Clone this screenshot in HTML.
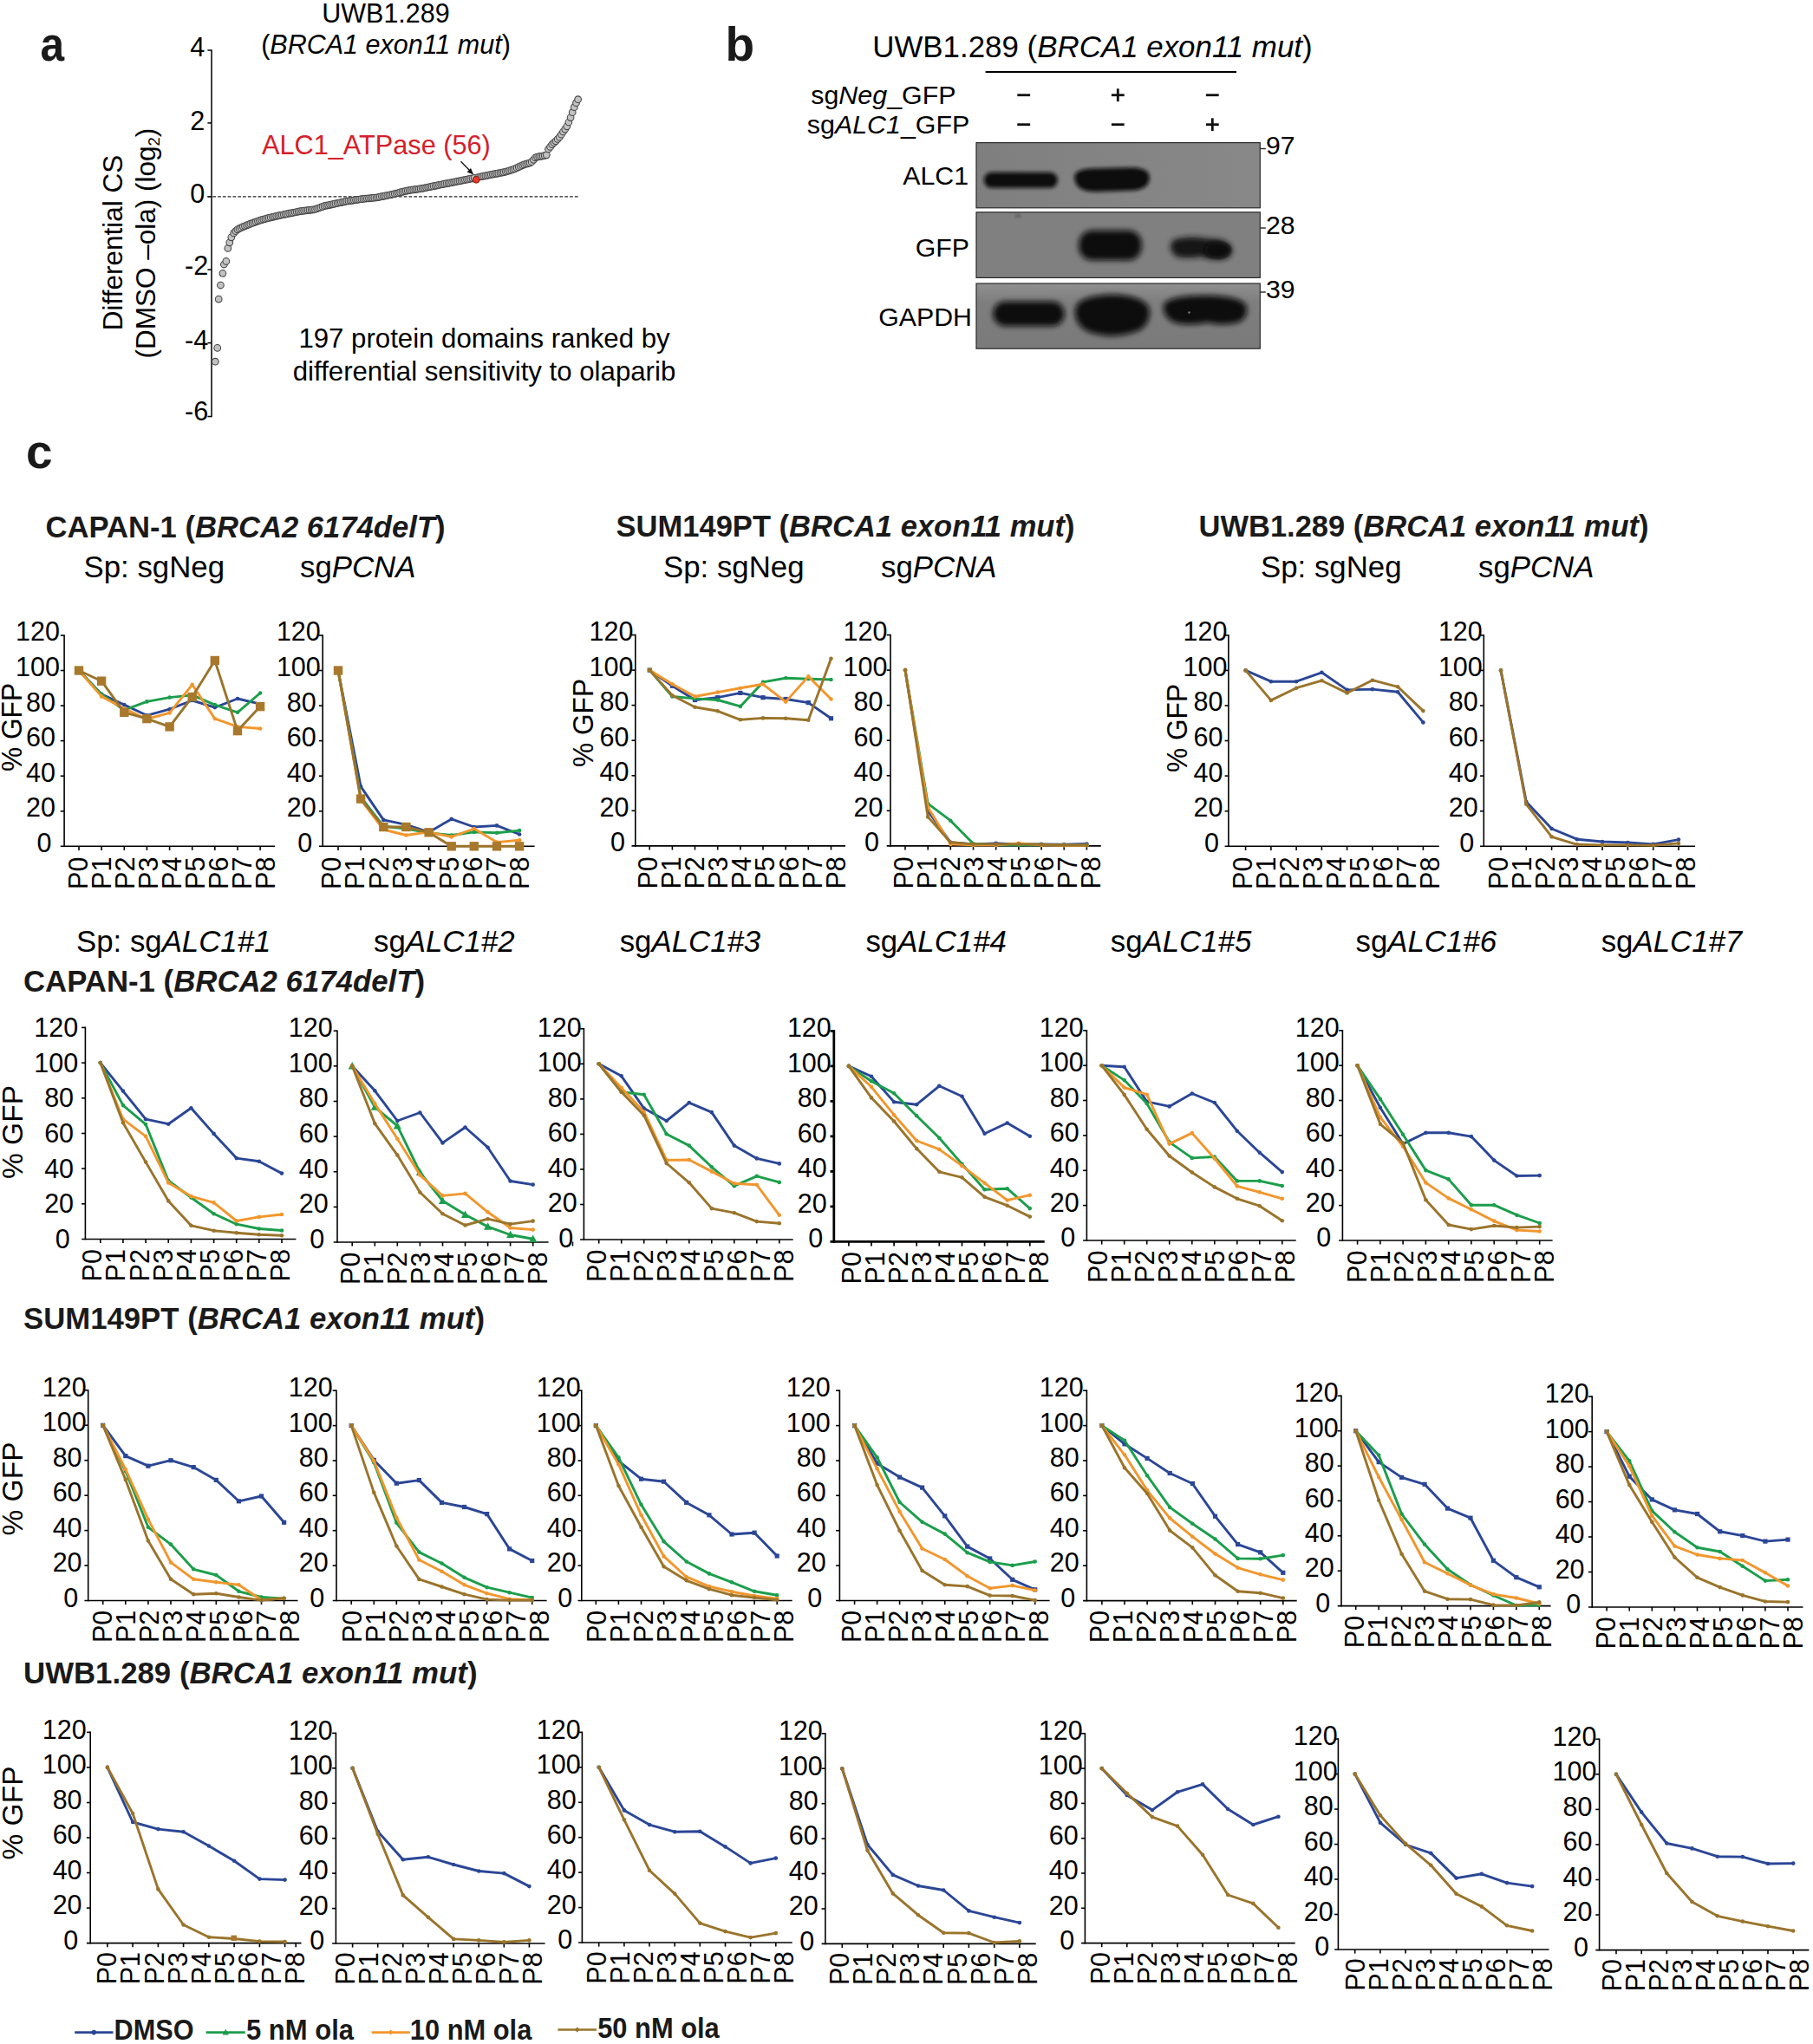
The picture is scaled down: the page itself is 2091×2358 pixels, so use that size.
<!DOCTYPE html>
<html lang="en"><head><meta charset="utf-8"><title>Figure</title>
<style>html,body{margin:0;padding:0;background:#fff}svg{display:block}</style></head>
<body>
<svg width="2091" height="2358" viewBox="0 0 2091 2358" font-family="Liberation Sans, Arial, Helvetica, sans-serif" fill="#000">
<defs><filter id="bl3" x="-30%" y="-60%" width="160%" height="220%"><feGaussianBlur stdDeviation="3"/></filter><filter id="bl4" x="-30%" y="-60%" width="160%" height="220%"><feGaussianBlur stdDeviation="4.5"/></filter><filter id="bl2" x="-30%" y="-60%" width="160%" height="220%"><feGaussianBlur stdDeviation="2"/></filter><clipPath id="cb1"><rect x="1126" y="164.6" width="327.3" height="75.2"/></clipPath><clipPath id="cb2"><rect x="1126" y="244.8" width="327.3" height="75.6"/></clipPath><clipPath id="cb3"><rect x="1126" y="327" width="327.3" height="75.2"/></clipPath><linearGradient id="g3" x1="0" y1="0" x2="0" y2="1"><stop offset="0" stop-color="#8f8f8f"/><stop offset="0.3" stop-color="#7e7e7e"/><stop offset="1" stop-color="#7a7a7a"/></linearGradient><linearGradient id="g1" x1="0" y1="0" x2="1" y2="0"><stop offset="0" stop-color="#7f7f7f"/><stop offset="0.5" stop-color="#848484"/><stop offset="1" stop-color="#888888"/></linearGradient></defs>
<rect width="2091" height="2358" fill="#fff"/>
<text font-size="55" font-weight="bold" fill="#1a1a1a" textLength="27.6" lengthAdjust="spacingAndGlyphs" x="46.5" y="70.0" >a</text>
<text font-size="55" font-weight="bold" fill="#1a1a1a" x="836.5" y="69.5" >b</text>
<text font-size="55" font-weight="bold" fill="#1a1a1a" x="30.0" y="539.5" >c</text>
<text font-size="30.5" text-anchor="middle" x="445.0" y="26.0" >UWB1.289</text>
<text font-size="30.5" text-anchor="middle" x="445.0" y="61.8" >(<tspan font-style="italic">BRCA1 exon11 mut</tspan>)</text>
<line x1="244.0" y1="57.2" x2="244.0" y2="481.2" stroke="#000" stroke-width="1.5" />
<line x1="239.4" y1="58.0" x2="244.0" y2="58.0" stroke="#000" stroke-width="1.5" />
<text font-size="30.6" text-anchor="end" x="236.3" y="65.0" >4</text>
<line x1="239.4" y1="141.9" x2="244.0" y2="141.9" stroke="#000" stroke-width="1.5" />
<text font-size="30.6" text-anchor="end" x="236.3" y="150.2" >2</text>
<line x1="239.4" y1="226.8" x2="244.0" y2="226.8" stroke="#000" stroke-width="1.5" />
<text font-size="30.6" text-anchor="end" x="236.3" y="234.3" >0</text>
<line x1="239.4" y1="311.1" x2="244.0" y2="311.1" stroke="#000" stroke-width="1.5" />
<text font-size="30.6" text-anchor="end" x="240.2" y="317.0" >-2</text>
<line x1="239.4" y1="395.6" x2="244.0" y2="395.6" stroke="#000" stroke-width="1.5" />
<text font-size="30.6" text-anchor="end" x="240.2" y="402.6" >-4</text>
<line x1="239.4" y1="480.5" x2="244.0" y2="480.5" stroke="#000" stroke-width="1.5" />
<text font-size="30.6" text-anchor="end" x="240.2" y="485.3" >-6</text>
<line x1="239.5" y1="226.9" x2="667.0" y2="226.9" stroke="#222" stroke-width="1.4" stroke-dasharray="3.7 2.1"/>
<g fill="#c2c2c2" stroke="#444" stroke-width="1.05">
<circle cx="248.3" cy="417.2" r="3.85"/>
<circle cx="250.7" cy="401.4" r="3.85"/>
<circle cx="252.2" cy="345.1" r="3.85"/>
<circle cx="254.4" cy="329.0" r="3.85"/>
<circle cx="256.9" cy="315.3" r="3.85"/>
<circle cx="258.4" cy="305.0" r="3.85"/>
<circle cx="260.8" cy="301.4" r="3.85"/>
<circle cx="262.8" cy="286.4" r="3.85"/>
<circle cx="264.8" cy="279.8" r="3.85"/>
<circle cx="266.8" cy="273.8" r="3.85"/>
<circle cx="269.6" cy="268.9" r="3.85"/>
<circle cx="271.8" cy="266.7" r="3.85"/>
<circle cx="273.9" cy="264.8" r="3.85"/>
<circle cx="276.0" cy="263.7" r="3.85"/>
<circle cx="278.2" cy="262.7" r="3.85"/>
<circle cx="280.3" cy="261.6" r="3.85"/>
<circle cx="282.4" cy="260.8" r="3.85"/>
<circle cx="284.6" cy="259.9" r="3.85"/>
<circle cx="286.7" cy="259.1" r="3.85"/>
<circle cx="288.8" cy="258.2" r="3.85"/>
<circle cx="291.0" cy="257.4" r="3.85"/>
<circle cx="293.1" cy="256.7" r="3.85"/>
<circle cx="295.3" cy="255.9" r="3.85"/>
<circle cx="297.4" cy="255.1" r="3.85"/>
<circle cx="299.5" cy="254.3" r="3.85"/>
<circle cx="301.7" cy="253.6" r="3.85"/>
<circle cx="303.8" cy="253.0" r="3.85"/>
<circle cx="305.9" cy="252.5" r="3.85"/>
<circle cx="308.1" cy="251.9" r="3.85"/>
<circle cx="310.2" cy="251.4" r="3.85"/>
<circle cx="312.3" cy="250.9" r="3.85"/>
<circle cx="314.5" cy="250.3" r="3.85"/>
<circle cx="316.6" cy="249.8" r="3.85"/>
<circle cx="318.7" cy="249.3" r="3.85"/>
<circle cx="320.9" cy="248.8" r="3.85"/>
<circle cx="323.0" cy="248.4" r="3.85"/>
<circle cx="325.1" cy="248.0" r="3.85"/>
<circle cx="327.3" cy="247.5" r="3.85"/>
<circle cx="329.4" cy="247.1" r="3.85"/>
<circle cx="331.5" cy="246.7" r="3.85"/>
<circle cx="333.7" cy="246.2" r="3.85"/>
<circle cx="335.8" cy="245.8" r="3.85"/>
<circle cx="337.9" cy="245.4" r="3.85"/>
<circle cx="340.1" cy="245.0" r="3.85"/>
<circle cx="342.2" cy="244.5" r="3.85"/>
<circle cx="344.3" cy="244.1" r="3.85"/>
<circle cx="346.5" cy="243.7" r="3.85"/>
<circle cx="348.6" cy="243.4" r="3.85"/>
<circle cx="350.7" cy="243.2" r="3.85"/>
<circle cx="352.9" cy="242.9" r="3.85"/>
<circle cx="355.0" cy="242.6" r="3.85"/>
<circle cx="357.1" cy="242.3" r="3.85"/>
<circle cx="359.3" cy="242.1" r="3.85"/>
<circle cx="361.4" cy="241.8" r="3.85"/>
<circle cx="363.5" cy="241.5" r="3.85"/>
<circle cx="365.7" cy="240.7" r="3.85"/>
<circle cx="367.8" cy="240.0" r="3.85"/>
<circle cx="369.9" cy="239.2" r="3.85"/>
<circle cx="372.1" cy="238.4" r="3.85"/>
<circle cx="374.2" cy="237.7" r="3.85"/>
<circle cx="376.4" cy="237.2" r="3.85"/>
<circle cx="378.5" cy="236.8" r="3.85"/>
<circle cx="380.6" cy="236.3" r="3.85"/>
<circle cx="382.8" cy="235.8" r="3.85"/>
<circle cx="384.9" cy="235.4" r="3.85"/>
<circle cx="387.0" cy="234.9" r="3.85"/>
<circle cx="389.2" cy="234.5" r="3.85"/>
<circle cx="391.3" cy="234.0" r="3.85"/>
<circle cx="393.4" cy="233.6" r="3.85"/>
<circle cx="395.6" cy="233.1" r="3.85"/>
<circle cx="397.7" cy="232.6" r="3.85"/>
<circle cx="399.8" cy="232.2" r="3.85"/>
<circle cx="402.0" cy="231.9" r="3.85"/>
<circle cx="404.1" cy="231.6" r="3.85"/>
<circle cx="406.2" cy="231.3" r="3.85"/>
<circle cx="408.4" cy="230.9" r="3.85"/>
<circle cx="410.5" cy="230.6" r="3.85"/>
<circle cx="412.6" cy="230.3" r="3.85"/>
<circle cx="414.8" cy="230.0" r="3.85"/>
<circle cx="416.9" cy="229.7" r="3.85"/>
<circle cx="419.0" cy="229.5" r="3.85"/>
<circle cx="421.2" cy="229.2" r="3.85"/>
<circle cx="423.3" cy="229.0" r="3.85"/>
<circle cx="425.4" cy="228.8" r="3.85"/>
<circle cx="427.6" cy="228.6" r="3.85"/>
<circle cx="429.7" cy="228.4" r="3.85"/>
<circle cx="431.8" cy="228.2" r="3.85"/>
<circle cx="434.0" cy="228.0" r="3.85"/>
<circle cx="436.1" cy="227.6" r="3.85"/>
<circle cx="438.2" cy="227.2" r="3.85"/>
<circle cx="440.4" cy="226.7" r="3.85"/>
<circle cx="442.5" cy="226.3" r="3.85"/>
<circle cx="444.6" cy="225.9" r="3.85"/>
<circle cx="446.8" cy="225.4" r="3.85"/>
<circle cx="448.9" cy="225.0" r="3.85"/>
<circle cx="451.0" cy="224.6" r="3.85"/>
<circle cx="453.2" cy="224.1" r="3.85"/>
<circle cx="455.3" cy="223.5" r="3.85"/>
<circle cx="457.5" cy="223.0" r="3.85"/>
<circle cx="459.6" cy="222.5" r="3.85"/>
<circle cx="461.7" cy="221.9" r="3.85"/>
<circle cx="463.9" cy="221.4" r="3.85"/>
<circle cx="466.0" cy="220.9" r="3.85"/>
<circle cx="468.1" cy="220.3" r="3.85"/>
<circle cx="470.3" cy="219.9" r="3.85"/>
<circle cx="472.4" cy="219.6" r="3.85"/>
<circle cx="474.5" cy="219.2" r="3.85"/>
<circle cx="476.7" cy="218.9" r="3.85"/>
<circle cx="478.8" cy="218.6" r="3.85"/>
<circle cx="480.9" cy="218.3" r="3.85"/>
<circle cx="483.1" cy="218.0" r="3.85"/>
<circle cx="485.2" cy="217.7" r="3.85"/>
<circle cx="487.3" cy="217.4" r="3.85"/>
<circle cx="489.5" cy="216.9" r="3.85"/>
<circle cx="491.6" cy="216.5" r="3.85"/>
<circle cx="493.7" cy="216.0" r="3.85"/>
<circle cx="495.9" cy="215.6" r="3.85"/>
<circle cx="498.0" cy="215.2" r="3.85"/>
<circle cx="500.1" cy="214.7" r="3.85"/>
<circle cx="502.3" cy="214.3" r="3.85"/>
<circle cx="504.4" cy="213.9" r="3.85"/>
<circle cx="506.5" cy="213.4" r="3.85"/>
<circle cx="508.7" cy="213.0" r="3.85"/>
<circle cx="510.8" cy="212.6" r="3.85"/>
<circle cx="512.9" cy="212.2" r="3.85"/>
<circle cx="515.1" cy="211.7" r="3.85"/>
<circle cx="517.2" cy="211.3" r="3.85"/>
<circle cx="519.3" cy="210.9" r="3.85"/>
<circle cx="521.5" cy="210.5" r="3.85"/>
<circle cx="523.6" cy="210.1" r="3.85"/>
<circle cx="525.7" cy="209.6" r="3.85"/>
<circle cx="527.9" cy="209.2" r="3.85"/>
<circle cx="530.0" cy="208.8" r="3.85"/>
<circle cx="532.1" cy="208.4" r="3.85"/>
<circle cx="534.3" cy="207.9" r="3.85"/>
<circle cx="536.4" cy="207.5" r="3.85"/>
<circle cx="538.5" cy="207.1" r="3.85"/>
<circle cx="540.7" cy="206.7" r="3.85"/>
<circle cx="542.8" cy="206.2" r="3.85"/>
<circle cx="545.0" cy="205.8" r="3.85"/>
<circle cx="547.1" cy="205.3" r="3.85"/>
<circle cx="551.4" cy="204.5" r="3.85"/>
<circle cx="553.5" cy="204.0" r="3.85"/>
<circle cx="555.6" cy="203.6" r="3.85"/>
<circle cx="557.8" cy="203.2" r="3.85"/>
<circle cx="559.9" cy="202.8" r="3.85"/>
<circle cx="562.0" cy="202.4" r="3.85"/>
<circle cx="564.2" cy="201.9" r="3.85"/>
<circle cx="566.3" cy="201.5" r="3.85"/>
<circle cx="568.4" cy="201.1" r="3.85"/>
<circle cx="570.6" cy="200.7" r="3.85"/>
<circle cx="572.7" cy="200.3" r="3.85"/>
<circle cx="574.8" cy="199.9" r="3.85"/>
<circle cx="577.0" cy="199.5" r="3.85"/>
<circle cx="579.1" cy="199.1" r="3.85"/>
<circle cx="581.2" cy="198.7" r="3.85"/>
<circle cx="583.4" cy="198.1" r="3.85"/>
<circle cx="585.5" cy="197.5" r="3.85"/>
<circle cx="587.6" cy="196.8" r="3.85"/>
<circle cx="589.8" cy="196.2" r="3.85"/>
<circle cx="591.9" cy="195.5" r="3.85"/>
<circle cx="594.0" cy="194.7" r="3.85"/>
<circle cx="596.2" cy="193.7" r="3.85"/>
<circle cx="598.3" cy="192.7" r="3.85"/>
<circle cx="600.4" cy="191.7" r="3.85"/>
<circle cx="602.6" cy="190.7" r="3.85"/>
<circle cx="604.7" cy="189.9" r="3.85"/>
<circle cx="606.8" cy="189.2" r="3.85"/>
<circle cx="609.0" cy="188.6" r="3.85"/>
<circle cx="611.1" cy="187.9" r="3.85"/>
<circle cx="613.2" cy="186.7" r="3.85"/>
<circle cx="615.4" cy="184.3" r="3.85"/>
<circle cx="617.5" cy="181.9" r="3.85"/>
<circle cx="619.6" cy="181.1" r="3.85"/>
<circle cx="621.8" cy="180.7" r="3.85"/>
<circle cx="623.9" cy="180.3" r="3.85"/>
<circle cx="626.1" cy="180.0" r="3.85"/>
<circle cx="628.2" cy="179.4" r="3.85"/>
<circle cx="630.3" cy="178.8" r="3.85"/>
<circle cx="632.5" cy="172.0" r="3.85"/>
<circle cx="634.6" cy="169.4" r="3.85"/>
<circle cx="636.7" cy="166.7" r="3.85"/>
<circle cx="638.9" cy="164.7" r="3.85"/>
<circle cx="641.0" cy="162.8" r="3.85"/>
<circle cx="643.1" cy="160.5" r="3.85"/>
<circle cx="645.3" cy="158.2" r="3.85"/>
<circle cx="647.4" cy="155.2" r="3.85"/>
<circle cx="649.5" cy="152.0" r="3.85"/>
<circle cx="651.7" cy="149.1" r="3.85"/>
<circle cx="653.8" cy="145.8" r="3.85"/>
<circle cx="655.9" cy="141.0" r="3.85"/>
<circle cx="658.1" cy="135.6" r="3.85"/>
<circle cx="660.2" cy="129.7" r="3.85"/>
<circle cx="662.3" cy="123.7" r="3.85"/>
<circle cx="664.5" cy="118.7" r="3.85"/>
<circle cx="666.6" cy="114.7" r="3.85"/>
</g>
<circle cx="549.2" cy="207.3" r="3.9" fill="#e8392b" stroke="#7a1a12" stroke-width="0.9"/>
<text font-size="30.7" fill="#d4202a" x="302.0" y="177.8" >ALC1_ATPase (56)</text>
<path d="M531.5,186.3 L543.5,198.5" stroke="#111" stroke-width="1.3" fill="none"/>
<path d="M546.2,201.6 L538.6,198.4 L543.0,194.0 Z" fill="#111"/>
<text font-size="31.5" text-anchor="middle" transform="translate(141.0,280.0) rotate(-90)" >Differential CS</text>
<text font-size="31.2" text-anchor="middle" x="558.5" y="401.2" >197 protein domains ranked by</text>
<text font-size="31.2" text-anchor="middle" x="558.5" y="438.5" >differential sensitivity to olaparib</text>
<text font-size="34.9" x="1006.2" y="65.8" >UWB1.289 (<tspan font-style="italic">BRCA1 exon11 mut</tspan>)</text>
<line x1="1136.6" y1="83.0" x2="1426.0" y2="83.0" stroke="#000" stroke-width="2" />
<text font-size="30.4" text-anchor="end" x="1102.5" y="120.3" >sg<tspan font-style="italic">Neg</tspan>_GFP</text>
<text font-size="30.4" text-anchor="end" x="1118.3" y="154.3" >sg<tspan font-style="italic">ALC1</tspan>_GFP</text>
<rect x="1173.3" y="108.3" width="14.8" height="2.8" fill="#111"/>
<rect x="1281.9" y="108.3" width="14.8" height="2.8" fill="#111"/>
<rect x="1287.9" y="102.3" width="2.8" height="14.8" fill="#111"/>
<rect x="1390.9" y="108.3" width="14.8" height="2.8" fill="#111"/>
<rect x="1173.3" y="142.3" width="14.8" height="2.8" fill="#111"/>
<rect x="1281.9" y="142.3" width="14.8" height="2.8" fill="#111"/>
<rect x="1390.9" y="142.3" width="14.8" height="2.8" fill="#111"/>
<rect x="1396.9" y="136.3" width="2.8" height="14.8" fill="#111"/>
<text font-size="30.3" text-anchor="end" x="1117.0" y="213.3" >ALC1</text>
<text font-size="30.3" text-anchor="end" x="1118.0" y="296.0" >GFP</text>
<text font-size="30.3" text-anchor="end" x="1121.0" y="376.0" >GAPDH</text>
<rect x="1126" y="164.6" width="327.3" height="75.2" fill="url(#g1)"/>
<rect x="1126" y="244.8" width="327.3" height="75.6" fill="#808080"/>
<rect x="1126" y="327" width="327.3" height="75.2" fill="url(#g3)"/>
<g clip-path="url(#cb1)">
<rect x="1137.5" y="201.5" width="79.5" height="12.5" rx="6" fill="#0d0d0d" stroke="#0d0d0d" stroke-width="5.5" stroke-linejoin="round" filter="url(#bl2)"/>
<path d="M1242,204 Q1242,197.5 1262,197 L1306,196 Q1323,196.5 1323,205 Q1323,215 1308,217 L1262,218.5 Q1242,218 1242,204 Z" fill="#0b0b0b" stroke="#0b0b0b" stroke-width="5.5" stroke-linejoin="round" filter="url(#bl2)"/>
</g>
<g clip-path="url(#cb2)">
<rect x="1247" y="268.5" width="67" height="29" rx="13" fill="#0c0c0c" stroke="#0c0c0c" stroke-width="5.5" stroke-linejoin="round" filter="url(#bl3)"/>
<path d="M1355,279 Q1372,274 1392,278 Q1412,277 1418,286 Q1420,296 1406,297 Q1394,297 1386,293 Q1372,296 1359,294 Q1349,287 1355,279 Z" fill="#161616" stroke="#161616" stroke-width="5.5" stroke-linejoin="round" filter="url(#bl3)"/>
<ellipse cx="1404" cy="288.5" rx="12" ry="6" fill="#0e0e0e" stroke="#0e0e0e" stroke-width="5.5" stroke-linejoin="round" filter="url(#bl2)"/>
<ellipse cx="1174" cy="249" rx="3" ry="1.2" fill="#333" filter="url(#bl2)"/>
</g>
<g clip-path="url(#cb3)">
<rect x="1148" y="350.5" width="77" height="23" rx="11.5" fill="#0a0a0a" stroke="#0a0a0a" stroke-width="5.5" stroke-linejoin="round" filter="url(#bl3)"/>
<path d="M1243,356 Q1246,344 1283,342.5 Q1320,344 1323,358 Q1324,372 1312,379 Q1283,390 1256,380 Q1241,372 1243,356 Z" fill="#080808" stroke="#080808" stroke-width="5.5" stroke-linejoin="round" filter="url(#bl3)"/>
<path d="M1345,352 Q1350,344 1390,343.5 Q1430,344 1435,354 Q1437,364 1428,369 Q1412,374 1392,369 Q1372,374 1354,369 Q1343,362 1345,352 Z" fill="#0a0a0a" stroke="#0a0a0a" stroke-width="5.5" stroke-linejoin="round" filter="url(#bl3)"/>
<circle cx="1371.5" cy="360.5" r="1.3" fill="#777"/>
</g>
<rect x="1126" y="164.6" width="327.3" height="75.2" fill="none" stroke="#2a2a2a" stroke-width="1.2"/>
<rect x="1126" y="244.8" width="327.3" height="75.6" fill="none" stroke="#2a2a2a" stroke-width="1.2"/>
<rect x="1126" y="327" width="327.3" height="75.2" fill="none" stroke="#2a2a2a" stroke-width="1.2"/>
<line x1="1453.5" y1="171.5" x2="1459.8" y2="171.5" stroke="#222" stroke-width="1.4" />
<text font-size="30.2" x="1459.9" y="177.6" >97</text>
<line x1="1453.5" y1="263.0" x2="1459.8" y2="263.0" stroke="#222" stroke-width="1.4" />
<text font-size="30.2" x="1459.9" y="269.5" >28</text>
<line x1="1453.5" y1="337.0" x2="1459.8" y2="337.0" stroke="#222" stroke-width="1.4" />
<text font-size="30.2" x="1459.9" y="344.4" >39</text>
<text font-size="31.5" text-anchor="middle" transform="translate(178.7,280.6) rotate(-90)">(DMSO –ola) (log<tspan font-size="18.5" dy="5.5">2</tspan><tspan dy="-5.5">)</tspan></text>
<text font-size="34.7" font-weight="bold" fill="#1a1a1a" textLength="461" lengthAdjust="spacingAndGlyphs" x="52.5" y="619.8" >CAPAN-1 (<tspan font-style="italic">BRCA2 6174delT</tspan>)</text>
<text font-size="34.7" font-weight="bold" fill="#1a1a1a" textLength="529" lengthAdjust="spacingAndGlyphs" x="710.5" y="618.6" >SUM149PT (<tspan font-style="italic">BRCA1 exon11 mut</tspan>)</text>
<text font-size="34.7" font-weight="bold" fill="#1a1a1a" textLength="519" lengthAdjust="spacingAndGlyphs" x="1382.5" y="619.0" >UWB1.289 (<tspan font-style="italic">BRCA1 exon11 mut</tspan>)</text>
<text font-size="34.8" x="96.5" y="665.5" >Sp: sgNeg</text>
<text font-size="34.8" x="346.0" y="665.5" >sg<tspan font-style="italic">PCNA</tspan></text>
<text font-size="34.8" x="765.0" y="665.5" >Sp: sgNeg</text>
<text font-size="34.8" x="1016.0" y="665.5" >sg<tspan font-style="italic">PCNA</tspan></text>
<text font-size="34.8" x="1454.0" y="665.5" >Sp: sgNeg</text>
<text font-size="34.8" x="1705.0" y="665.5" >sg<tspan font-style="italic">PCNA</tspan></text>
<line x1="74.1" y1="732.2" x2="74.1" y2="977.1" stroke="#000" stroke-width="1.6" />
<line x1="69.8" y1="976.3" x2="317.0" y2="976.3" stroke="#000" stroke-width="1.6" />
<text font-size="30.5" text-anchor="end" x="59.4" y="982.7" >0</text>
<line x1="69.8" y1="935.8" x2="74.1" y2="935.8" stroke="#000" stroke-width="1.6" />
<text font-size="30.5" text-anchor="end" x="63.9" y="942.2" >20</text>
<line x1="69.8" y1="895.2" x2="74.1" y2="895.2" stroke="#000" stroke-width="1.6" />
<text font-size="30.5" text-anchor="end" x="63.9" y="901.6" >40</text>
<line x1="69.8" y1="854.6" x2="74.1" y2="854.6" stroke="#000" stroke-width="1.6" />
<text font-size="30.5" text-anchor="end" x="63.9" y="861.1" >60</text>
<line x1="69.8" y1="814.1" x2="74.1" y2="814.1" stroke="#000" stroke-width="1.6" />
<text font-size="30.5" text-anchor="end" x="63.9" y="820.5" >80</text>
<line x1="69.8" y1="773.5" x2="74.1" y2="773.5" stroke="#000" stroke-width="1.6" />
<text font-size="30.5" text-anchor="end" x="68.9" y="780.0" >100</text>
<line x1="69.8" y1="733.0" x2="74.1" y2="733.0" stroke="#000" stroke-width="1.6" />
<text font-size="30.5" text-anchor="end" x="68.9" y="739.4" >120</text>
<line x1="91.0" y1="976.3" x2="91.0" y2="980.9" stroke="#000" stroke-width="1.6" />
<line x1="117.1" y1="976.3" x2="117.1" y2="980.9" stroke="#000" stroke-width="1.6" />
<line x1="143.3" y1="976.3" x2="143.3" y2="980.9" stroke="#000" stroke-width="1.6" />
<line x1="169.4" y1="976.3" x2="169.4" y2="980.9" stroke="#000" stroke-width="1.6" />
<line x1="195.6" y1="976.3" x2="195.6" y2="980.9" stroke="#000" stroke-width="1.6" />
<line x1="221.7" y1="976.3" x2="221.7" y2="980.9" stroke="#000" stroke-width="1.6" />
<line x1="247.8" y1="976.3" x2="247.8" y2="980.9" stroke="#000" stroke-width="1.6" />
<line x1="274.0" y1="976.3" x2="274.0" y2="980.9" stroke="#000" stroke-width="1.6" />
<line x1="300.1" y1="976.3" x2="300.1" y2="980.9" stroke="#000" stroke-width="1.6" />
<text font-size="30.6" text-anchor="end" transform="translate(100.5,988.6) rotate(-90)" >P0</text>
<text font-size="30.6" text-anchor="end" transform="translate(127.5,988.6) rotate(-90)" >P1</text>
<text font-size="30.6" text-anchor="end" transform="translate(154.6,988.6) rotate(-90)" >P2</text>
<text font-size="30.6" text-anchor="end" transform="translate(181.6,988.6) rotate(-90)" >P3</text>
<text font-size="30.6" text-anchor="end" transform="translate(208.6,988.6) rotate(-90)" >P4</text>
<text font-size="30.6" text-anchor="end" transform="translate(235.7,988.6) rotate(-90)" >P5</text>
<text font-size="30.6" text-anchor="end" transform="translate(262.7,988.6) rotate(-90)" >P6</text>
<text font-size="30.6" text-anchor="end" transform="translate(289.7,988.6) rotate(-90)" >P7</text>
<text font-size="30.6" text-anchor="end" transform="translate(316.7,988.6) rotate(-90)" >P8</text>
<polyline points="91.0,773.5 117.1,800.9 143.3,813.1 169.4,825.3 195.6,818.2 221.7,808.0 247.8,816.1 274.0,806.0 300.1,812.1" fill="none" stroke="#2a4696" stroke-width="2.9" stroke-linejoin="round" stroke-linecap="round"/>
<circle cx="91.0" cy="773.5" r="2.3" fill="#2a4696"/>
<circle cx="117.1" cy="800.9" r="2.3" fill="#2a4696"/>
<circle cx="143.3" cy="813.1" r="2.3" fill="#2a4696"/>
<circle cx="169.4" cy="825.3" r="2.3" fill="#2a4696"/>
<circle cx="195.6" cy="818.2" r="2.3" fill="#2a4696"/>
<circle cx="221.7" cy="808.0" r="2.3" fill="#2a4696"/>
<circle cx="247.8" cy="816.1" r="2.3" fill="#2a4696"/>
<circle cx="274.0" cy="806.0" r="2.3" fill="#2a4696"/>
<circle cx="300.1" cy="812.1" r="2.3" fill="#2a4696"/>
<polyline points="91.0,773.5 117.1,800.9 143.3,819.2 169.4,809.4 195.6,804.6 221.7,801.9 247.8,813.1 274.0,821.8 300.1,799.5" fill="none" stroke="#1b9e4b" stroke-width="2.9" stroke-linejoin="round" stroke-linecap="round"/>
<circle cx="91.0" cy="773.5" r="2.3" fill="#1b9e4b"/>
<circle cx="117.1" cy="800.9" r="2.3" fill="#1b9e4b"/>
<circle cx="143.3" cy="819.2" r="2.3" fill="#1b9e4b"/>
<circle cx="169.4" cy="809.4" r="2.3" fill="#1b9e4b"/>
<circle cx="195.6" cy="804.6" r="2.3" fill="#1b9e4b"/>
<circle cx="221.7" cy="801.9" r="2.3" fill="#1b9e4b"/>
<circle cx="247.8" cy="813.1" r="2.3" fill="#1b9e4b"/>
<circle cx="274.0" cy="821.8" r="2.3" fill="#1b9e4b"/>
<circle cx="300.1" cy="799.5" r="2.3" fill="#1b9e4b"/>
<polyline points="91.0,773.5 117.1,803.4 143.3,817.5 169.4,829.5 195.6,822.4 221.7,789.8 247.8,829.1 274.0,838.4 300.1,840.5" fill="none" stroke="#f2962c" stroke-width="2.9" stroke-linejoin="round" stroke-linecap="round"/>
<circle cx="91.0" cy="773.5" r="2.3" fill="#f2962c"/>
<circle cx="117.1" cy="803.4" r="2.3" fill="#f2962c"/>
<circle cx="143.3" cy="817.5" r="2.3" fill="#f2962c"/>
<circle cx="169.4" cy="829.5" r="2.3" fill="#f2962c"/>
<circle cx="195.6" cy="822.4" r="2.3" fill="#f2962c"/>
<circle cx="221.7" cy="789.8" r="2.3" fill="#f2962c"/>
<circle cx="247.8" cy="829.1" r="2.3" fill="#f2962c"/>
<circle cx="274.0" cy="838.4" r="2.3" fill="#f2962c"/>
<circle cx="300.1" cy="840.5" r="2.3" fill="#f2962c"/>
<polyline points="91.0,773.5 117.1,785.7 143.3,821.8 169.4,829.1 195.6,838.4 221.7,804.0 247.8,762.0 274.0,843.1 300.1,815.1" fill="none" stroke="#9a742b" stroke-width="2.9" stroke-linejoin="round" stroke-linecap="round"/>
<rect x="85.8" y="768.3" width="10.4" height="10.4" fill="#a8792c"/>
<rect x="111.9" y="780.5" width="10.4" height="10.4" fill="#a8792c"/>
<rect x="138.1" y="816.6" width="10.4" height="10.4" fill="#a8792c"/>
<rect x="164.2" y="823.9" width="10.4" height="10.4" fill="#a8792c"/>
<rect x="190.4" y="833.2" width="10.4" height="10.4" fill="#a8792c"/>
<rect x="216.5" y="798.8" width="10.4" height="10.4" fill="#a8792c"/>
<rect x="242.6" y="756.8" width="10.4" height="10.4" fill="#a8792c"/>
<rect x="268.8" y="837.9" width="10.4" height="10.4" fill="#a8792c"/>
<rect x="294.9" y="809.9" width="10.4" height="10.4" fill="#a8792c"/>
<text font-size="31.7" text-anchor="middle" transform="translate(24.6,839.0) scale(1.06,1) rotate(-90)" >% GFP</text>
<line x1="372.2" y1="732.2" x2="372.2" y2="977.1" stroke="#000" stroke-width="1.6" />
<line x1="367.9" y1="976.3" x2="616.6" y2="976.3" stroke="#000" stroke-width="1.6" />
<text font-size="30.5" text-anchor="end" x="360.3" y="982.7" >0</text>
<line x1="367.9" y1="935.8" x2="372.2" y2="935.8" stroke="#000" stroke-width="1.6" />
<text font-size="30.5" text-anchor="end" x="364.8" y="942.2" >20</text>
<line x1="367.9" y1="895.2" x2="372.2" y2="895.2" stroke="#000" stroke-width="1.6" />
<text font-size="30.5" text-anchor="end" x="364.8" y="901.6" >40</text>
<line x1="367.9" y1="854.6" x2="372.2" y2="854.6" stroke="#000" stroke-width="1.6" />
<text font-size="30.5" text-anchor="end" x="364.8" y="861.1" >60</text>
<line x1="367.9" y1="814.1" x2="372.2" y2="814.1" stroke="#000" stroke-width="1.6" />
<text font-size="30.5" text-anchor="end" x="364.8" y="820.5" >80</text>
<line x1="367.9" y1="773.5" x2="372.2" y2="773.5" stroke="#000" stroke-width="1.6" />
<text font-size="30.5" text-anchor="end" x="369.8" y="780.0" >100</text>
<line x1="367.9" y1="733.0" x2="372.2" y2="733.0" stroke="#000" stroke-width="1.6" />
<text font-size="30.5" text-anchor="end" x="369.8" y="739.4" >120</text>
<line x1="390.0" y1="976.3" x2="390.0" y2="980.9" stroke="#000" stroke-width="1.6" />
<line x1="416.1" y1="976.3" x2="416.1" y2="980.9" stroke="#000" stroke-width="1.6" />
<line x1="442.3" y1="976.3" x2="442.3" y2="980.9" stroke="#000" stroke-width="1.6" />
<line x1="468.4" y1="976.3" x2="468.4" y2="980.9" stroke="#000" stroke-width="1.6" />
<line x1="494.6" y1="976.3" x2="494.6" y2="980.9" stroke="#000" stroke-width="1.6" />
<line x1="520.7" y1="976.3" x2="520.7" y2="980.9" stroke="#000" stroke-width="1.6" />
<line x1="546.8" y1="976.3" x2="546.8" y2="980.9" stroke="#000" stroke-width="1.6" />
<line x1="573.0" y1="976.3" x2="573.0" y2="980.9" stroke="#000" stroke-width="1.6" />
<line x1="599.1" y1="976.3" x2="599.1" y2="980.9" stroke="#000" stroke-width="1.6" />
<text font-size="30.6" text-anchor="end" transform="translate(393.4,988.6) rotate(-90)" >P0</text>
<text font-size="30.6" text-anchor="end" transform="translate(420.4,988.6) rotate(-90)" >P1</text>
<text font-size="30.6" text-anchor="end" transform="translate(447.5,988.6) rotate(-90)" >P2</text>
<text font-size="30.6" text-anchor="end" transform="translate(474.5,988.6) rotate(-90)" >P3</text>
<text font-size="30.6" text-anchor="end" transform="translate(501.5,988.6) rotate(-90)" >P4</text>
<text font-size="30.6" text-anchor="end" transform="translate(528.5,988.6) rotate(-90)" >P5</text>
<text font-size="30.6" text-anchor="end" transform="translate(555.6,988.6) rotate(-90)" >P6</text>
<text font-size="30.6" text-anchor="end" transform="translate(582.6,988.6) rotate(-90)" >P7</text>
<text font-size="30.6" text-anchor="end" transform="translate(609.6,988.6) rotate(-90)" >P8</text>
<polyline points="390.0,773.5 416.1,907.4 442.3,945.9 468.4,951.4 494.6,959.9 520.7,944.9 546.8,954.0 573.0,952.4 599.1,962.5" fill="none" stroke="#2a4696" stroke-width="2.9" stroke-linejoin="round" stroke-linecap="round"/>
<circle cx="390.0" cy="773.5" r="2.3" fill="#2a4696"/>
<circle cx="416.1" cy="907.4" r="2.3" fill="#2a4696"/>
<circle cx="442.3" cy="945.9" r="2.3" fill="#2a4696"/>
<circle cx="468.4" cy="951.4" r="2.3" fill="#2a4696"/>
<circle cx="494.6" cy="959.9" r="2.3" fill="#2a4696"/>
<circle cx="520.7" cy="944.9" r="2.3" fill="#2a4696"/>
<circle cx="546.8" cy="954.0" r="2.3" fill="#2a4696"/>
<circle cx="573.0" cy="952.4" r="2.3" fill="#2a4696"/>
<circle cx="599.1" cy="962.5" r="2.3" fill="#2a4696"/>
<polyline points="390.0,773.5 416.1,919.5 442.3,953.2 468.4,956.0 494.6,960.7 520.7,963.5 546.8,959.9 573.0,960.7 599.1,958.1" fill="none" stroke="#1b9e4b" stroke-width="2.9" stroke-linejoin="round" stroke-linecap="round"/>
<circle cx="390.0" cy="773.5" r="2.3" fill="#1b9e4b"/>
<circle cx="416.1" cy="919.5" r="2.3" fill="#1b9e4b"/>
<circle cx="442.3" cy="953.2" r="2.3" fill="#1b9e4b"/>
<circle cx="468.4" cy="956.0" r="2.3" fill="#1b9e4b"/>
<circle cx="494.6" cy="960.7" r="2.3" fill="#1b9e4b"/>
<circle cx="520.7" cy="963.5" r="2.3" fill="#1b9e4b"/>
<circle cx="546.8" cy="959.9" r="2.3" fill="#1b9e4b"/>
<circle cx="573.0" cy="960.7" r="2.3" fill="#1b9e4b"/>
<circle cx="599.1" cy="958.1" r="2.3" fill="#1b9e4b"/>
<polyline points="390.0,773.5 416.1,922.4 442.3,957.0 468.4,963.5 494.6,959.9 520.7,965.4 546.8,956.0 573.0,971.6 599.1,969.2" fill="none" stroke="#f2962c" stroke-width="2.9" stroke-linejoin="round" stroke-linecap="round"/>
<circle cx="390.0" cy="773.5" r="2.3" fill="#f2962c"/>
<circle cx="416.1" cy="922.4" r="2.3" fill="#f2962c"/>
<circle cx="442.3" cy="957.0" r="2.3" fill="#f2962c"/>
<circle cx="468.4" cy="963.5" r="2.3" fill="#f2962c"/>
<circle cx="494.6" cy="959.9" r="2.3" fill="#f2962c"/>
<circle cx="520.7" cy="965.4" r="2.3" fill="#f2962c"/>
<circle cx="546.8" cy="956.0" r="2.3" fill="#f2962c"/>
<circle cx="573.0" cy="971.6" r="2.3" fill="#f2962c"/>
<circle cx="599.1" cy="969.2" r="2.3" fill="#f2962c"/>
<polyline points="390.0,773.5 416.1,921.6 442.3,954.0 468.4,954.0 494.6,960.3 520.7,976.3 546.8,976.3 573.0,976.3 599.1,976.3" fill="none" stroke="#9a742b" stroke-width="2.9" stroke-linejoin="round" stroke-linecap="round"/>
<rect x="384.8" y="768.3" width="10.4" height="10.4" fill="#a8792c"/>
<rect x="410.9" y="916.4" width="10.4" height="10.4" fill="#a8792c"/>
<rect x="437.1" y="948.8" width="10.4" height="10.4" fill="#a8792c"/>
<rect x="463.2" y="948.8" width="10.4" height="10.4" fill="#a8792c"/>
<rect x="489.4" y="955.1" width="10.4" height="10.4" fill="#a8792c"/>
<rect x="515.5" y="971.1" width="10.4" height="10.4" fill="#a8792c"/>
<rect x="541.6" y="971.1" width="10.4" height="10.4" fill="#a8792c"/>
<rect x="567.8" y="971.1" width="10.4" height="10.4" fill="#a8792c"/>
<rect x="593.9" y="971.1" width="10.4" height="10.4" fill="#a8792c"/>
<line x1="732.8" y1="731.7" x2="732.8" y2="976.7" stroke="#000" stroke-width="1.6" />
<line x1="728.5" y1="975.9" x2="975.0" y2="975.9" stroke="#000" stroke-width="1.6" />
<text font-size="30.5" text-anchor="end" x="721.0" y="982.3" >0</text>
<line x1="728.5" y1="935.3" x2="732.8" y2="935.3" stroke="#000" stroke-width="1.6" />
<text font-size="30.5" text-anchor="end" x="725.5" y="941.8" >20</text>
<line x1="728.5" y1="894.8" x2="732.8" y2="894.8" stroke="#000" stroke-width="1.6" />
<text font-size="30.5" text-anchor="end" x="725.5" y="901.2" >40</text>
<line x1="728.5" y1="854.2" x2="732.8" y2="854.2" stroke="#000" stroke-width="1.6" />
<text font-size="30.5" text-anchor="end" x="725.5" y="860.6" >60</text>
<line x1="728.5" y1="813.6" x2="732.8" y2="813.6" stroke="#000" stroke-width="1.6" />
<text font-size="30.5" text-anchor="end" x="725.5" y="820.1" >80</text>
<line x1="728.5" y1="773.1" x2="732.8" y2="773.1" stroke="#000" stroke-width="1.6" />
<text font-size="30.5" text-anchor="end" x="730.5" y="779.5" >100</text>
<line x1="728.5" y1="732.5" x2="732.8" y2="732.5" stroke="#000" stroke-width="1.6" />
<text font-size="30.5" text-anchor="end" x="730.5" y="738.9" >120</text>
<line x1="749.2" y1="975.9" x2="749.2" y2="980.5" stroke="#000" stroke-width="1.6" />
<line x1="775.4" y1="975.9" x2="775.4" y2="980.5" stroke="#000" stroke-width="1.6" />
<line x1="801.5" y1="975.9" x2="801.5" y2="980.5" stroke="#000" stroke-width="1.6" />
<line x1="827.7" y1="975.9" x2="827.7" y2="980.5" stroke="#000" stroke-width="1.6" />
<line x1="853.9" y1="975.9" x2="853.9" y2="980.5" stroke="#000" stroke-width="1.6" />
<line x1="880.0" y1="975.9" x2="880.0" y2="980.5" stroke="#000" stroke-width="1.6" />
<line x1="906.2" y1="975.9" x2="906.2" y2="980.5" stroke="#000" stroke-width="1.6" />
<line x1="932.3" y1="975.9" x2="932.3" y2="980.5" stroke="#000" stroke-width="1.6" />
<line x1="958.5" y1="975.9" x2="958.5" y2="980.5" stroke="#000" stroke-width="1.6" />
<text font-size="30.6" text-anchor="end" transform="translate(758.3,988.2) rotate(-90)" >P0</text>
<text font-size="30.6" text-anchor="end" transform="translate(785.3,988.2) rotate(-90)" >P1</text>
<text font-size="30.6" text-anchor="end" transform="translate(812.4,988.2) rotate(-90)" >P2</text>
<text font-size="30.6" text-anchor="end" transform="translate(839.4,988.2) rotate(-90)" >P3</text>
<text font-size="30.6" text-anchor="end" transform="translate(866.4,988.2) rotate(-90)" >P4</text>
<text font-size="30.6" text-anchor="end" transform="translate(893.4,988.2) rotate(-90)" >P5</text>
<text font-size="30.6" text-anchor="end" transform="translate(920.5,988.2) rotate(-90)" >P6</text>
<text font-size="30.6" text-anchor="end" transform="translate(947.5,988.2) rotate(-90)" >P7</text>
<text font-size="30.6" text-anchor="end" transform="translate(974.5,988.2) rotate(-90)" >P8</text>
<polyline points="749.2,773.1 775.4,791.3 801.5,807.5 827.7,804.7 853.9,799.4 880.0,804.7 906.2,806.5 932.3,810.6 958.5,828.8" fill="none" stroke="#2a4696" stroke-width="2.9" stroke-linejoin="round" stroke-linecap="round"/>
<rect x="746.6" y="770.5" width="5.2" height="5.2" fill="#2a4696"/>
<rect x="772.8" y="788.7" width="5.2" height="5.2" fill="#2a4696"/>
<rect x="798.9" y="804.9" width="5.2" height="5.2" fill="#2a4696"/>
<rect x="825.1" y="802.1" width="5.2" height="5.2" fill="#2a4696"/>
<rect x="851.2" y="796.8" width="5.2" height="5.2" fill="#2a4696"/>
<rect x="877.4" y="802.1" width="5.2" height="5.2" fill="#2a4696"/>
<rect x="903.6" y="803.9" width="5.2" height="5.2" fill="#2a4696"/>
<rect x="929.7" y="808.0" width="5.2" height="5.2" fill="#2a4696"/>
<rect x="955.9" y="826.2" width="5.2" height="5.2" fill="#2a4696"/>
<polyline points="749.2,773.1 775.4,803.5 801.5,805.9 827.7,807.5 853.9,814.9 880.0,786.9 906.2,782.2 932.3,783.2 958.5,784.0" fill="none" stroke="#1b9e4b" stroke-width="2.9" stroke-linejoin="round" stroke-linecap="round"/>
<circle cx="749.2" cy="773.1" r="2.3" fill="#1b9e4b"/>
<circle cx="775.4" cy="803.5" r="2.3" fill="#1b9e4b"/>
<circle cx="801.5" cy="805.9" r="2.3" fill="#1b9e4b"/>
<circle cx="827.7" cy="807.5" r="2.3" fill="#1b9e4b"/>
<circle cx="853.9" cy="814.9" r="2.3" fill="#1b9e4b"/>
<circle cx="880.0" cy="786.9" r="2.3" fill="#1b9e4b"/>
<circle cx="906.2" cy="782.2" r="2.3" fill="#1b9e4b"/>
<circle cx="932.3" cy="783.2" r="2.3" fill="#1b9e4b"/>
<circle cx="958.5" cy="784.0" r="2.3" fill="#1b9e4b"/>
<polyline points="749.2,773.1 775.4,789.3 801.5,803.5 827.7,798.6 853.9,793.8 880.0,789.3 906.2,809.6 932.3,780.4 958.5,806.5" fill="none" stroke="#f2962c" stroke-width="2.9" stroke-linejoin="round" stroke-linecap="round"/>
<circle cx="749.2" cy="773.1" r="2.3" fill="#f2962c"/>
<circle cx="775.4" cy="789.3" r="2.3" fill="#f2962c"/>
<circle cx="801.5" cy="803.5" r="2.3" fill="#f2962c"/>
<circle cx="827.7" cy="798.6" r="2.3" fill="#f2962c"/>
<circle cx="853.9" cy="793.8" r="2.3" fill="#f2962c"/>
<circle cx="880.0" cy="789.3" r="2.3" fill="#f2962c"/>
<circle cx="906.2" cy="809.6" r="2.3" fill="#f2962c"/>
<circle cx="932.3" cy="780.4" r="2.3" fill="#f2962c"/>
<circle cx="958.5" cy="806.5" r="2.3" fill="#f2962c"/>
<polyline points="749.2,773.1 775.4,802.3 801.5,815.7 827.7,820.3 853.9,830.3 880.0,828.4 906.2,828.8 932.3,830.7 958.5,759.7" fill="none" stroke="#9a742b" stroke-width="2.9" stroke-linejoin="round" stroke-linecap="round"/>
<circle cx="749.2" cy="773.1" r="2.3" fill="#9a742b"/>
<circle cx="775.4" cy="802.3" r="2.3" fill="#9a742b"/>
<circle cx="801.5" cy="815.7" r="2.3" fill="#9a742b"/>
<circle cx="827.7" cy="820.3" r="2.3" fill="#9a742b"/>
<circle cx="853.9" cy="830.3" r="2.3" fill="#9a742b"/>
<circle cx="880.0" cy="828.4" r="2.3" fill="#9a742b"/>
<circle cx="906.2" cy="828.8" r="2.3" fill="#9a742b"/>
<circle cx="932.3" cy="830.7" r="2.3" fill="#9a742b"/>
<circle cx="958.5" cy="759.7" r="2.3" fill="#9a742b"/>
<text font-size="31.7" text-anchor="middle" transform="translate(683.6,834.0) scale(1.06,1) rotate(-90)" >% GFP</text>
<line x1="1027.0" y1="731.7" x2="1027.0" y2="976.7" stroke="#000" stroke-width="1.6" />
<line x1="1022.7" y1="975.9" x2="1269.8" y2="975.9" stroke="#000" stroke-width="1.6" />
<text font-size="30.5" text-anchor="end" x="1014.0" y="982.3" >0</text>
<line x1="1022.7" y1="935.3" x2="1027.0" y2="935.3" stroke="#000" stroke-width="1.6" />
<text font-size="30.5" text-anchor="end" x="1018.5" y="941.8" >20</text>
<line x1="1022.7" y1="894.8" x2="1027.0" y2="894.8" stroke="#000" stroke-width="1.6" />
<text font-size="30.5" text-anchor="end" x="1018.5" y="901.2" >40</text>
<line x1="1022.7" y1="854.2" x2="1027.0" y2="854.2" stroke="#000" stroke-width="1.6" />
<text font-size="30.5" text-anchor="end" x="1018.5" y="860.6" >60</text>
<line x1="1022.7" y1="813.6" x2="1027.0" y2="813.6" stroke="#000" stroke-width="1.6" />
<text font-size="30.5" text-anchor="end" x="1018.5" y="820.1" >80</text>
<line x1="1022.7" y1="773.1" x2="1027.0" y2="773.1" stroke="#000" stroke-width="1.6" />
<text font-size="30.5" text-anchor="end" x="1023.5" y="779.5" >100</text>
<line x1="1022.7" y1="732.5" x2="1027.0" y2="732.5" stroke="#000" stroke-width="1.6" />
<text font-size="30.5" text-anchor="end" x="1023.5" y="738.9" >120</text>
<line x1="1044.0" y1="975.9" x2="1044.0" y2="980.5" stroke="#000" stroke-width="1.6" />
<line x1="1070.2" y1="975.9" x2="1070.2" y2="980.5" stroke="#000" stroke-width="1.6" />
<line x1="1096.3" y1="975.9" x2="1096.3" y2="980.5" stroke="#000" stroke-width="1.6" />
<line x1="1122.5" y1="975.9" x2="1122.5" y2="980.5" stroke="#000" stroke-width="1.6" />
<line x1="1148.7" y1="975.9" x2="1148.7" y2="980.5" stroke="#000" stroke-width="1.6" />
<line x1="1174.9" y1="975.9" x2="1174.9" y2="980.5" stroke="#000" stroke-width="1.6" />
<line x1="1201.1" y1="975.9" x2="1201.1" y2="980.5" stroke="#000" stroke-width="1.6" />
<line x1="1227.2" y1="975.9" x2="1227.2" y2="980.5" stroke="#000" stroke-width="1.6" />
<line x1="1253.4" y1="975.9" x2="1253.4" y2="980.5" stroke="#000" stroke-width="1.6" />
<text font-size="30.6" text-anchor="end" transform="translate(1053.1,988.2) rotate(-90)" >P0</text>
<text font-size="30.6" text-anchor="end" transform="translate(1080.1,988.2) rotate(-90)" >P1</text>
<text font-size="30.6" text-anchor="end" transform="translate(1107.2,988.2) rotate(-90)" >P2</text>
<text font-size="30.6" text-anchor="end" transform="translate(1134.2,988.2) rotate(-90)" >P3</text>
<text font-size="30.6" text-anchor="end" transform="translate(1161.2,988.2) rotate(-90)" >P4</text>
<text font-size="30.6" text-anchor="end" transform="translate(1188.3,988.2) rotate(-90)" >P5</text>
<text font-size="30.6" text-anchor="end" transform="translate(1215.3,988.2) rotate(-90)" >P6</text>
<text font-size="30.6" text-anchor="end" transform="translate(1242.3,988.2) rotate(-90)" >P7</text>
<text font-size="30.6" text-anchor="end" transform="translate(1269.3,988.2) rotate(-90)" >P8</text>
<polyline points="1044.0,773.1 1070.2,935.3 1096.3,971.8 1122.5,973.9 1148.7,972.9 1174.9,973.9 1201.1,973.9 1227.2,974.3 1253.4,973.5" fill="none" stroke="#2a4696" stroke-width="2.9" stroke-linejoin="round" stroke-linecap="round"/>
<circle cx="1044.0" cy="773.1" r="2.3" fill="#2a4696"/>
<circle cx="1070.2" cy="935.3" r="2.3" fill="#2a4696"/>
<circle cx="1096.3" cy="971.8" r="2.3" fill="#2a4696"/>
<circle cx="1122.5" cy="973.9" r="2.3" fill="#2a4696"/>
<circle cx="1148.7" cy="972.9" r="2.3" fill="#2a4696"/>
<circle cx="1174.9" cy="973.9" r="2.3" fill="#2a4696"/>
<circle cx="1201.1" cy="973.9" r="2.3" fill="#2a4696"/>
<circle cx="1227.2" cy="974.3" r="2.3" fill="#2a4696"/>
<circle cx="1253.4" cy="973.5" r="2.3" fill="#2a4696"/>
<polyline points="1044.0,773.1 1070.2,927.2 1096.3,946.7 1122.5,973.3 1148.7,974.9 1174.9,974.9 1201.1,974.9 1227.2,974.9 1253.4,974.9" fill="none" stroke="#1b9e4b" stroke-width="2.9" stroke-linejoin="round" stroke-linecap="round"/>
<circle cx="1044.0" cy="773.1" r="2.3" fill="#1b9e4b"/>
<circle cx="1070.2" cy="927.2" r="2.3" fill="#1b9e4b"/>
<circle cx="1096.3" cy="946.7" r="2.3" fill="#1b9e4b"/>
<circle cx="1122.5" cy="973.3" r="2.3" fill="#1b9e4b"/>
<circle cx="1148.7" cy="974.9" r="2.3" fill="#1b9e4b"/>
<circle cx="1174.9" cy="974.9" r="2.3" fill="#1b9e4b"/>
<circle cx="1201.1" cy="974.9" r="2.3" fill="#1b9e4b"/>
<circle cx="1227.2" cy="974.9" r="2.3" fill="#1b9e4b"/>
<circle cx="1253.4" cy="974.9" r="2.3" fill="#1b9e4b"/>
<polyline points="1044.0,773.1 1070.2,931.3 1096.3,973.9 1122.5,974.9 1148.7,974.9 1174.9,972.9 1201.1,974.9 1227.2,975.3 1253.4,975.3" fill="none" stroke="#f2962c" stroke-width="2.9" stroke-linejoin="round" stroke-linecap="round"/>
<circle cx="1044.0" cy="773.1" r="2.3" fill="#f2962c"/>
<circle cx="1070.2" cy="931.3" r="2.3" fill="#f2962c"/>
<circle cx="1096.3" cy="973.9" r="2.3" fill="#f2962c"/>
<circle cx="1122.5" cy="974.9" r="2.3" fill="#f2962c"/>
<circle cx="1148.7" cy="974.9" r="2.3" fill="#f2962c"/>
<circle cx="1174.9" cy="972.9" r="2.3" fill="#f2962c"/>
<circle cx="1201.1" cy="974.9" r="2.3" fill="#f2962c"/>
<circle cx="1227.2" cy="975.3" r="2.3" fill="#f2962c"/>
<circle cx="1253.4" cy="975.3" r="2.3" fill="#f2962c"/>
<polyline points="1044.0,773.1 1070.2,942.4 1096.3,971.8 1122.5,973.9 1148.7,973.9 1174.9,973.9 1201.1,974.3 1227.2,974.9 1253.4,974.9" fill="none" stroke="#9a742b" stroke-width="2.9" stroke-linejoin="round" stroke-linecap="round"/>
<circle cx="1044.0" cy="773.1" r="2.3" fill="#9a742b"/>
<circle cx="1070.2" cy="942.4" r="2.3" fill="#9a742b"/>
<circle cx="1096.3" cy="971.8" r="2.3" fill="#9a742b"/>
<circle cx="1122.5" cy="973.9" r="2.3" fill="#9a742b"/>
<circle cx="1148.7" cy="973.9" r="2.3" fill="#9a742b"/>
<circle cx="1174.9" cy="973.9" r="2.3" fill="#9a742b"/>
<circle cx="1201.1" cy="974.3" r="2.3" fill="#9a742b"/>
<circle cx="1227.2" cy="974.9" r="2.3" fill="#9a742b"/>
<circle cx="1253.4" cy="974.9" r="2.3" fill="#9a742b"/>
<line x1="1416.9" y1="732.0" x2="1416.9" y2="977.1" stroke="#000" stroke-width="1.6" />
<line x1="1412.6" y1="976.3" x2="1659.8" y2="976.3" stroke="#000" stroke-width="1.6" />
<text font-size="30.5" text-anchor="end" x="1405.9" y="982.7" >0</text>
<line x1="1412.6" y1="935.7" x2="1416.9" y2="935.7" stroke="#000" stroke-width="1.6" />
<text font-size="30.5" text-anchor="end" x="1410.4" y="942.1" >20</text>
<line x1="1412.6" y1="895.1" x2="1416.9" y2="895.1" stroke="#000" stroke-width="1.6" />
<text font-size="30.5" text-anchor="end" x="1410.4" y="901.6" >40</text>
<line x1="1412.6" y1="854.5" x2="1416.9" y2="854.5" stroke="#000" stroke-width="1.6" />
<text font-size="30.5" text-anchor="end" x="1410.4" y="861.0" >60</text>
<line x1="1412.6" y1="814.0" x2="1416.9" y2="814.0" stroke="#000" stroke-width="1.6" />
<text font-size="30.5" text-anchor="end" x="1410.4" y="820.4" >80</text>
<line x1="1412.6" y1="773.4" x2="1416.9" y2="773.4" stroke="#000" stroke-width="1.6" />
<text font-size="30.5" text-anchor="end" x="1415.4" y="779.8" >100</text>
<line x1="1412.6" y1="732.8" x2="1416.9" y2="732.8" stroke="#000" stroke-width="1.6" />
<text font-size="30.5" text-anchor="end" x="1415.4" y="739.2" >120</text>
<line x1="1436.6" y1="976.3" x2="1436.6" y2="980.9" stroke="#000" stroke-width="1.6" />
<line x1="1465.9" y1="976.3" x2="1465.9" y2="980.9" stroke="#000" stroke-width="1.6" />
<line x1="1495.1" y1="976.3" x2="1495.1" y2="980.9" stroke="#000" stroke-width="1.6" />
<line x1="1524.4" y1="976.3" x2="1524.4" y2="980.9" stroke="#000" stroke-width="1.6" />
<line x1="1553.6" y1="976.3" x2="1553.6" y2="980.9" stroke="#000" stroke-width="1.6" />
<line x1="1582.9" y1="976.3" x2="1582.9" y2="980.9" stroke="#000" stroke-width="1.6" />
<line x1="1612.1" y1="976.3" x2="1612.1" y2="980.9" stroke="#000" stroke-width="1.6" />
<line x1="1641.4" y1="976.3" x2="1641.4" y2="980.9" stroke="#000" stroke-width="1.6" />
<text font-size="30.6" text-anchor="end" transform="translate(1443.7,988.6) rotate(-90)" >P0</text>
<text font-size="30.6" text-anchor="end" transform="translate(1470.7,988.6) rotate(-90)" >P1</text>
<text font-size="30.6" text-anchor="end" transform="translate(1497.8,988.6) rotate(-90)" >P2</text>
<text font-size="30.6" text-anchor="end" transform="translate(1524.8,988.6) rotate(-90)" >P3</text>
<text font-size="30.6" text-anchor="end" transform="translate(1551.8,988.6) rotate(-90)" >P4</text>
<text font-size="30.6" text-anchor="end" transform="translate(1578.9,988.6) rotate(-90)" >P5</text>
<text font-size="30.6" text-anchor="end" transform="translate(1605.9,988.6) rotate(-90)" >P6</text>
<text font-size="30.6" text-anchor="end" transform="translate(1632.9,988.6) rotate(-90)" >P7</text>
<text font-size="30.6" text-anchor="end" transform="translate(1659.9,988.6) rotate(-90)" >P8</text>
<polyline points="1436.6,773.4 1465.9,786.2 1495.1,786.2 1524.4,775.8 1553.6,795.9 1582.9,795.1 1612.1,798.3 1641.4,833.4" fill="none" stroke="#2a4696" stroke-width="2.9" stroke-linejoin="round" stroke-linecap="round"/>
<circle cx="1436.6" cy="773.4" r="2.3" fill="#2a4696"/>
<circle cx="1465.9" cy="786.2" r="2.3" fill="#2a4696"/>
<circle cx="1495.1" cy="786.2" r="2.3" fill="#2a4696"/>
<circle cx="1524.4" cy="775.8" r="2.3" fill="#2a4696"/>
<circle cx="1553.6" cy="795.9" r="2.3" fill="#2a4696"/>
<circle cx="1582.9" cy="795.1" r="2.3" fill="#2a4696"/>
<circle cx="1612.1" cy="798.3" r="2.3" fill="#2a4696"/>
<circle cx="1641.4" cy="833.4" r="2.3" fill="#2a4696"/>
<polyline points="1436.6,773.4 1465.9,807.9 1495.1,793.7 1524.4,785.2 1553.6,799.4 1582.9,784.7 1612.1,792.3 1641.4,820.1" fill="none" stroke="#9a742b" stroke-width="2.9" stroke-linejoin="round" stroke-linecap="round"/>
<circle cx="1436.6" cy="773.4" r="2.3" fill="#9a742b"/>
<circle cx="1465.9" cy="807.9" r="2.3" fill="#9a742b"/>
<circle cx="1495.1" cy="793.7" r="2.3" fill="#9a742b"/>
<circle cx="1524.4" cy="785.2" r="2.3" fill="#9a742b"/>
<circle cx="1553.6" cy="799.4" r="2.3" fill="#9a742b"/>
<circle cx="1582.9" cy="784.7" r="2.3" fill="#9a742b"/>
<circle cx="1612.1" cy="792.3" r="2.3" fill="#9a742b"/>
<circle cx="1641.4" cy="820.1" r="2.3" fill="#9a742b"/>
<text font-size="31.7" text-anchor="middle" transform="translate(1369.1,840.0) scale(1.06,1) rotate(-90)" >% GFP</text>
<line x1="1711.3" y1="732.0" x2="1711.3" y2="977.1" stroke="#000" stroke-width="1.6" />
<line x1="1707.0" y1="976.3" x2="1955.0" y2="976.3" stroke="#000" stroke-width="1.6" />
<text font-size="30.5" text-anchor="end" x="1700.3" y="982.7" >0</text>
<line x1="1707.0" y1="935.7" x2="1711.3" y2="935.7" stroke="#000" stroke-width="1.6" />
<text font-size="30.5" text-anchor="end" x="1704.8" y="942.1" >20</text>
<line x1="1707.0" y1="895.1" x2="1711.3" y2="895.1" stroke="#000" stroke-width="1.6" />
<text font-size="30.5" text-anchor="end" x="1704.8" y="901.6" >40</text>
<line x1="1707.0" y1="854.5" x2="1711.3" y2="854.5" stroke="#000" stroke-width="1.6" />
<text font-size="30.5" text-anchor="end" x="1704.8" y="861.0" >60</text>
<line x1="1707.0" y1="814.0" x2="1711.3" y2="814.0" stroke="#000" stroke-width="1.6" />
<text font-size="30.5" text-anchor="end" x="1704.8" y="820.4" >80</text>
<line x1="1707.0" y1="773.4" x2="1711.3" y2="773.4" stroke="#000" stroke-width="1.6" />
<text font-size="30.5" text-anchor="end" x="1709.8" y="779.8" >100</text>
<line x1="1707.0" y1="732.8" x2="1711.3" y2="732.8" stroke="#000" stroke-width="1.6" />
<text font-size="30.5" text-anchor="end" x="1709.8" y="739.2" >120</text>
<line x1="1731.0" y1="976.3" x2="1731.0" y2="980.9" stroke="#000" stroke-width="1.6" />
<line x1="1760.3" y1="976.3" x2="1760.3" y2="980.9" stroke="#000" stroke-width="1.6" />
<line x1="1789.6" y1="976.3" x2="1789.6" y2="980.9" stroke="#000" stroke-width="1.6" />
<line x1="1818.9" y1="976.3" x2="1818.9" y2="980.9" stroke="#000" stroke-width="1.6" />
<line x1="1848.1" y1="976.3" x2="1848.1" y2="980.9" stroke="#000" stroke-width="1.6" />
<line x1="1877.4" y1="976.3" x2="1877.4" y2="980.9" stroke="#000" stroke-width="1.6" />
<line x1="1906.7" y1="976.3" x2="1906.7" y2="980.9" stroke="#000" stroke-width="1.6" />
<line x1="1936.0" y1="976.3" x2="1936.0" y2="980.9" stroke="#000" stroke-width="1.6" />
<text font-size="30.6" text-anchor="end" transform="translate(1738.9,988.6) rotate(-90)" >P0</text>
<text font-size="30.6" text-anchor="end" transform="translate(1765.9,988.6) rotate(-90)" >P1</text>
<text font-size="30.6" text-anchor="end" transform="translate(1793.0,988.6) rotate(-90)" >P2</text>
<text font-size="30.6" text-anchor="end" transform="translate(1820.0,988.6) rotate(-90)" >P3</text>
<text font-size="30.6" text-anchor="end" transform="translate(1847.0,988.6) rotate(-90)" >P4</text>
<text font-size="30.6" text-anchor="end" transform="translate(1874.1,988.6) rotate(-90)" >P5</text>
<text font-size="30.6" text-anchor="end" transform="translate(1901.1,988.6) rotate(-90)" >P6</text>
<text font-size="30.6" text-anchor="end" transform="translate(1928.1,988.6) rotate(-90)" >P7</text>
<text font-size="30.6" text-anchor="end" transform="translate(1955.1,988.6) rotate(-90)" >P8</text>
<polyline points="1731.0,773.4 1760.3,925.0 1789.6,956.0 1818.9,968.2 1848.1,971.0 1877.4,972.0 1906.7,973.9 1936.0,968.6" fill="none" stroke="#2a4696" stroke-width="2.9" stroke-linejoin="round" stroke-linecap="round"/>
<circle cx="1731.0" cy="773.4" r="2.3" fill="#2a4696"/>
<circle cx="1760.3" cy="925.0" r="2.3" fill="#2a4696"/>
<circle cx="1789.6" cy="956.0" r="2.3" fill="#2a4696"/>
<circle cx="1818.9" cy="968.2" r="2.3" fill="#2a4696"/>
<circle cx="1848.1" cy="971.0" r="2.3" fill="#2a4696"/>
<circle cx="1877.4" cy="972.0" r="2.3" fill="#2a4696"/>
<circle cx="1906.7" cy="973.9" r="2.3" fill="#2a4696"/>
<circle cx="1936.0" cy="968.6" r="2.3" fill="#2a4696"/>
<polyline points="1731.0,773.4 1760.3,927.8 1789.6,965.3 1818.9,974.3 1848.1,974.9 1877.4,974.9 1906.7,975.3 1936.0,972.9" fill="none" stroke="#9a742b" stroke-width="2.9" stroke-linejoin="round" stroke-linecap="round"/>
<circle cx="1731.0" cy="773.4" r="2.3" fill="#9a742b"/>
<circle cx="1760.3" cy="927.8" r="2.3" fill="#9a742b"/>
<circle cx="1789.6" cy="965.3" r="2.3" fill="#9a742b"/>
<circle cx="1818.9" cy="974.3" r="2.3" fill="#9a742b"/>
<circle cx="1848.1" cy="974.9" r="2.3" fill="#9a742b"/>
<circle cx="1877.4" cy="974.9" r="2.3" fill="#9a742b"/>
<circle cx="1906.7" cy="975.3" r="2.3" fill="#9a742b"/>
<circle cx="1936.0" cy="972.9" r="2.3" fill="#9a742b"/>
<text font-size="34.8" x="88.0" y="1098.0" >Sp: sg<tspan font-style="italic">ALC1#1</tspan></text>
<text font-size="34.8" x="431.0" y="1098.0" >sg<tspan font-style="italic">ALC1#2</tspan></text>
<text font-size="34.8" x="714.7" y="1098.0" >sg<tspan font-style="italic">ALC1#3</tspan></text>
<text font-size="34.8" x="998.4" y="1098.0" >sg<tspan font-style="italic">ALC1#4</tspan></text>
<text font-size="34.8" x="1280.8" y="1098.0" >sg<tspan font-style="italic">ALC1#5</tspan></text>
<text font-size="34.8" x="1563.5" y="1098.0" >sg<tspan font-style="italic">ALC1#6</tspan></text>
<text font-size="34.8" x="1846.7" y="1098.0" >sg<tspan font-style="italic">ALC1#7</tspan></text>
<text font-size="34.7" font-weight="bold" fill="#1a1a1a" textLength="463" lengthAdjust="spacingAndGlyphs" x="27.0" y="1143.8" >CAPAN-1 (<tspan font-style="italic">BRCA2 6174delT</tspan>)</text>
<text font-size="34.7" font-weight="bold" fill="#1a1a1a" textLength="532" lengthAdjust="spacingAndGlyphs" x="27.0" y="1532.8" >SUM149PT (<tspan font-style="italic">BRCA1 exon11 mut</tspan>)</text>
<text font-size="34.7" font-weight="bold" fill="#1a1a1a" textLength="523.5" lengthAdjust="spacingAndGlyphs" x="27.0" y="1942.1" >UWB1.289 (<tspan font-style="italic">BRCA1 exon11 mut</tspan>)</text>
<line x1="98.4" y1="1184.6" x2="98.4" y2="1430.3" stroke="#000" stroke-width="1.6" />
<line x1="94.1" y1="1429.5" x2="341.5" y2="1429.5" stroke="#000" stroke-width="1.6" />
<text font-size="30.5" text-anchor="end" x="80.6" y="1440.1" >0</text>
<line x1="94.1" y1="1388.8" x2="98.4" y2="1388.8" stroke="#000" stroke-width="1.6" />
<text font-size="30.5" text-anchor="end" x="85.1" y="1399.4" >20</text>
<line x1="94.1" y1="1348.1" x2="98.4" y2="1348.1" stroke="#000" stroke-width="1.6" />
<text font-size="30.5" text-anchor="end" x="85.1" y="1358.8" >40</text>
<line x1="94.1" y1="1307.5" x2="98.4" y2="1307.5" stroke="#000" stroke-width="1.6" />
<text font-size="30.5" text-anchor="end" x="85.1" y="1318.1" >60</text>
<line x1="94.1" y1="1266.8" x2="98.4" y2="1266.8" stroke="#000" stroke-width="1.6" />
<text font-size="30.5" text-anchor="end" x="85.1" y="1277.4" >80</text>
<line x1="94.1" y1="1226.1" x2="98.4" y2="1226.1" stroke="#000" stroke-width="1.6" />
<text font-size="30.5" text-anchor="end" x="90.1" y="1236.7" >100</text>
<line x1="94.1" y1="1185.4" x2="98.4" y2="1185.4" stroke="#000" stroke-width="1.6" />
<text font-size="30.5" text-anchor="end" x="90.1" y="1196.0" >120</text>
<line x1="115.8" y1="1429.5" x2="115.8" y2="1434.1" stroke="#000" stroke-width="1.6" />
<line x1="141.9" y1="1429.5" x2="141.9" y2="1434.1" stroke="#000" stroke-width="1.6" />
<line x1="168.1" y1="1429.5" x2="168.1" y2="1434.1" stroke="#000" stroke-width="1.6" />
<line x1="194.2" y1="1429.5" x2="194.2" y2="1434.1" stroke="#000" stroke-width="1.6" />
<line x1="220.4" y1="1429.5" x2="220.4" y2="1434.1" stroke="#000" stroke-width="1.6" />
<line x1="246.6" y1="1429.5" x2="246.6" y2="1434.1" stroke="#000" stroke-width="1.6" />
<line x1="272.7" y1="1429.5" x2="272.7" y2="1434.1" stroke="#000" stroke-width="1.6" />
<line x1="298.8" y1="1429.5" x2="298.8" y2="1434.1" stroke="#000" stroke-width="1.6" />
<line x1="325.0" y1="1429.5" x2="325.0" y2="1434.1" stroke="#000" stroke-width="1.6" />
<text font-size="30.6" text-anchor="end" transform="translate(117.4,1441.1) rotate(-90)" >P0</text>
<text font-size="30.6" text-anchor="end" transform="translate(144.4,1441.1) rotate(-90)" >P1</text>
<text font-size="30.6" text-anchor="end" transform="translate(171.5,1441.1) rotate(-90)" >P2</text>
<text font-size="30.6" text-anchor="end" transform="translate(198.5,1441.1) rotate(-90)" >P3</text>
<text font-size="30.6" text-anchor="end" transform="translate(225.5,1441.1) rotate(-90)" >P4</text>
<text font-size="30.6" text-anchor="end" transform="translate(252.6,1441.1) rotate(-90)" >P5</text>
<text font-size="30.6" text-anchor="end" transform="translate(279.6,1441.1) rotate(-90)" >P6</text>
<text font-size="30.6" text-anchor="end" transform="translate(306.6,1441.1) rotate(-90)" >P7</text>
<text font-size="30.6" text-anchor="end" transform="translate(333.6,1441.1) rotate(-90)" >P8</text>
<polyline points="115.8,1226.1 141.9,1258.6 168.1,1291.2 194.2,1296.7 220.4,1278.2 246.6,1307.9 272.7,1336.1 298.8,1339.8 325.0,1353.6" fill="none" stroke="#2a4696" stroke-width="2.9" stroke-linejoin="round" stroke-linecap="round"/>
<circle cx="115.8" cy="1226.1" r="2.3" fill="#2a4696"/>
<circle cx="141.9" cy="1258.6" r="2.3" fill="#2a4696"/>
<circle cx="168.1" cy="1291.2" r="2.3" fill="#2a4696"/>
<circle cx="194.2" cy="1296.7" r="2.3" fill="#2a4696"/>
<circle cx="220.4" cy="1278.2" r="2.3" fill="#2a4696"/>
<circle cx="246.6" cy="1307.9" r="2.3" fill="#2a4696"/>
<circle cx="272.7" cy="1336.1" r="2.3" fill="#2a4696"/>
<circle cx="298.8" cy="1339.8" r="2.3" fill="#2a4696"/>
<circle cx="325.0" cy="1353.6" r="2.3" fill="#2a4696"/>
<polyline points="115.8,1226.1 141.9,1275.1 168.1,1297.1 194.2,1362.0 220.4,1381.5 246.6,1400.2 272.7,1412.2 298.8,1417.5 325.0,1419.5" fill="none" stroke="#1b9e4b" stroke-width="2.9" stroke-linejoin="round" stroke-linecap="round"/>
<circle cx="115.8" cy="1226.1" r="2.3" fill="#1b9e4b"/>
<circle cx="141.9" cy="1275.1" r="2.3" fill="#1b9e4b"/>
<circle cx="168.1" cy="1297.1" r="2.3" fill="#1b9e4b"/>
<circle cx="194.2" cy="1362.0" r="2.3" fill="#1b9e4b"/>
<circle cx="220.4" cy="1381.5" r="2.3" fill="#1b9e4b"/>
<circle cx="246.6" cy="1400.2" r="2.3" fill="#1b9e4b"/>
<circle cx="272.7" cy="1412.2" r="2.3" fill="#1b9e4b"/>
<circle cx="298.8" cy="1417.5" r="2.3" fill="#1b9e4b"/>
<circle cx="325.0" cy="1419.5" r="2.3" fill="#1b9e4b"/>
<polyline points="115.8,1226.1 141.9,1291.2 168.1,1310.9 194.2,1364.4 220.4,1380.1 246.6,1387.4 272.7,1408.5 298.8,1403.9 325.0,1401.0" fill="none" stroke="#f2962c" stroke-width="2.9" stroke-linejoin="round" stroke-linecap="round"/>
<circle cx="115.8" cy="1226.1" r="2.3" fill="#f2962c"/>
<circle cx="141.9" cy="1291.2" r="2.3" fill="#f2962c"/>
<circle cx="168.1" cy="1310.9" r="2.3" fill="#f2962c"/>
<circle cx="194.2" cy="1364.4" r="2.3" fill="#f2962c"/>
<circle cx="220.4" cy="1380.1" r="2.3" fill="#f2962c"/>
<circle cx="246.6" cy="1387.4" r="2.3" fill="#f2962c"/>
<circle cx="272.7" cy="1408.5" r="2.3" fill="#f2962c"/>
<circle cx="298.8" cy="1403.9" r="2.3" fill="#f2962c"/>
<circle cx="325.0" cy="1401.0" r="2.3" fill="#f2962c"/>
<polyline points="115.8,1226.1 141.9,1295.2 168.1,1340.6 194.2,1385.4 220.4,1413.8 246.6,1419.7 272.7,1422.2 298.8,1424.2 325.0,1425.2" fill="none" stroke="#9a742b" stroke-width="2.9" stroke-linejoin="round" stroke-linecap="round"/>
<circle cx="115.8" cy="1226.1" r="2.3" fill="#9a742b"/>
<circle cx="141.9" cy="1295.2" r="2.3" fill="#9a742b"/>
<circle cx="168.1" cy="1340.6" r="2.3" fill="#9a742b"/>
<circle cx="194.2" cy="1385.4" r="2.3" fill="#9a742b"/>
<circle cx="220.4" cy="1413.8" r="2.3" fill="#9a742b"/>
<circle cx="246.6" cy="1419.7" r="2.3" fill="#9a742b"/>
<circle cx="272.7" cy="1422.2" r="2.3" fill="#9a742b"/>
<circle cx="298.8" cy="1424.2" r="2.3" fill="#9a742b"/>
<circle cx="325.0" cy="1425.2" r="2.3" fill="#9a742b"/>
<text font-size="33.5" text-anchor="middle" transform="translate(26.0,1306.0) rotate(-90)" >% GFP</text>
<line x1="389.0" y1="1188.4" x2="389.0" y2="1433.8" stroke="#000" stroke-width="1.6" />
<line x1="384.7" y1="1433.0" x2="632.6" y2="1433.0" stroke="#000" stroke-width="1.6" />
<text font-size="30.5" text-anchor="end" x="374.2" y="1439.7" >0</text>
<line x1="384.7" y1="1392.4" x2="389.0" y2="1392.4" stroke="#000" stroke-width="1.6" />
<text font-size="30.5" text-anchor="end" x="378.7" y="1399.1" >20</text>
<line x1="384.7" y1="1351.7" x2="389.0" y2="1351.7" stroke="#000" stroke-width="1.6" />
<text font-size="30.5" text-anchor="end" x="378.7" y="1358.5" >40</text>
<line x1="384.7" y1="1311.1" x2="389.0" y2="1311.1" stroke="#000" stroke-width="1.6" />
<text font-size="30.5" text-anchor="end" x="378.7" y="1317.8" >60</text>
<line x1="384.7" y1="1270.5" x2="389.0" y2="1270.5" stroke="#000" stroke-width="1.6" />
<text font-size="30.5" text-anchor="end" x="378.7" y="1277.2" >80</text>
<line x1="384.7" y1="1229.8" x2="389.0" y2="1229.8" stroke="#000" stroke-width="1.6" />
<text font-size="30.5" text-anchor="end" x="383.7" y="1236.6" >100</text>
<line x1="384.7" y1="1189.2" x2="389.0" y2="1189.2" stroke="#000" stroke-width="1.6" />
<text font-size="30.5" text-anchor="end" x="383.7" y="1195.9" >120</text>
<line x1="406.2" y1="1433.0" x2="406.2" y2="1437.6" stroke="#000" stroke-width="1.6" />
<line x1="432.3" y1="1433.0" x2="432.3" y2="1437.6" stroke="#000" stroke-width="1.6" />
<line x1="458.3" y1="1433.0" x2="458.3" y2="1437.6" stroke="#000" stroke-width="1.6" />
<line x1="484.4" y1="1433.0" x2="484.4" y2="1437.6" stroke="#000" stroke-width="1.6" />
<line x1="510.5" y1="1433.0" x2="510.5" y2="1437.6" stroke="#000" stroke-width="1.6" />
<line x1="536.5" y1="1433.0" x2="536.5" y2="1437.6" stroke="#000" stroke-width="1.6" />
<line x1="562.6" y1="1433.0" x2="562.6" y2="1437.6" stroke="#000" stroke-width="1.6" />
<line x1="588.6" y1="1433.0" x2="588.6" y2="1437.6" stroke="#000" stroke-width="1.6" />
<line x1="614.7" y1="1433.0" x2="614.7" y2="1437.6" stroke="#000" stroke-width="1.6" />
<text font-size="30.6" text-anchor="end" transform="translate(415.1,1444.6) rotate(-90)" >P0</text>
<text font-size="30.6" text-anchor="end" transform="translate(442.1,1444.6) rotate(-90)" >P1</text>
<text font-size="30.6" text-anchor="end" transform="translate(469.2,1444.6) rotate(-90)" >P2</text>
<text font-size="30.6" text-anchor="end" transform="translate(496.2,1444.6) rotate(-90)" >P3</text>
<text font-size="30.6" text-anchor="end" transform="translate(523.2,1444.6) rotate(-90)" >P4</text>
<text font-size="30.6" text-anchor="end" transform="translate(550.2,1444.6) rotate(-90)" >P5</text>
<text font-size="30.6" text-anchor="end" transform="translate(577.3,1444.6) rotate(-90)" >P6</text>
<text font-size="30.6" text-anchor="end" transform="translate(604.3,1444.6) rotate(-90)" >P7</text>
<text font-size="30.6" text-anchor="end" transform="translate(631.3,1444.6) rotate(-90)" >P8</text>
<polyline points="406.2,1229.8 432.3,1258.3 458.3,1293.0 484.4,1283.5 510.5,1318.4 536.5,1300.5 562.6,1323.7 588.6,1362.5 614.7,1366.6" fill="none" stroke="#2a4696" stroke-width="2.9" stroke-linejoin="round" stroke-linecap="round"/>
<circle cx="406.2" cy="1229.8" r="2.3" fill="#2a4696"/>
<circle cx="432.3" cy="1258.3" r="2.3" fill="#2a4696"/>
<circle cx="458.3" cy="1293.0" r="2.3" fill="#2a4696"/>
<circle cx="484.4" cy="1283.5" r="2.3" fill="#2a4696"/>
<circle cx="510.5" cy="1318.4" r="2.3" fill="#2a4696"/>
<circle cx="536.5" cy="1300.5" r="2.3" fill="#2a4696"/>
<circle cx="562.6" cy="1323.7" r="2.3" fill="#2a4696"/>
<circle cx="588.6" cy="1362.5" r="2.3" fill="#2a4696"/>
<circle cx="614.7" cy="1366.6" r="2.3" fill="#2a4696"/>
<polyline points="406.2,1229.8 432.3,1277.2 458.3,1298.9 484.4,1352.5 510.5,1385.3 536.5,1401.3 562.6,1415.1 588.6,1424.5 614.7,1429.3" fill="none" stroke="#1b9e4b" stroke-width="2.9" stroke-linejoin="round" stroke-linecap="round"/>
<path d="M401.6,1233.4 L410.8,1233.4 L406.2,1225.0 Z" fill="#1b9e4b"/>
<path d="M427.7,1280.8 L436.9,1280.8 L432.3,1272.4 Z" fill="#1b9e4b"/>
<path d="M453.7,1302.5 L462.9,1302.5 L458.3,1294.1 Z" fill="#1b9e4b"/>
<path d="M479.8,1356.1 L489.0,1356.1 L484.4,1347.7 Z" fill="#1b9e4b"/>
<path d="M505.9,1388.9 L515.1,1388.9 L510.5,1380.5 Z" fill="#1b9e4b"/>
<path d="M531.9,1404.9 L541.1,1404.9 L536.5,1396.5 Z" fill="#1b9e4b"/>
<path d="M558.0,1418.7 L567.2,1418.7 L562.6,1410.3 Z" fill="#1b9e4b"/>
<path d="M584.0,1428.1 L593.2,1428.1 L588.6,1419.7 Z" fill="#1b9e4b"/>
<path d="M610.1,1432.9 L619.3,1432.9 L614.7,1424.5 Z" fill="#1b9e4b"/>
<polyline points="406.2,1229.8 432.3,1273.1 458.3,1313.7 484.4,1355.6 510.5,1379.4 536.5,1376.9 562.6,1398.3 588.6,1416.5 614.7,1418.6" fill="none" stroke="#f2962c" stroke-width="2.9" stroke-linejoin="round" stroke-linecap="round"/>
<circle cx="406.2" cy="1229.8" r="2.3" fill="#f2962c"/>
<circle cx="432.3" cy="1273.1" r="2.3" fill="#f2962c"/>
<circle cx="458.3" cy="1313.7" r="2.3" fill="#f2962c"/>
<circle cx="484.4" cy="1355.6" r="2.3" fill="#f2962c"/>
<circle cx="510.5" cy="1379.4" r="2.3" fill="#f2962c"/>
<circle cx="536.5" cy="1376.9" r="2.3" fill="#f2962c"/>
<circle cx="562.6" cy="1398.3" r="2.3" fill="#f2962c"/>
<circle cx="588.6" cy="1416.5" r="2.3" fill="#f2962c"/>
<circle cx="614.7" cy="1418.6" r="2.3" fill="#f2962c"/>
<polyline points="406.2,1229.8 432.3,1296.1 458.3,1332.6 484.4,1375.5 510.5,1400.3 536.5,1413.5 562.6,1406.2 588.6,1412.1 614.7,1408.6" fill="none" stroke="#9a742b" stroke-width="2.9" stroke-linejoin="round" stroke-linecap="round"/>
<circle cx="406.2" cy="1229.8" r="2.3" fill="#9a742b"/>
<circle cx="432.3" cy="1296.1" r="2.3" fill="#9a742b"/>
<circle cx="458.3" cy="1332.6" r="2.3" fill="#9a742b"/>
<circle cx="484.4" cy="1375.5" r="2.3" fill="#9a742b"/>
<circle cx="510.5" cy="1400.3" r="2.3" fill="#9a742b"/>
<circle cx="536.5" cy="1413.5" r="2.3" fill="#9a742b"/>
<circle cx="562.6" cy="1406.2" r="2.3" fill="#9a742b"/>
<circle cx="588.6" cy="1412.1" r="2.3" fill="#9a742b"/>
<circle cx="614.7" cy="1408.6" r="2.3" fill="#9a742b"/>
<line x1="673.4" y1="1186.0" x2="673.4" y2="1430.8" stroke="#000" stroke-width="1.6" />
<line x1="669.1" y1="1430.0" x2="914.7" y2="1430.0" stroke="#000" stroke-width="1.6" />
<text font-size="30.5" text-anchor="end" x="661.2" y="1438.9" >0</text>
<line x1="669.1" y1="1389.5" x2="673.4" y2="1389.5" stroke="#000" stroke-width="1.6" />
<text font-size="30.5" text-anchor="end" x="665.7" y="1398.4" >20</text>
<line x1="669.1" y1="1348.9" x2="673.4" y2="1348.9" stroke="#000" stroke-width="1.6" />
<text font-size="30.5" text-anchor="end" x="665.7" y="1357.9" >40</text>
<line x1="669.1" y1="1308.4" x2="673.4" y2="1308.4" stroke="#000" stroke-width="1.6" />
<text font-size="30.5" text-anchor="end" x="665.7" y="1317.3" >60</text>
<line x1="669.1" y1="1267.9" x2="673.4" y2="1267.9" stroke="#000" stroke-width="1.6" />
<text font-size="30.5" text-anchor="end" x="665.7" y="1276.8" >80</text>
<line x1="669.1" y1="1227.3" x2="673.4" y2="1227.3" stroke="#000" stroke-width="1.6" />
<text font-size="30.5" text-anchor="end" x="670.7" y="1236.3" >100</text>
<line x1="669.1" y1="1186.8" x2="673.4" y2="1186.8" stroke="#000" stroke-width="1.6" />
<text font-size="30.5" text-anchor="end" x="670.7" y="1195.7" >120</text>
<rect x="659.8" y="1432.5" width="1.5" height="5" fill="#111"/>
<line x1="690.7" y1="1430.0" x2="690.7" y2="1434.6" stroke="#000" stroke-width="1.6" />
<line x1="716.7" y1="1430.0" x2="716.7" y2="1434.6" stroke="#000" stroke-width="1.6" />
<line x1="742.7" y1="1430.0" x2="742.7" y2="1434.6" stroke="#000" stroke-width="1.6" />
<line x1="768.7" y1="1430.0" x2="768.7" y2="1434.6" stroke="#000" stroke-width="1.6" />
<line x1="794.8" y1="1430.0" x2="794.8" y2="1434.6" stroke="#000" stroke-width="1.6" />
<line x1="820.8" y1="1430.0" x2="820.8" y2="1434.6" stroke="#000" stroke-width="1.6" />
<line x1="846.8" y1="1430.0" x2="846.8" y2="1434.6" stroke="#000" stroke-width="1.6" />
<line x1="872.8" y1="1430.0" x2="872.8" y2="1434.6" stroke="#000" stroke-width="1.6" />
<line x1="898.8" y1="1430.0" x2="898.8" y2="1434.6" stroke="#000" stroke-width="1.6" />
<text font-size="30.6" text-anchor="end" transform="translate(699.0,1441.6) rotate(-90)" >P0</text>
<text font-size="30.6" text-anchor="end" transform="translate(726.0,1441.6) rotate(-90)" >P1</text>
<text font-size="30.6" text-anchor="end" transform="translate(753.1,1441.6) rotate(-90)" >P2</text>
<text font-size="30.6" text-anchor="end" transform="translate(780.1,1441.6) rotate(-90)" >P3</text>
<text font-size="30.6" text-anchor="end" transform="translate(807.1,1441.6) rotate(-90)" >P4</text>
<text font-size="30.6" text-anchor="end" transform="translate(834.1,1441.6) rotate(-90)" >P5</text>
<text font-size="30.6" text-anchor="end" transform="translate(861.2,1441.6) rotate(-90)" >P6</text>
<text font-size="30.6" text-anchor="end" transform="translate(888.2,1441.6) rotate(-90)" >P7</text>
<text font-size="30.6" text-anchor="end" transform="translate(915.2,1441.6) rotate(-90)" >P8</text>
<polyline points="690.7,1227.3 716.7,1241.3 742.7,1278.6 768.7,1293.0 794.8,1272.1 820.8,1283.1 846.8,1321.6 872.8,1336.4 898.8,1342.4" fill="none" stroke="#2a4696" stroke-width="2.9" stroke-linejoin="round" stroke-linecap="round"/>
<circle cx="690.7" cy="1227.3" r="2.3" fill="#2a4696"/>
<circle cx="716.7" cy="1241.3" r="2.3" fill="#2a4696"/>
<circle cx="742.7" cy="1278.6" r="2.3" fill="#2a4696"/>
<circle cx="768.7" cy="1293.0" r="2.3" fill="#2a4696"/>
<circle cx="794.8" cy="1272.1" r="2.3" fill="#2a4696"/>
<circle cx="820.8" cy="1283.1" r="2.3" fill="#2a4696"/>
<circle cx="846.8" cy="1321.6" r="2.3" fill="#2a4696"/>
<circle cx="872.8" cy="1336.4" r="2.3" fill="#2a4696"/>
<circle cx="898.8" cy="1342.4" r="2.3" fill="#2a4696"/>
<polyline points="690.7,1227.3 716.7,1259.8 742.7,1262.8 768.7,1308.2 794.8,1321.6 820.8,1346.3 846.8,1368.2 872.8,1356.8 898.8,1363.9" fill="none" stroke="#1b9e4b" stroke-width="2.9" stroke-linejoin="round" stroke-linecap="round"/>
<circle cx="690.7" cy="1227.3" r="2.3" fill="#1b9e4b"/>
<circle cx="716.7" cy="1259.8" r="2.3" fill="#1b9e4b"/>
<circle cx="742.7" cy="1262.8" r="2.3" fill="#1b9e4b"/>
<circle cx="768.7" cy="1308.2" r="2.3" fill="#1b9e4b"/>
<circle cx="794.8" cy="1321.6" r="2.3" fill="#1b9e4b"/>
<circle cx="820.8" cy="1346.3" r="2.3" fill="#1b9e4b"/>
<circle cx="846.8" cy="1368.2" r="2.3" fill="#1b9e4b"/>
<circle cx="872.8" cy="1356.8" r="2.3" fill="#1b9e4b"/>
<circle cx="898.8" cy="1363.9" r="2.3" fill="#1b9e4b"/>
<polyline points="690.7,1227.3 716.7,1254.9 742.7,1282.7 768.7,1338.4 794.8,1338.0 820.8,1351.4 846.8,1365.3 872.8,1366.8 898.8,1401.8" fill="none" stroke="#f2962c" stroke-width="2.9" stroke-linejoin="round" stroke-linecap="round"/>
<circle cx="690.7" cy="1227.3" r="2.3" fill="#f2962c"/>
<circle cx="716.7" cy="1254.9" r="2.3" fill="#f2962c"/>
<circle cx="742.7" cy="1282.7" r="2.3" fill="#f2962c"/>
<circle cx="768.7" cy="1338.4" r="2.3" fill="#f2962c"/>
<circle cx="794.8" cy="1338.0" r="2.3" fill="#f2962c"/>
<circle cx="820.8" cy="1351.4" r="2.3" fill="#f2962c"/>
<circle cx="846.8" cy="1365.3" r="2.3" fill="#f2962c"/>
<circle cx="872.8" cy="1366.8" r="2.3" fill="#f2962c"/>
<circle cx="898.8" cy="1401.8" r="2.3" fill="#f2962c"/>
<polyline points="690.7,1227.3 716.7,1259.8 742.7,1286.7 768.7,1342.0 794.8,1364.3 820.8,1394.1 846.8,1399.2 872.8,1409.1 898.8,1411.2" fill="none" stroke="#9a742b" stroke-width="2.9" stroke-linejoin="round" stroke-linecap="round"/>
<circle cx="690.7" cy="1227.3" r="2.3" fill="#9a742b"/>
<circle cx="716.7" cy="1259.8" r="2.3" fill="#9a742b"/>
<circle cx="742.7" cy="1286.7" r="2.3" fill="#9a742b"/>
<circle cx="768.7" cy="1342.0" r="2.3" fill="#9a742b"/>
<circle cx="794.8" cy="1364.3" r="2.3" fill="#9a742b"/>
<circle cx="820.8" cy="1394.1" r="2.3" fill="#9a742b"/>
<circle cx="846.8" cy="1399.2" r="2.3" fill="#9a742b"/>
<circle cx="872.8" cy="1409.1" r="2.3" fill="#9a742b"/>
<circle cx="898.8" cy="1411.2" r="2.3" fill="#9a742b"/>
<line x1="961.8" y1="1188.0" x2="961.8" y2="1433.8" stroke="#000" stroke-width="2.8" />
<line x1="957.5" y1="1432.4" x2="1204.7" y2="1432.4" stroke="#000" stroke-width="2.8" />
<text font-size="30.5" text-anchor="end" x="949.3" y="1439.2" >0</text>
<line x1="957.5" y1="1391.9" x2="961.8" y2="1391.9" stroke="#000" stroke-width="2.8" />
<text font-size="30.5" text-anchor="end" x="953.8" y="1398.7" >20</text>
<line x1="957.5" y1="1351.4" x2="961.8" y2="1351.4" stroke="#000" stroke-width="2.8" />
<text font-size="30.5" text-anchor="end" x="953.8" y="1358.2" >40</text>
<line x1="957.5" y1="1310.9" x2="961.8" y2="1310.9" stroke="#000" stroke-width="2.8" />
<text font-size="30.5" text-anchor="end" x="953.8" y="1317.7" >60</text>
<line x1="957.5" y1="1270.4" x2="961.8" y2="1270.4" stroke="#000" stroke-width="2.8" />
<text font-size="30.5" text-anchor="end" x="953.8" y="1277.2" >80</text>
<line x1="957.5" y1="1229.9" x2="961.8" y2="1229.9" stroke="#000" stroke-width="2.8" />
<text font-size="30.5" text-anchor="end" x="958.8" y="1236.7" >100</text>
<line x1="957.5" y1="1189.4" x2="961.8" y2="1189.4" stroke="#000" stroke-width="2.8" />
<text font-size="30.5" text-anchor="end" x="958.8" y="1196.2" >120</text>
<line x1="978.9" y1="1432.4" x2="978.9" y2="1437.6" stroke="#000" stroke-width="1.7" />
<line x1="1005.0" y1="1432.4" x2="1005.0" y2="1437.6" stroke="#000" stroke-width="1.7" />
<line x1="1031.1" y1="1432.4" x2="1031.1" y2="1437.6" stroke="#000" stroke-width="1.7" />
<line x1="1057.2" y1="1432.4" x2="1057.2" y2="1437.6" stroke="#000" stroke-width="1.7" />
<line x1="1083.3" y1="1432.4" x2="1083.3" y2="1437.6" stroke="#000" stroke-width="1.7" />
<line x1="1109.5" y1="1432.4" x2="1109.5" y2="1437.6" stroke="#000" stroke-width="1.7" />
<line x1="1135.6" y1="1432.4" x2="1135.6" y2="1437.6" stroke="#000" stroke-width="1.7" />
<line x1="1161.7" y1="1432.4" x2="1161.7" y2="1437.6" stroke="#000" stroke-width="1.7" />
<line x1="1187.8" y1="1432.4" x2="1187.8" y2="1437.6" stroke="#000" stroke-width="1.7" />
<text font-size="30.6" text-anchor="end" transform="translate(992.9,1444.0) rotate(-90)" >P0</text>
<text font-size="30.6" text-anchor="end" transform="translate(1019.9,1444.0) rotate(-90)" >P1</text>
<text font-size="30.6" text-anchor="end" transform="translate(1047.0,1444.0) rotate(-90)" >P2</text>
<text font-size="30.6" text-anchor="end" transform="translate(1074.0,1444.0) rotate(-90)" >P3</text>
<text font-size="30.6" text-anchor="end" transform="translate(1101.0,1444.0) rotate(-90)" >P4</text>
<text font-size="30.6" text-anchor="end" transform="translate(1128.1,1444.0) rotate(-90)" >P5</text>
<text font-size="30.6" text-anchor="end" transform="translate(1155.1,1444.0) rotate(-90)" >P6</text>
<text font-size="30.6" text-anchor="end" transform="translate(1182.1,1444.0) rotate(-90)" >P7</text>
<text font-size="30.6" text-anchor="end" transform="translate(1209.1,1444.0) rotate(-90)" >P8</text>
<polyline points="978.9,1229.9 1005.0,1241.8 1031.1,1271.2 1057.2,1274.2 1083.3,1252.8 1109.5,1264.7 1135.6,1307.7 1161.7,1295.5 1187.8,1310.7" fill="none" stroke="#2a4696" stroke-width="2.9" stroke-linejoin="round" stroke-linecap="round"/>
<circle cx="978.9" cy="1229.9" r="2.3" fill="#2a4696"/>
<circle cx="1005.0" cy="1241.8" r="2.3" fill="#2a4696"/>
<circle cx="1031.1" cy="1271.2" r="2.3" fill="#2a4696"/>
<circle cx="1057.2" cy="1274.2" r="2.3" fill="#2a4696"/>
<circle cx="1083.3" cy="1252.8" r="2.3" fill="#2a4696"/>
<circle cx="1109.5" cy="1264.7" r="2.3" fill="#2a4696"/>
<circle cx="1135.6" cy="1307.7" r="2.3" fill="#2a4696"/>
<circle cx="1161.7" cy="1295.5" r="2.3" fill="#2a4696"/>
<circle cx="1187.8" cy="1310.7" r="2.3" fill="#2a4696"/>
<polyline points="978.9,1229.9 1005.0,1247.3 1031.1,1261.3 1057.2,1287.2 1083.3,1312.7 1109.5,1342.9 1135.6,1372.3 1161.7,1371.2 1187.8,1394.1" fill="none" stroke="#1b9e4b" stroke-width="2.9" stroke-linejoin="round" stroke-linecap="round"/>
<circle cx="978.9" cy="1229.9" r="2.3" fill="#1b9e4b"/>
<circle cx="1005.0" cy="1247.3" r="2.3" fill="#1b9e4b"/>
<circle cx="1031.1" cy="1261.3" r="2.3" fill="#1b9e4b"/>
<circle cx="1057.2" cy="1287.2" r="2.3" fill="#1b9e4b"/>
<circle cx="1083.3" cy="1312.7" r="2.3" fill="#1b9e4b"/>
<circle cx="1109.5" cy="1342.9" r="2.3" fill="#1b9e4b"/>
<circle cx="1135.6" cy="1372.3" r="2.3" fill="#1b9e4b"/>
<circle cx="1161.7" cy="1371.2" r="2.3" fill="#1b9e4b"/>
<circle cx="1187.8" cy="1394.1" r="2.3" fill="#1b9e4b"/>
<polyline points="978.9,1229.9 1005.0,1253.8 1031.1,1286.2 1057.2,1316.0 1083.3,1325.9 1109.5,1344.9 1135.6,1364.8 1161.7,1384.6 1187.8,1378.7" fill="none" stroke="#f2962c" stroke-width="2.9" stroke-linejoin="round" stroke-linecap="round"/>
<circle cx="978.9" cy="1229.9" r="2.3" fill="#f2962c"/>
<circle cx="1005.0" cy="1253.8" r="2.3" fill="#f2962c"/>
<circle cx="1031.1" cy="1286.2" r="2.3" fill="#f2962c"/>
<circle cx="1057.2" cy="1316.0" r="2.3" fill="#f2962c"/>
<circle cx="1083.3" cy="1325.9" r="2.3" fill="#f2962c"/>
<circle cx="1109.5" cy="1344.9" r="2.3" fill="#f2962c"/>
<circle cx="1135.6" cy="1364.8" r="2.3" fill="#f2962c"/>
<circle cx="1161.7" cy="1384.6" r="2.3" fill="#f2962c"/>
<circle cx="1187.8" cy="1378.7" r="2.3" fill="#f2962c"/>
<polyline points="978.9,1229.9 1005.0,1266.4 1031.1,1293.5 1057.2,1325.1 1083.3,1351.8 1109.5,1358.3 1135.6,1380.8 1161.7,1390.7 1187.8,1403.6" fill="none" stroke="#9a742b" stroke-width="2.9" stroke-linejoin="round" stroke-linecap="round"/>
<circle cx="978.9" cy="1229.9" r="2.3" fill="#9a742b"/>
<circle cx="1005.0" cy="1266.4" r="2.3" fill="#9a742b"/>
<circle cx="1031.1" cy="1293.5" r="2.3" fill="#9a742b"/>
<circle cx="1057.2" cy="1325.1" r="2.3" fill="#9a742b"/>
<circle cx="1083.3" cy="1351.8" r="2.3" fill="#9a742b"/>
<circle cx="1109.5" cy="1358.3" r="2.3" fill="#9a742b"/>
<circle cx="1135.6" cy="1380.8" r="2.3" fill="#9a742b"/>
<circle cx="1161.7" cy="1390.7" r="2.3" fill="#9a742b"/>
<circle cx="1187.8" cy="1403.6" r="2.3" fill="#9a742b"/>
<line x1="1253.4" y1="1188.0" x2="1253.4" y2="1431.8" stroke="#000" stroke-width="1.6" />
<line x1="1249.1" y1="1431.0" x2="1494.7" y2="1431.0" stroke="#000" stroke-width="1.6" />
<text font-size="30.5" text-anchor="end" x="1240.2" y="1438.2" >0</text>
<line x1="1249.1" y1="1390.6" x2="1253.4" y2="1390.6" stroke="#000" stroke-width="1.6" />
<text font-size="30.5" text-anchor="end" x="1244.7" y="1397.9" >20</text>
<line x1="1249.1" y1="1350.3" x2="1253.4" y2="1350.3" stroke="#000" stroke-width="1.6" />
<text font-size="30.5" text-anchor="end" x="1244.7" y="1357.5" >40</text>
<line x1="1249.1" y1="1309.9" x2="1253.4" y2="1309.9" stroke="#000" stroke-width="1.6" />
<text font-size="30.5" text-anchor="end" x="1244.7" y="1317.1" >60</text>
<line x1="1249.1" y1="1269.5" x2="1253.4" y2="1269.5" stroke="#000" stroke-width="1.6" />
<text font-size="30.5" text-anchor="end" x="1244.7" y="1276.8" >80</text>
<line x1="1249.1" y1="1229.2" x2="1253.4" y2="1229.2" stroke="#000" stroke-width="1.6" />
<text font-size="30.5" text-anchor="end" x="1249.7" y="1236.4" >100</text>
<line x1="1249.1" y1="1188.8" x2="1253.4" y2="1188.8" stroke="#000" stroke-width="1.6" />
<text font-size="30.5" text-anchor="end" x="1249.7" y="1196.0" >120</text>
<line x1="1270.7" y1="1431.0" x2="1270.7" y2="1435.6" stroke="#000" stroke-width="1.6" />
<line x1="1296.7" y1="1431.0" x2="1296.7" y2="1435.6" stroke="#000" stroke-width="1.6" />
<line x1="1322.7" y1="1431.0" x2="1322.7" y2="1435.6" stroke="#000" stroke-width="1.6" />
<line x1="1348.7" y1="1431.0" x2="1348.7" y2="1435.6" stroke="#000" stroke-width="1.6" />
<line x1="1374.8" y1="1431.0" x2="1374.8" y2="1435.6" stroke="#000" stroke-width="1.6" />
<line x1="1400.8" y1="1431.0" x2="1400.8" y2="1435.6" stroke="#000" stroke-width="1.6" />
<line x1="1426.8" y1="1431.0" x2="1426.8" y2="1435.6" stroke="#000" stroke-width="1.6" />
<line x1="1452.8" y1="1431.0" x2="1452.8" y2="1435.6" stroke="#000" stroke-width="1.6" />
<line x1="1478.8" y1="1431.0" x2="1478.8" y2="1435.6" stroke="#000" stroke-width="1.6" />
<text font-size="30.6" text-anchor="end" transform="translate(1276.7,1442.6) rotate(-90)" >P0</text>
<text font-size="30.6" text-anchor="end" transform="translate(1303.7,1442.6) rotate(-90)" >P1</text>
<text font-size="30.6" text-anchor="end" transform="translate(1330.8,1442.6) rotate(-90)" >P2</text>
<text font-size="30.6" text-anchor="end" transform="translate(1357.8,1442.6) rotate(-90)" >P3</text>
<text font-size="30.6" text-anchor="end" transform="translate(1384.8,1442.6) rotate(-90)" >P4</text>
<text font-size="30.6" text-anchor="end" transform="translate(1411.9,1442.6) rotate(-90)" >P5</text>
<text font-size="30.6" text-anchor="end" transform="translate(1438.9,1442.6) rotate(-90)" >P6</text>
<text font-size="30.6" text-anchor="end" transform="translate(1465.9,1442.6) rotate(-90)" >P7</text>
<text font-size="30.6" text-anchor="end" transform="translate(1492.9,1442.6) rotate(-90)" >P8</text>
<polyline points="1270.7,1229.2 1296.7,1230.8 1322.7,1270.9 1348.7,1276.4 1374.8,1261.5 1400.8,1272.0 1426.8,1304.7 1452.8,1329.7 1478.8,1352.1" fill="none" stroke="#2a4696" stroke-width="2.9" stroke-linejoin="round" stroke-linecap="round"/>
<circle cx="1270.7" cy="1229.2" r="2.3" fill="#2a4696"/>
<circle cx="1296.7" cy="1230.8" r="2.3" fill="#2a4696"/>
<circle cx="1322.7" cy="1270.9" r="2.3" fill="#2a4696"/>
<circle cx="1348.7" cy="1276.4" r="2.3" fill="#2a4696"/>
<circle cx="1374.8" cy="1261.5" r="2.3" fill="#2a4696"/>
<circle cx="1400.8" cy="1272.0" r="2.3" fill="#2a4696"/>
<circle cx="1426.8" cy="1304.7" r="2.3" fill="#2a4696"/>
<circle cx="1452.8" cy="1329.7" r="2.3" fill="#2a4696"/>
<circle cx="1478.8" cy="1352.1" r="2.3" fill="#2a4696"/>
<polyline points="1270.7,1229.2 1296.7,1246.1 1322.7,1273.0 1348.7,1317.6 1374.8,1335.9 1400.8,1334.5 1426.8,1362.4 1452.8,1362.4 1478.8,1368.0" fill="none" stroke="#1b9e4b" stroke-width="2.9" stroke-linejoin="round" stroke-linecap="round"/>
<circle cx="1270.7" cy="1229.2" r="2.3" fill="#1b9e4b"/>
<circle cx="1296.7" cy="1246.1" r="2.3" fill="#1b9e4b"/>
<circle cx="1322.7" cy="1273.0" r="2.3" fill="#1b9e4b"/>
<circle cx="1348.7" cy="1317.6" r="2.3" fill="#1b9e4b"/>
<circle cx="1374.8" cy="1335.9" r="2.3" fill="#1b9e4b"/>
<circle cx="1400.8" cy="1334.5" r="2.3" fill="#1b9e4b"/>
<circle cx="1426.8" cy="1362.4" r="2.3" fill="#1b9e4b"/>
<circle cx="1452.8" cy="1362.4" r="2.3" fill="#1b9e4b"/>
<circle cx="1478.8" cy="1368.0" r="2.3" fill="#1b9e4b"/>
<polyline points="1270.7,1229.2 1296.7,1254.6 1322.7,1262.7 1348.7,1319.6 1374.8,1307.1 1400.8,1336.5 1426.8,1368.4 1452.8,1375.3 1478.8,1382.8" fill="none" stroke="#f2962c" stroke-width="2.9" stroke-linejoin="round" stroke-linecap="round"/>
<circle cx="1270.7" cy="1229.2" r="2.3" fill="#f2962c"/>
<circle cx="1296.7" cy="1254.6" r="2.3" fill="#f2962c"/>
<circle cx="1322.7" cy="1262.7" r="2.3" fill="#f2962c"/>
<circle cx="1348.7" cy="1319.6" r="2.3" fill="#f2962c"/>
<circle cx="1374.8" cy="1307.1" r="2.3" fill="#f2962c"/>
<circle cx="1400.8" cy="1336.5" r="2.3" fill="#f2962c"/>
<circle cx="1426.8" cy="1368.4" r="2.3" fill="#f2962c"/>
<circle cx="1452.8" cy="1375.3" r="2.3" fill="#f2962c"/>
<circle cx="1478.8" cy="1382.8" r="2.3" fill="#f2962c"/>
<polyline points="1270.7,1229.2 1296.7,1262.9 1322.7,1302.8 1348.7,1333.5 1374.8,1352.5 1400.8,1369.4 1426.8,1382.8 1452.8,1391.2 1478.8,1408.2" fill="none" stroke="#9a742b" stroke-width="2.9" stroke-linejoin="round" stroke-linecap="round"/>
<circle cx="1270.7" cy="1229.2" r="2.3" fill="#9a742b"/>
<circle cx="1296.7" cy="1262.9" r="2.3" fill="#9a742b"/>
<circle cx="1322.7" cy="1302.8" r="2.3" fill="#9a742b"/>
<circle cx="1348.7" cy="1333.5" r="2.3" fill="#9a742b"/>
<circle cx="1374.8" cy="1352.5" r="2.3" fill="#9a742b"/>
<circle cx="1400.8" cy="1369.4" r="2.3" fill="#9a742b"/>
<circle cx="1426.8" cy="1382.8" r="2.3" fill="#9a742b"/>
<circle cx="1452.8" cy="1391.2" r="2.3" fill="#9a742b"/>
<circle cx="1478.8" cy="1408.2" r="2.3" fill="#9a742b"/>
<line x1="1548.4" y1="1188.0" x2="1548.4" y2="1431.8" stroke="#000" stroke-width="1.6" />
<line x1="1544.1" y1="1431.0" x2="1790.6" y2="1431.0" stroke="#000" stroke-width="1.6" />
<text font-size="30.5" text-anchor="end" x="1535.2" y="1438.2" >0</text>
<line x1="1544.1" y1="1390.6" x2="1548.4" y2="1390.6" stroke="#000" stroke-width="1.6" />
<text font-size="30.5" text-anchor="end" x="1539.7" y="1397.9" >20</text>
<line x1="1544.1" y1="1350.3" x2="1548.4" y2="1350.3" stroke="#000" stroke-width="1.6" />
<text font-size="30.5" text-anchor="end" x="1539.7" y="1357.5" >40</text>
<line x1="1544.1" y1="1309.9" x2="1548.4" y2="1309.9" stroke="#000" stroke-width="1.6" />
<text font-size="30.5" text-anchor="end" x="1539.7" y="1317.1" >60</text>
<line x1="1544.1" y1="1269.5" x2="1548.4" y2="1269.5" stroke="#000" stroke-width="1.6" />
<text font-size="30.5" text-anchor="end" x="1539.7" y="1276.8" >80</text>
<line x1="1544.1" y1="1229.2" x2="1548.4" y2="1229.2" stroke="#000" stroke-width="1.6" />
<text font-size="30.5" text-anchor="end" x="1544.7" y="1236.4" >100</text>
<line x1="1544.1" y1="1188.8" x2="1548.4" y2="1188.8" stroke="#000" stroke-width="1.6" />
<text font-size="30.5" text-anchor="end" x="1544.7" y="1196.0" >120</text>
<line x1="1565.6" y1="1431.0" x2="1565.6" y2="1435.6" stroke="#000" stroke-width="1.6" />
<line x1="1591.9" y1="1431.0" x2="1591.9" y2="1435.6" stroke="#000" stroke-width="1.6" />
<line x1="1618.1" y1="1431.0" x2="1618.1" y2="1435.6" stroke="#000" stroke-width="1.6" />
<line x1="1644.4" y1="1431.0" x2="1644.4" y2="1435.6" stroke="#000" stroke-width="1.6" />
<line x1="1670.7" y1="1431.0" x2="1670.7" y2="1435.6" stroke="#000" stroke-width="1.6" />
<line x1="1696.9" y1="1431.0" x2="1696.9" y2="1435.6" stroke="#000" stroke-width="1.6" />
<line x1="1723.2" y1="1431.0" x2="1723.2" y2="1435.6" stroke="#000" stroke-width="1.6" />
<line x1="1749.4" y1="1431.0" x2="1749.4" y2="1435.6" stroke="#000" stroke-width="1.6" />
<line x1="1775.7" y1="1431.0" x2="1775.7" y2="1435.6" stroke="#000" stroke-width="1.6" />
<text font-size="30.6" text-anchor="end" transform="translate(1576.1,1442.6) rotate(-90)" >P0</text>
<text font-size="30.6" text-anchor="end" transform="translate(1603.1,1442.6) rotate(-90)" >P1</text>
<text font-size="30.6" text-anchor="end" transform="translate(1630.2,1442.6) rotate(-90)" >P2</text>
<text font-size="30.6" text-anchor="end" transform="translate(1657.2,1442.6) rotate(-90)" >P3</text>
<text font-size="30.6" text-anchor="end" transform="translate(1684.2,1442.6) rotate(-90)" >P4</text>
<text font-size="30.6" text-anchor="end" transform="translate(1711.3,1442.6) rotate(-90)" >P5</text>
<text font-size="30.6" text-anchor="end" transform="translate(1738.3,1442.6) rotate(-90)" >P6</text>
<text font-size="30.6" text-anchor="end" transform="translate(1765.3,1442.6) rotate(-90)" >P7</text>
<text font-size="30.6" text-anchor="end" transform="translate(1792.3,1442.6) rotate(-90)" >P8</text>
<polyline points="1565.6,1229.2 1591.9,1277.8 1618.1,1319.6 1644.4,1306.7 1670.7,1306.7 1696.9,1311.1 1723.2,1338.6 1749.4,1356.5 1775.7,1356.1" fill="none" stroke="#2a4696" stroke-width="2.9" stroke-linejoin="round" stroke-linecap="round"/>
<circle cx="1565.6" cy="1229.2" r="2.3" fill="#2a4696"/>
<circle cx="1591.9" cy="1277.8" r="2.3" fill="#2a4696"/>
<circle cx="1618.1" cy="1319.6" r="2.3" fill="#2a4696"/>
<circle cx="1644.4" cy="1306.7" r="2.3" fill="#2a4696"/>
<circle cx="1670.7" cy="1306.7" r="2.3" fill="#2a4696"/>
<circle cx="1696.9" cy="1311.1" r="2.3" fill="#2a4696"/>
<circle cx="1723.2" cy="1338.6" r="2.3" fill="#2a4696"/>
<circle cx="1749.4" cy="1356.5" r="2.3" fill="#2a4696"/>
<circle cx="1775.7" cy="1356.1" r="2.3" fill="#2a4696"/>
<polyline points="1565.6,1229.2 1591.9,1267.9 1618.1,1308.7 1644.4,1350.1 1670.7,1360.4 1696.9,1390.2 1723.2,1390.2 1749.4,1401.7 1775.7,1411.0" fill="none" stroke="#1b9e4b" stroke-width="2.9" stroke-linejoin="round" stroke-linecap="round"/>
<circle cx="1565.6" cy="1229.2" r="2.3" fill="#1b9e4b"/>
<circle cx="1591.9" cy="1267.9" r="2.3" fill="#1b9e4b"/>
<circle cx="1618.1" cy="1308.7" r="2.3" fill="#1b9e4b"/>
<circle cx="1644.4" cy="1350.1" r="2.3" fill="#1b9e4b"/>
<circle cx="1670.7" cy="1360.4" r="2.3" fill="#1b9e4b"/>
<circle cx="1696.9" cy="1390.2" r="2.3" fill="#1b9e4b"/>
<circle cx="1723.2" cy="1390.2" r="2.3" fill="#1b9e4b"/>
<circle cx="1749.4" cy="1401.7" r="2.3" fill="#1b9e4b"/>
<circle cx="1775.7" cy="1411.0" r="2.3" fill="#1b9e4b"/>
<polyline points="1565.6,1229.2 1591.9,1288.9 1618.1,1322.6 1644.4,1364.4 1670.7,1382.4 1696.9,1395.3 1723.2,1408.6 1749.4,1419.1 1775.7,1420.5" fill="none" stroke="#f2962c" stroke-width="2.9" stroke-linejoin="round" stroke-linecap="round"/>
<circle cx="1565.6" cy="1229.2" r="2.3" fill="#f2962c"/>
<circle cx="1591.9" cy="1288.9" r="2.3" fill="#f2962c"/>
<circle cx="1618.1" cy="1322.6" r="2.3" fill="#f2962c"/>
<circle cx="1644.4" cy="1364.4" r="2.3" fill="#f2962c"/>
<circle cx="1670.7" cy="1382.4" r="2.3" fill="#f2962c"/>
<circle cx="1696.9" cy="1395.3" r="2.3" fill="#f2962c"/>
<circle cx="1723.2" cy="1408.6" r="2.3" fill="#f2962c"/>
<circle cx="1749.4" cy="1419.1" r="2.3" fill="#f2962c"/>
<circle cx="1775.7" cy="1420.5" r="2.3" fill="#f2962c"/>
<polyline points="1565.6,1229.2 1591.9,1296.8 1618.1,1318.6 1644.4,1384.2 1670.7,1413.0 1696.9,1418.1 1723.2,1414.0 1749.4,1416.1 1775.7,1415.1" fill="none" stroke="#9a742b" stroke-width="2.9" stroke-linejoin="round" stroke-linecap="round"/>
<circle cx="1565.6" cy="1229.2" r="2.3" fill="#9a742b"/>
<circle cx="1591.9" cy="1296.8" r="2.3" fill="#9a742b"/>
<circle cx="1618.1" cy="1318.6" r="2.3" fill="#9a742b"/>
<circle cx="1644.4" cy="1384.2" r="2.3" fill="#9a742b"/>
<circle cx="1670.7" cy="1413.0" r="2.3" fill="#9a742b"/>
<circle cx="1696.9" cy="1418.1" r="2.3" fill="#9a742b"/>
<circle cx="1723.2" cy="1414.0" r="2.3" fill="#9a742b"/>
<circle cx="1749.4" cy="1416.1" r="2.3" fill="#9a742b"/>
<circle cx="1775.7" cy="1415.1" r="2.3" fill="#9a742b"/>
<line x1="101.7" y1="1603.0" x2="101.7" y2="1847.3" stroke="#000" stroke-width="1.6" />
<line x1="97.4" y1="1846.5" x2="343.5" y2="1846.5" stroke="#000" stroke-width="1.6" />
<text font-size="30.5" text-anchor="end" x="90.1" y="1853.5" >0</text>
<line x1="97.4" y1="1806.0" x2="101.7" y2="1806.0" stroke="#000" stroke-width="1.6" />
<text font-size="30.5" text-anchor="end" x="94.6" y="1813.1" >20</text>
<line x1="97.4" y1="1765.6" x2="101.7" y2="1765.6" stroke="#000" stroke-width="1.6" />
<text font-size="30.5" text-anchor="end" x="94.6" y="1772.6" >40</text>
<line x1="97.4" y1="1725.2" x2="101.7" y2="1725.2" stroke="#000" stroke-width="1.6" />
<text font-size="30.5" text-anchor="end" x="94.6" y="1732.2" >60</text>
<line x1="97.4" y1="1684.7" x2="101.7" y2="1684.7" stroke="#000" stroke-width="1.6" />
<text font-size="30.5" text-anchor="end" x="94.6" y="1691.7" >80</text>
<line x1="97.4" y1="1644.2" x2="101.7" y2="1644.2" stroke="#000" stroke-width="1.6" />
<text font-size="30.5" text-anchor="end" x="99.6" y="1651.3" >100</text>
<line x1="97.4" y1="1603.8" x2="101.7" y2="1603.8" stroke="#000" stroke-width="1.6" />
<text font-size="30.5" text-anchor="end" x="99.6" y="1610.8" >120</text>
<line x1="118.7" y1="1846.5" x2="118.7" y2="1851.1" stroke="#000" stroke-width="1.6" />
<line x1="144.8" y1="1846.5" x2="144.8" y2="1851.1" stroke="#000" stroke-width="1.6" />
<line x1="170.9" y1="1846.5" x2="170.9" y2="1851.1" stroke="#000" stroke-width="1.6" />
<line x1="197.0" y1="1846.5" x2="197.0" y2="1851.1" stroke="#000" stroke-width="1.6" />
<line x1="223.2" y1="1846.5" x2="223.2" y2="1851.1" stroke="#000" stroke-width="1.6" />
<line x1="249.3" y1="1846.5" x2="249.3" y2="1851.1" stroke="#000" stroke-width="1.6" />
<line x1="275.4" y1="1846.5" x2="275.4" y2="1851.1" stroke="#000" stroke-width="1.6" />
<line x1="301.5" y1="1846.5" x2="301.5" y2="1851.1" stroke="#000" stroke-width="1.6" />
<line x1="327.6" y1="1846.5" x2="327.6" y2="1851.1" stroke="#000" stroke-width="1.6" />
<text font-size="30.6" text-anchor="end" transform="translate(129.1,1857.7) rotate(-90)" >P0</text>
<text font-size="30.6" text-anchor="end" transform="translate(156.1,1857.7) rotate(-90)" >P1</text>
<text font-size="30.6" text-anchor="end" transform="translate(183.2,1857.7) rotate(-90)" >P2</text>
<text font-size="30.6" text-anchor="end" transform="translate(210.2,1857.7) rotate(-90)" >P3</text>
<text font-size="30.6" text-anchor="end" transform="translate(237.2,1857.7) rotate(-90)" >P4</text>
<text font-size="30.6" text-anchor="end" transform="translate(264.2,1857.7) rotate(-90)" >P5</text>
<text font-size="30.6" text-anchor="end" transform="translate(291.3,1857.7) rotate(-90)" >P6</text>
<text font-size="30.6" text-anchor="end" transform="translate(318.3,1857.7) rotate(-90)" >P7</text>
<text font-size="30.6" text-anchor="end" transform="translate(345.3,1857.7) rotate(-90)" >P8</text>
<polyline points="118.7,1644.2 144.8,1679.6 170.9,1691.2 197.0,1684.7 223.2,1692.6 249.3,1707.4 275.4,1731.8 301.5,1726.0 327.6,1756.3" fill="none" stroke="#2a4696" stroke-width="2.9" stroke-linejoin="round" stroke-linecap="round"/>
<rect x="116.1" y="1641.7" width="5.2" height="5.2" fill="#2a4696"/>
<rect x="142.2" y="1677.0" width="5.2" height="5.2" fill="#2a4696"/>
<rect x="168.3" y="1688.6" width="5.2" height="5.2" fill="#2a4696"/>
<rect x="194.4" y="1682.1" width="5.2" height="5.2" fill="#2a4696"/>
<rect x="220.6" y="1690.0" width="5.2" height="5.2" fill="#2a4696"/>
<rect x="246.7" y="1704.8" width="5.2" height="5.2" fill="#2a4696"/>
<rect x="272.8" y="1729.2" width="5.2" height="5.2" fill="#2a4696"/>
<rect x="298.9" y="1723.4" width="5.2" height="5.2" fill="#2a4696"/>
<rect x="325.0" y="1753.7" width="5.2" height="5.2" fill="#2a4696"/>
<polyline points="118.7,1644.2 144.8,1697.0 170.9,1761.8 197.0,1781.6 223.2,1810.3 249.3,1817.0 275.4,1835.8 301.5,1842.5 327.6,1844.1" fill="none" stroke="#1b9e4b" stroke-width="2.9" stroke-linejoin="round" stroke-linecap="round"/>
<circle cx="118.7" cy="1644.2" r="2.3" fill="#1b9e4b"/>
<circle cx="144.8" cy="1697.0" r="2.3" fill="#1b9e4b"/>
<circle cx="170.9" cy="1761.8" r="2.3" fill="#1b9e4b"/>
<circle cx="197.0" cy="1781.6" r="2.3" fill="#1b9e4b"/>
<circle cx="223.2" cy="1810.3" r="2.3" fill="#1b9e4b"/>
<circle cx="249.3" cy="1817.0" r="2.3" fill="#1b9e4b"/>
<circle cx="275.4" cy="1835.8" r="2.3" fill="#1b9e4b"/>
<circle cx="301.5" cy="1842.5" r="2.3" fill="#1b9e4b"/>
<circle cx="327.6" cy="1844.1" r="2.3" fill="#1b9e4b"/>
<polyline points="118.7,1644.2 144.8,1695.0 170.9,1752.7 197.0,1802.4 223.2,1821.8 249.3,1825.3 275.4,1828.3 301.5,1845.7 327.6,1843.7" fill="none" stroke="#f2962c" stroke-width="2.9" stroke-linejoin="round" stroke-linecap="round"/>
<circle cx="118.7" cy="1644.2" r="2.3" fill="#f2962c"/>
<circle cx="144.8" cy="1695.0" r="2.3" fill="#f2962c"/>
<circle cx="170.9" cy="1752.7" r="2.3" fill="#f2962c"/>
<circle cx="197.0" cy="1802.4" r="2.3" fill="#f2962c"/>
<circle cx="223.2" cy="1821.8" r="2.3" fill="#f2962c"/>
<circle cx="249.3" cy="1825.3" r="2.3" fill="#f2962c"/>
<circle cx="275.4" cy="1828.3" r="2.3" fill="#f2962c"/>
<circle cx="301.5" cy="1845.7" r="2.3" fill="#f2962c"/>
<circle cx="327.6" cy="1843.7" r="2.3" fill="#f2962c"/>
<polyline points="118.7,1644.2 144.8,1706.9 170.9,1777.5 197.0,1821.8 223.2,1839.2 249.3,1838.2 275.4,1842.5 301.5,1846.1 327.6,1843.7" fill="none" stroke="#9a742b" stroke-width="2.9" stroke-linejoin="round" stroke-linecap="round"/>
<circle cx="118.7" cy="1644.2" r="2.3" fill="#9a742b"/>
<circle cx="144.8" cy="1706.9" r="2.3" fill="#9a742b"/>
<circle cx="170.9" cy="1777.5" r="2.3" fill="#9a742b"/>
<circle cx="197.0" cy="1821.8" r="2.3" fill="#9a742b"/>
<circle cx="223.2" cy="1839.2" r="2.3" fill="#9a742b"/>
<circle cx="249.3" cy="1838.2" r="2.3" fill="#9a742b"/>
<circle cx="275.4" cy="1842.5" r="2.3" fill="#9a742b"/>
<circle cx="301.5" cy="1846.1" r="2.3" fill="#9a742b"/>
<circle cx="327.6" cy="1843.7" r="2.3" fill="#9a742b"/>
<text font-size="33.5" text-anchor="middle" transform="translate(26.0,1717.5) rotate(-90)" >% GFP</text>
<line x1="388.0" y1="1603.4" x2="388.0" y2="1847.3" stroke="#000" stroke-width="1.6" />
<line x1="383.7" y1="1846.5" x2="630.6" y2="1846.5" stroke="#000" stroke-width="1.6" />
<text font-size="30.5" text-anchor="end" x="374.2" y="1853.5" >0</text>
<line x1="383.7" y1="1806.1" x2="388.0" y2="1806.1" stroke="#000" stroke-width="1.6" />
<text font-size="30.5" text-anchor="end" x="378.7" y="1813.1" >20</text>
<line x1="383.7" y1="1765.7" x2="388.0" y2="1765.7" stroke="#000" stroke-width="1.6" />
<text font-size="30.5" text-anchor="end" x="378.7" y="1772.8" >40</text>
<line x1="383.7" y1="1725.3" x2="388.0" y2="1725.3" stroke="#000" stroke-width="1.6" />
<text font-size="30.5" text-anchor="end" x="378.7" y="1732.4" >60</text>
<line x1="383.7" y1="1685.0" x2="388.0" y2="1685.0" stroke="#000" stroke-width="1.6" />
<text font-size="30.5" text-anchor="end" x="378.7" y="1692.0" >80</text>
<line x1="383.7" y1="1644.6" x2="388.0" y2="1644.6" stroke="#000" stroke-width="1.6" />
<text font-size="30.5" text-anchor="end" x="383.7" y="1651.6" >100</text>
<line x1="383.7" y1="1604.2" x2="388.0" y2="1604.2" stroke="#000" stroke-width="1.6" />
<text font-size="30.5" text-anchor="end" x="383.7" y="1611.2" >120</text>
<line x1="405.2" y1="1846.5" x2="405.2" y2="1851.1" stroke="#000" stroke-width="1.6" />
<line x1="431.3" y1="1846.5" x2="431.3" y2="1851.1" stroke="#000" stroke-width="1.6" />
<line x1="457.3" y1="1846.5" x2="457.3" y2="1851.1" stroke="#000" stroke-width="1.6" />
<line x1="483.4" y1="1846.5" x2="483.4" y2="1851.1" stroke="#000" stroke-width="1.6" />
<line x1="509.5" y1="1846.5" x2="509.5" y2="1851.1" stroke="#000" stroke-width="1.6" />
<line x1="535.5" y1="1846.5" x2="535.5" y2="1851.1" stroke="#000" stroke-width="1.6" />
<line x1="561.6" y1="1846.5" x2="561.6" y2="1851.1" stroke="#000" stroke-width="1.6" />
<line x1="587.6" y1="1846.5" x2="587.6" y2="1851.1" stroke="#000" stroke-width="1.6" />
<line x1="613.7" y1="1846.5" x2="613.7" y2="1851.1" stroke="#000" stroke-width="1.6" />
<text font-size="30.6" text-anchor="end" transform="translate(417.1,1857.7) rotate(-90)" >P0</text>
<text font-size="30.6" text-anchor="end" transform="translate(444.1,1857.7) rotate(-90)" >P1</text>
<text font-size="30.6" text-anchor="end" transform="translate(471.2,1857.7) rotate(-90)" >P2</text>
<text font-size="30.6" text-anchor="end" transform="translate(498.2,1857.7) rotate(-90)" >P3</text>
<text font-size="30.6" text-anchor="end" transform="translate(525.2,1857.7) rotate(-90)" >P4</text>
<text font-size="30.6" text-anchor="end" transform="translate(552.2,1857.7) rotate(-90)" >P5</text>
<text font-size="30.6" text-anchor="end" transform="translate(579.3,1857.7) rotate(-90)" >P6</text>
<text font-size="30.6" text-anchor="end" transform="translate(606.3,1857.7) rotate(-90)" >P7</text>
<text font-size="30.6" text-anchor="end" transform="translate(633.3,1857.7) rotate(-90)" >P8</text>
<polyline points="405.2,1644.6 431.3,1684.4 457.3,1711.2 483.4,1707.6 509.5,1733.4 535.5,1738.5 561.6,1746.6 587.6,1786.9 613.7,1800.5" fill="none" stroke="#2a4696" stroke-width="2.9" stroke-linejoin="round" stroke-linecap="round"/>
<rect x="402.6" y="1642.0" width="5.2" height="5.2" fill="#2a4696"/>
<rect x="428.7" y="1681.8" width="5.2" height="5.2" fill="#2a4696"/>
<rect x="454.7" y="1708.6" width="5.2" height="5.2" fill="#2a4696"/>
<rect x="480.8" y="1705.0" width="5.2" height="5.2" fill="#2a4696"/>
<rect x="506.9" y="1730.8" width="5.2" height="5.2" fill="#2a4696"/>
<rect x="532.9" y="1735.9" width="5.2" height="5.2" fill="#2a4696"/>
<rect x="559.0" y="1744.0" width="5.2" height="5.2" fill="#2a4696"/>
<rect x="585.0" y="1784.3" width="5.2" height="5.2" fill="#2a4696"/>
<rect x="611.1" y="1797.9" width="5.2" height="5.2" fill="#2a4696"/>
<polyline points="405.2,1644.6 431.3,1687.2 457.3,1756.8 483.4,1790.6 509.5,1803.5 535.5,1819.8 561.6,1831.2 587.6,1837.2 613.7,1843.1" fill="none" stroke="#1b9e4b" stroke-width="2.9" stroke-linejoin="round" stroke-linecap="round"/>
<circle cx="405.2" cy="1644.6" r="2.3" fill="#1b9e4b"/>
<circle cx="431.3" cy="1687.2" r="2.3" fill="#1b9e4b"/>
<circle cx="457.3" cy="1756.8" r="2.3" fill="#1b9e4b"/>
<circle cx="483.4" cy="1790.6" r="2.3" fill="#1b9e4b"/>
<circle cx="509.5" cy="1803.5" r="2.3" fill="#1b9e4b"/>
<circle cx="535.5" cy="1819.8" r="2.3" fill="#1b9e4b"/>
<circle cx="561.6" cy="1831.2" r="2.3" fill="#1b9e4b"/>
<circle cx="587.6" cy="1837.2" r="2.3" fill="#1b9e4b"/>
<circle cx="613.7" cy="1843.1" r="2.3" fill="#1b9e4b"/>
<polyline points="405.2,1644.6 431.3,1685.4 457.3,1750.8 483.4,1799.5 509.5,1812.8 535.5,1828.3 561.6,1838.2 587.6,1844.7 613.7,1845.7" fill="none" stroke="#f2962c" stroke-width="2.9" stroke-linejoin="round" stroke-linecap="round"/>
<circle cx="405.2" cy="1644.6" r="2.3" fill="#f2962c"/>
<circle cx="431.3" cy="1685.4" r="2.3" fill="#f2962c"/>
<circle cx="457.3" cy="1750.8" r="2.3" fill="#f2962c"/>
<circle cx="483.4" cy="1799.5" r="2.3" fill="#f2962c"/>
<circle cx="509.5" cy="1812.8" r="2.3" fill="#f2962c"/>
<circle cx="535.5" cy="1828.3" r="2.3" fill="#f2962c"/>
<circle cx="561.6" cy="1838.2" r="2.3" fill="#f2962c"/>
<circle cx="587.6" cy="1844.7" r="2.3" fill="#f2962c"/>
<circle cx="613.7" cy="1845.7" r="2.3" fill="#f2962c"/>
<polyline points="405.2,1644.6 431.3,1721.9 457.3,1783.5 483.4,1821.9 509.5,1830.5 535.5,1839.2 561.6,1845.1 587.6,1846.1 613.7,1846.1" fill="none" stroke="#9a742b" stroke-width="2.9" stroke-linejoin="round" stroke-linecap="round"/>
<circle cx="405.2" cy="1644.6" r="2.3" fill="#9a742b"/>
<circle cx="431.3" cy="1721.9" r="2.3" fill="#9a742b"/>
<circle cx="457.3" cy="1783.5" r="2.3" fill="#9a742b"/>
<circle cx="483.4" cy="1821.9" r="2.3" fill="#9a742b"/>
<circle cx="509.5" cy="1830.5" r="2.3" fill="#9a742b"/>
<circle cx="535.5" cy="1839.2" r="2.3" fill="#9a742b"/>
<circle cx="561.6" cy="1845.1" r="2.3" fill="#9a742b"/>
<circle cx="587.6" cy="1846.1" r="2.3" fill="#9a742b"/>
<circle cx="613.7" cy="1846.1" r="2.3" fill="#9a742b"/>
<line x1="670.8" y1="1603.4" x2="670.8" y2="1847.3" stroke="#000" stroke-width="1.6" />
<line x1="666.5" y1="1846.5" x2="913.7" y2="1846.5" stroke="#000" stroke-width="1.6" />
<text font-size="30.5" text-anchor="end" x="660.2" y="1853.5" >0</text>
<line x1="666.5" y1="1806.1" x2="670.8" y2="1806.1" stroke="#000" stroke-width="1.6" />
<text font-size="30.5" text-anchor="end" x="664.7" y="1813.1" >20</text>
<line x1="666.5" y1="1765.7" x2="670.8" y2="1765.7" stroke="#000" stroke-width="1.6" />
<text font-size="30.5" text-anchor="end" x="664.7" y="1772.8" >40</text>
<line x1="666.5" y1="1725.3" x2="670.8" y2="1725.3" stroke="#000" stroke-width="1.6" />
<text font-size="30.5" text-anchor="end" x="664.7" y="1732.4" >60</text>
<line x1="666.5" y1="1685.0" x2="670.8" y2="1685.0" stroke="#000" stroke-width="1.6" />
<text font-size="30.5" text-anchor="end" x="664.7" y="1692.0" >80</text>
<line x1="666.5" y1="1644.6" x2="670.8" y2="1644.6" stroke="#000" stroke-width="1.6" />
<text font-size="30.5" text-anchor="end" x="669.7" y="1651.6" >100</text>
<line x1="666.5" y1="1604.2" x2="670.8" y2="1604.2" stroke="#000" stroke-width="1.6" />
<text font-size="30.5" text-anchor="end" x="669.7" y="1611.2" >120</text>
<line x1="687.3" y1="1846.5" x2="687.3" y2="1851.1" stroke="#000" stroke-width="1.6" />
<line x1="713.4" y1="1846.5" x2="713.4" y2="1851.1" stroke="#000" stroke-width="1.6" />
<line x1="739.5" y1="1846.5" x2="739.5" y2="1851.1" stroke="#000" stroke-width="1.6" />
<line x1="765.6" y1="1846.5" x2="765.6" y2="1851.1" stroke="#000" stroke-width="1.6" />
<line x1="791.8" y1="1846.5" x2="791.8" y2="1851.1" stroke="#000" stroke-width="1.6" />
<line x1="817.9" y1="1846.5" x2="817.9" y2="1851.1" stroke="#000" stroke-width="1.6" />
<line x1="844.0" y1="1846.5" x2="844.0" y2="1851.1" stroke="#000" stroke-width="1.6" />
<line x1="870.1" y1="1846.5" x2="870.1" y2="1851.1" stroke="#000" stroke-width="1.6" />
<line x1="896.2" y1="1846.5" x2="896.2" y2="1851.1" stroke="#000" stroke-width="1.6" />
<text font-size="30.6" text-anchor="end" transform="translate(698.8,1857.7) rotate(-90)" >P0</text>
<text font-size="30.6" text-anchor="end" transform="translate(725.8,1857.7) rotate(-90)" >P1</text>
<text font-size="30.6" text-anchor="end" transform="translate(752.9,1857.7) rotate(-90)" >P2</text>
<text font-size="30.6" text-anchor="end" transform="translate(779.9,1857.7) rotate(-90)" >P3</text>
<text font-size="30.6" text-anchor="end" transform="translate(806.9,1857.7) rotate(-90)" >P4</text>
<text font-size="30.6" text-anchor="end" transform="translate(833.9,1857.7) rotate(-90)" >P5</text>
<text font-size="30.6" text-anchor="end" transform="translate(861.0,1857.7) rotate(-90)" >P6</text>
<text font-size="30.6" text-anchor="end" transform="translate(888.0,1857.7) rotate(-90)" >P7</text>
<text font-size="30.6" text-anchor="end" transform="translate(915.0,1857.7) rotate(-90)" >P8</text>
<polyline points="687.3,1644.6 713.4,1685.4 739.5,1706.2 765.6,1709.2 791.8,1733.4 817.9,1747.8 844.0,1770.0 870.1,1768.2 896.2,1795.0" fill="none" stroke="#2a4696" stroke-width="2.9" stroke-linejoin="round" stroke-linecap="round"/>
<rect x="684.7" y="1642.0" width="5.2" height="5.2" fill="#2a4696"/>
<rect x="710.8" y="1682.8" width="5.2" height="5.2" fill="#2a4696"/>
<rect x="736.9" y="1703.6" width="5.2" height="5.2" fill="#2a4696"/>
<rect x="763.0" y="1706.6" width="5.2" height="5.2" fill="#2a4696"/>
<rect x="789.1" y="1730.8" width="5.2" height="5.2" fill="#2a4696"/>
<rect x="815.3" y="1745.2" width="5.2" height="5.2" fill="#2a4696"/>
<rect x="841.4" y="1767.4" width="5.2" height="5.2" fill="#2a4696"/>
<rect x="867.5" y="1765.6" width="5.2" height="5.2" fill="#2a4696"/>
<rect x="893.6" y="1792.4" width="5.2" height="5.2" fill="#2a4696"/>
<polyline points="687.3,1644.6 713.4,1681.3 739.5,1735.8 765.6,1778.3 791.8,1801.5 817.9,1815.4 844.0,1825.3 870.1,1835.8 896.2,1840.2" fill="none" stroke="#1b9e4b" stroke-width="2.9" stroke-linejoin="round" stroke-linecap="round"/>
<circle cx="687.3" cy="1644.6" r="2.3" fill="#1b9e4b"/>
<circle cx="713.4" cy="1681.3" r="2.3" fill="#1b9e4b"/>
<circle cx="739.5" cy="1735.8" r="2.3" fill="#1b9e4b"/>
<circle cx="765.6" cy="1778.3" r="2.3" fill="#1b9e4b"/>
<circle cx="791.8" cy="1801.5" r="2.3" fill="#1b9e4b"/>
<circle cx="817.9" cy="1815.4" r="2.3" fill="#1b9e4b"/>
<circle cx="844.0" cy="1825.3" r="2.3" fill="#1b9e4b"/>
<circle cx="870.1" cy="1835.8" r="2.3" fill="#1b9e4b"/>
<circle cx="896.2" cy="1840.2" r="2.3" fill="#1b9e4b"/>
<polyline points="687.3,1644.6 713.4,1689.2 739.5,1747.8 765.6,1795.4 791.8,1819.2 817.9,1830.1 844.0,1836.2 870.1,1841.0 896.2,1844.1" fill="none" stroke="#f2962c" stroke-width="2.9" stroke-linejoin="round" stroke-linecap="round"/>
<circle cx="687.3" cy="1644.6" r="2.3" fill="#f2962c"/>
<circle cx="713.4" cy="1689.2" r="2.3" fill="#f2962c"/>
<circle cx="739.5" cy="1747.8" r="2.3" fill="#f2962c"/>
<circle cx="765.6" cy="1795.4" r="2.3" fill="#f2962c"/>
<circle cx="791.8" cy="1819.2" r="2.3" fill="#f2962c"/>
<circle cx="817.9" cy="1830.1" r="2.3" fill="#f2962c"/>
<circle cx="844.0" cy="1836.2" r="2.3" fill="#f2962c"/>
<circle cx="870.1" cy="1841.0" r="2.3" fill="#f2962c"/>
<circle cx="896.2" cy="1844.1" r="2.3" fill="#f2962c"/>
<polyline points="687.3,1644.6 713.4,1714.0 739.5,1761.7 765.6,1807.3 791.8,1823.3 817.9,1833.2 844.0,1840.2 870.1,1843.1 896.2,1845.7" fill="none" stroke="#9a742b" stroke-width="2.9" stroke-linejoin="round" stroke-linecap="round"/>
<circle cx="687.3" cy="1644.6" r="2.3" fill="#9a742b"/>
<circle cx="713.4" cy="1714.0" r="2.3" fill="#9a742b"/>
<circle cx="739.5" cy="1761.7" r="2.3" fill="#9a742b"/>
<circle cx="765.6" cy="1807.3" r="2.3" fill="#9a742b"/>
<circle cx="791.8" cy="1823.3" r="2.3" fill="#9a742b"/>
<circle cx="817.9" cy="1833.2" r="2.3" fill="#9a742b"/>
<circle cx="844.0" cy="1840.2" r="2.3" fill="#9a742b"/>
<circle cx="870.1" cy="1843.1" r="2.3" fill="#9a742b"/>
<circle cx="896.2" cy="1845.7" r="2.3" fill="#9a742b"/>
<line x1="968.4" y1="1603.4" x2="968.4" y2="1847.3" stroke="#000" stroke-width="1.6" />
<line x1="964.1" y1="1846.5" x2="1210.6" y2="1846.5" stroke="#000" stroke-width="1.6" />
<text font-size="30.5" text-anchor="end" x="948.2" y="1853.5" >0</text>
<line x1="964.1" y1="1806.1" x2="968.4" y2="1806.1" stroke="#000" stroke-width="1.6" />
<text font-size="30.5" text-anchor="end" x="952.7" y="1813.1" >20</text>
<line x1="964.1" y1="1765.7" x2="968.4" y2="1765.7" stroke="#000" stroke-width="1.6" />
<text font-size="30.5" text-anchor="end" x="952.7" y="1772.8" >40</text>
<line x1="964.1" y1="1725.3" x2="968.4" y2="1725.3" stroke="#000" stroke-width="1.6" />
<text font-size="30.5" text-anchor="end" x="952.7" y="1732.4" >60</text>
<line x1="964.1" y1="1685.0" x2="968.4" y2="1685.0" stroke="#000" stroke-width="1.6" />
<text font-size="30.5" text-anchor="end" x="952.7" y="1692.0" >80</text>
<line x1="964.1" y1="1644.6" x2="968.4" y2="1644.6" stroke="#000" stroke-width="1.6" />
<text font-size="30.5" text-anchor="end" x="957.7" y="1651.6" >100</text>
<line x1="964.1" y1="1604.2" x2="968.4" y2="1604.2" stroke="#000" stroke-width="1.6" />
<text font-size="30.5" text-anchor="end" x="957.7" y="1611.2" >120</text>
<line x1="985.6" y1="1846.5" x2="985.6" y2="1851.1" stroke="#000" stroke-width="1.6" />
<line x1="1011.6" y1="1846.5" x2="1011.6" y2="1851.1" stroke="#000" stroke-width="1.6" />
<line x1="1037.6" y1="1846.5" x2="1037.6" y2="1851.1" stroke="#000" stroke-width="1.6" />
<line x1="1063.6" y1="1846.5" x2="1063.6" y2="1851.1" stroke="#000" stroke-width="1.6" />
<line x1="1089.7" y1="1846.5" x2="1089.7" y2="1851.1" stroke="#000" stroke-width="1.6" />
<line x1="1115.7" y1="1846.5" x2="1115.7" y2="1851.1" stroke="#000" stroke-width="1.6" />
<line x1="1141.7" y1="1846.5" x2="1141.7" y2="1851.1" stroke="#000" stroke-width="1.6" />
<line x1="1167.7" y1="1846.5" x2="1167.7" y2="1851.1" stroke="#000" stroke-width="1.6" />
<line x1="1193.7" y1="1846.5" x2="1193.7" y2="1851.1" stroke="#000" stroke-width="1.6" />
<text font-size="30.6" text-anchor="end" transform="translate(993.2,1857.7) rotate(-90)" >P0</text>
<text font-size="30.6" text-anchor="end" transform="translate(1020.2,1857.7) rotate(-90)" >P1</text>
<text font-size="30.6" text-anchor="end" transform="translate(1047.3,1857.7) rotate(-90)" >P2</text>
<text font-size="30.6" text-anchor="end" transform="translate(1074.3,1857.7) rotate(-90)" >P3</text>
<text font-size="30.6" text-anchor="end" transform="translate(1101.3,1857.7) rotate(-90)" >P4</text>
<text font-size="30.6" text-anchor="end" transform="translate(1128.4,1857.7) rotate(-90)" >P5</text>
<text font-size="30.6" text-anchor="end" transform="translate(1155.4,1857.7) rotate(-90)" >P6</text>
<text font-size="30.6" text-anchor="end" transform="translate(1182.4,1857.7) rotate(-90)" >P7</text>
<text font-size="30.6" text-anchor="end" transform="translate(1209.4,1857.7) rotate(-90)" >P8</text>
<polyline points="985.6,1644.6 1011.6,1688.2 1037.6,1704.1 1063.6,1716.1 1089.7,1748.8 1115.7,1784.1 1141.7,1798.0 1167.7,1822.3 1193.7,1833.8" fill="none" stroke="#2a4696" stroke-width="2.9" stroke-linejoin="round" stroke-linecap="round"/>
<rect x="983.0" y="1642.0" width="5.2" height="5.2" fill="#2a4696"/>
<rect x="1009.0" y="1685.6" width="5.2" height="5.2" fill="#2a4696"/>
<rect x="1035.0" y="1701.5" width="5.2" height="5.2" fill="#2a4696"/>
<rect x="1061.0" y="1713.5" width="5.2" height="5.2" fill="#2a4696"/>
<rect x="1087.1" y="1746.2" width="5.2" height="5.2" fill="#2a4696"/>
<rect x="1113.1" y="1781.5" width="5.2" height="5.2" fill="#2a4696"/>
<rect x="1139.1" y="1795.4" width="5.2" height="5.2" fill="#2a4696"/>
<rect x="1165.1" y="1819.7" width="5.2" height="5.2" fill="#2a4696"/>
<rect x="1191.1" y="1831.2" width="5.2" height="5.2" fill="#2a4696"/>
<polyline points="985.6,1644.6 1011.6,1681.3 1037.6,1733.0 1063.6,1755.8 1089.7,1769.6 1115.7,1791.2 1141.7,1801.9 1167.7,1805.9 1193.7,1801.5" fill="none" stroke="#1b9e4b" stroke-width="2.9" stroke-linejoin="round" stroke-linecap="round"/>
<circle cx="985.6" cy="1644.6" r="2.3" fill="#1b9e4b"/>
<circle cx="1011.6" cy="1681.3" r="2.3" fill="#1b9e4b"/>
<circle cx="1037.6" cy="1733.0" r="2.3" fill="#1b9e4b"/>
<circle cx="1063.6" cy="1755.8" r="2.3" fill="#1b9e4b"/>
<circle cx="1089.7" cy="1769.6" r="2.3" fill="#1b9e4b"/>
<circle cx="1115.7" cy="1791.2" r="2.3" fill="#1b9e4b"/>
<circle cx="1141.7" cy="1801.9" r="2.3" fill="#1b9e4b"/>
<circle cx="1167.7" cy="1805.9" r="2.3" fill="#1b9e4b"/>
<circle cx="1193.7" cy="1801.5" r="2.3" fill="#1b9e4b"/>
<polyline points="985.6,1644.6 1011.6,1694.3 1037.6,1743.9 1063.6,1786.5 1089.7,1799.0 1115.7,1818.2 1141.7,1832.2 1167.7,1829.1 1193.7,1834.6" fill="none" stroke="#f2962c" stroke-width="2.9" stroke-linejoin="round" stroke-linecap="round"/>
<circle cx="985.6" cy="1644.6" r="2.3" fill="#f2962c"/>
<circle cx="1011.6" cy="1694.3" r="2.3" fill="#f2962c"/>
<circle cx="1037.6" cy="1743.9" r="2.3" fill="#f2962c"/>
<circle cx="1063.6" cy="1786.5" r="2.3" fill="#f2962c"/>
<circle cx="1089.7" cy="1799.0" r="2.3" fill="#f2962c"/>
<circle cx="1115.7" cy="1818.2" r="2.3" fill="#f2962c"/>
<circle cx="1141.7" cy="1832.2" r="2.3" fill="#f2962c"/>
<circle cx="1167.7" cy="1829.1" r="2.3" fill="#f2962c"/>
<circle cx="1193.7" cy="1834.6" r="2.3" fill="#f2962c"/>
<polyline points="985.6,1644.6 1011.6,1713.0 1037.6,1765.7 1063.6,1812.0 1089.7,1828.3 1115.7,1830.1 1141.7,1840.6 1167.7,1841.0 1193.7,1846.1" fill="none" stroke="#9a742b" stroke-width="2.9" stroke-linejoin="round" stroke-linecap="round"/>
<circle cx="985.6" cy="1644.6" r="2.3" fill="#9a742b"/>
<circle cx="1011.6" cy="1713.0" r="2.3" fill="#9a742b"/>
<circle cx="1037.6" cy="1765.7" r="2.3" fill="#9a742b"/>
<circle cx="1063.6" cy="1812.0" r="2.3" fill="#9a742b"/>
<circle cx="1089.7" cy="1828.3" r="2.3" fill="#9a742b"/>
<circle cx="1115.7" cy="1830.1" r="2.3" fill="#9a742b"/>
<circle cx="1141.7" cy="1840.6" r="2.3" fill="#9a742b"/>
<circle cx="1167.7" cy="1841.0" r="2.3" fill="#9a742b"/>
<circle cx="1193.7" cy="1846.1" r="2.3" fill="#9a742b"/>
<line x1="1253.4" y1="1603.4" x2="1253.4" y2="1847.4" stroke="#000" stroke-width="1.6" />
<line x1="1249.1" y1="1846.6" x2="1495.7" y2="1846.6" stroke="#000" stroke-width="1.6" />
<text font-size="30.5" text-anchor="end" x="1240.2" y="1853.6" >0</text>
<line x1="1249.1" y1="1806.2" x2="1253.4" y2="1806.2" stroke="#000" stroke-width="1.6" />
<text font-size="30.5" text-anchor="end" x="1244.7" y="1813.2" >20</text>
<line x1="1249.1" y1="1765.8" x2="1253.4" y2="1765.8" stroke="#000" stroke-width="1.6" />
<text font-size="30.5" text-anchor="end" x="1244.7" y="1772.8" >40</text>
<line x1="1249.1" y1="1725.4" x2="1253.4" y2="1725.4" stroke="#000" stroke-width="1.6" />
<text font-size="30.5" text-anchor="end" x="1244.7" y="1732.4" >60</text>
<line x1="1249.1" y1="1685.0" x2="1253.4" y2="1685.0" stroke="#000" stroke-width="1.6" />
<text font-size="30.5" text-anchor="end" x="1244.7" y="1692.0" >80</text>
<line x1="1249.1" y1="1644.6" x2="1253.4" y2="1644.6" stroke="#000" stroke-width="1.6" />
<text font-size="30.5" text-anchor="end" x="1249.7" y="1651.6" >100</text>
<line x1="1249.1" y1="1604.2" x2="1253.4" y2="1604.2" stroke="#000" stroke-width="1.6" />
<text font-size="30.5" text-anchor="end" x="1249.7" y="1611.2" >120</text>
<line x1="1270.9" y1="1846.6" x2="1270.9" y2="1851.2" stroke="#000" stroke-width="1.6" />
<line x1="1297.0" y1="1846.6" x2="1297.0" y2="1851.2" stroke="#000" stroke-width="1.6" />
<line x1="1323.1" y1="1846.6" x2="1323.1" y2="1851.2" stroke="#000" stroke-width="1.6" />
<line x1="1349.2" y1="1846.6" x2="1349.2" y2="1851.2" stroke="#000" stroke-width="1.6" />
<line x1="1375.3" y1="1846.6" x2="1375.3" y2="1851.2" stroke="#000" stroke-width="1.6" />
<line x1="1401.5" y1="1846.6" x2="1401.5" y2="1851.2" stroke="#000" stroke-width="1.6" />
<line x1="1427.6" y1="1846.6" x2="1427.6" y2="1851.2" stroke="#000" stroke-width="1.6" />
<line x1="1453.7" y1="1846.6" x2="1453.7" y2="1851.2" stroke="#000" stroke-width="1.6" />
<line x1="1479.8" y1="1846.6" x2="1479.8" y2="1851.2" stroke="#000" stroke-width="1.6" />
<text font-size="30.6" text-anchor="end" transform="translate(1279.0,1857.8) rotate(-90)" >P0</text>
<text font-size="30.6" text-anchor="end" transform="translate(1306.0,1857.8) rotate(-90)" >P1</text>
<text font-size="30.6" text-anchor="end" transform="translate(1333.1,1857.8) rotate(-90)" >P2</text>
<text font-size="30.6" text-anchor="end" transform="translate(1360.1,1857.8) rotate(-90)" >P3</text>
<text font-size="30.6" text-anchor="end" transform="translate(1387.1,1857.8) rotate(-90)" >P4</text>
<text font-size="30.6" text-anchor="end" transform="translate(1414.2,1857.8) rotate(-90)" >P5</text>
<text font-size="30.6" text-anchor="end" transform="translate(1441.2,1857.8) rotate(-90)" >P6</text>
<text font-size="30.6" text-anchor="end" transform="translate(1468.2,1857.8) rotate(-90)" >P7</text>
<text font-size="30.6" text-anchor="end" transform="translate(1495.2,1857.8) rotate(-90)" >P8</text>
<polyline points="1270.9,1644.6 1297.0,1665.8 1323.1,1682.4 1349.2,1699.5 1375.3,1711.5 1401.5,1749.2 1427.6,1781.6 1453.7,1790.8 1479.8,1814.3" fill="none" stroke="#2a4696" stroke-width="2.9" stroke-linejoin="round" stroke-linecap="round"/>
<rect x="1268.3" y="1642.0" width="5.2" height="5.2" fill="#2a4696"/>
<rect x="1294.4" y="1663.2" width="5.2" height="5.2" fill="#2a4696"/>
<rect x="1320.5" y="1679.8" width="5.2" height="5.2" fill="#2a4696"/>
<rect x="1346.6" y="1696.9" width="5.2" height="5.2" fill="#2a4696"/>
<rect x="1372.8" y="1708.9" width="5.2" height="5.2" fill="#2a4696"/>
<rect x="1398.9" y="1746.6" width="5.2" height="5.2" fill="#2a4696"/>
<rect x="1425.0" y="1779.0" width="5.2" height="5.2" fill="#2a4696"/>
<rect x="1451.1" y="1788.2" width="5.2" height="5.2" fill="#2a4696"/>
<rect x="1477.2" y="1811.7" width="5.2" height="5.2" fill="#2a4696"/>
<polyline points="1270.9,1644.6 1297.0,1661.8 1323.1,1702.2 1349.2,1738.9 1375.3,1757.7 1401.5,1775.5 1427.6,1797.9 1453.7,1798.3 1479.8,1794.1" fill="none" stroke="#1b9e4b" stroke-width="2.9" stroke-linejoin="round" stroke-linecap="round"/>
<circle cx="1270.9" cy="1644.6" r="2.3" fill="#1b9e4b"/>
<circle cx="1297.0" cy="1661.8" r="2.3" fill="#1b9e4b"/>
<circle cx="1323.1" cy="1702.2" r="2.3" fill="#1b9e4b"/>
<circle cx="1349.2" cy="1738.9" r="2.3" fill="#1b9e4b"/>
<circle cx="1375.3" cy="1757.7" r="2.3" fill="#1b9e4b"/>
<circle cx="1401.5" cy="1775.5" r="2.3" fill="#1b9e4b"/>
<circle cx="1427.6" cy="1797.9" r="2.3" fill="#1b9e4b"/>
<circle cx="1453.7" cy="1798.3" r="2.3" fill="#1b9e4b"/>
<circle cx="1479.8" cy="1794.1" r="2.3" fill="#1b9e4b"/>
<polyline points="1270.9,1644.6 1297.0,1678.3 1323.1,1719.3 1349.2,1751.3 1375.3,1772.7 1401.5,1792.5 1427.6,1808.6 1453.7,1816.3 1479.8,1822.6" fill="none" stroke="#f2962c" stroke-width="2.9" stroke-linejoin="round" stroke-linecap="round"/>
<circle cx="1270.9" cy="1644.6" r="2.3" fill="#f2962c"/>
<circle cx="1297.0" cy="1678.3" r="2.3" fill="#f2962c"/>
<circle cx="1323.1" cy="1719.3" r="2.3" fill="#f2962c"/>
<circle cx="1349.2" cy="1751.3" r="2.3" fill="#f2962c"/>
<circle cx="1375.3" cy="1772.7" r="2.3" fill="#f2962c"/>
<circle cx="1401.5" cy="1792.5" r="2.3" fill="#f2962c"/>
<circle cx="1427.6" cy="1808.6" r="2.3" fill="#f2962c"/>
<circle cx="1453.7" cy="1816.3" r="2.3" fill="#f2962c"/>
<circle cx="1479.8" cy="1822.6" r="2.3" fill="#f2962c"/>
<polyline points="1270.9,1644.6 1297.0,1693.3 1323.1,1723.0 1349.2,1765.6 1375.3,1785.4 1401.5,1817.3 1427.6,1835.7 1453.7,1837.7 1479.8,1843.6" fill="none" stroke="#9a742b" stroke-width="2.9" stroke-linejoin="round" stroke-linecap="round"/>
<circle cx="1270.9" cy="1644.6" r="2.3" fill="#9a742b"/>
<circle cx="1297.0" cy="1693.3" r="2.3" fill="#9a742b"/>
<circle cx="1323.1" cy="1723.0" r="2.3" fill="#9a742b"/>
<circle cx="1349.2" cy="1765.6" r="2.3" fill="#9a742b"/>
<circle cx="1375.3" cy="1785.4" r="2.3" fill="#9a742b"/>
<circle cx="1401.5" cy="1817.3" r="2.3" fill="#9a742b"/>
<circle cx="1427.6" cy="1835.7" r="2.3" fill="#9a742b"/>
<circle cx="1453.7" cy="1837.7" r="2.3" fill="#9a742b"/>
<circle cx="1479.8" cy="1843.6" r="2.3" fill="#9a742b"/>
<line x1="1547.0" y1="1609.5" x2="1547.0" y2="1853.4" stroke="#000" stroke-width="1.6" />
<line x1="1542.7" y1="1852.6" x2="1788.6" y2="1852.6" stroke="#000" stroke-width="1.6" />
<text font-size="30.5" text-anchor="end" x="1534.2" y="1859.6" >0</text>
<line x1="1542.7" y1="1812.2" x2="1547.0" y2="1812.2" stroke="#000" stroke-width="1.6" />
<text font-size="30.5" text-anchor="end" x="1538.7" y="1819.2" >20</text>
<line x1="1542.7" y1="1771.8" x2="1547.0" y2="1771.8" stroke="#000" stroke-width="1.6" />
<text font-size="30.5" text-anchor="end" x="1538.7" y="1778.9" >40</text>
<line x1="1542.7" y1="1731.4" x2="1547.0" y2="1731.4" stroke="#000" stroke-width="1.6" />
<text font-size="30.5" text-anchor="end" x="1538.7" y="1738.5" >60</text>
<line x1="1542.7" y1="1691.1" x2="1547.0" y2="1691.1" stroke="#000" stroke-width="1.6" />
<text font-size="30.5" text-anchor="end" x="1538.7" y="1698.1" >80</text>
<line x1="1542.7" y1="1650.7" x2="1547.0" y2="1650.7" stroke="#000" stroke-width="1.6" />
<text font-size="30.5" text-anchor="end" x="1543.7" y="1657.7" >100</text>
<line x1="1542.7" y1="1610.3" x2="1547.0" y2="1610.3" stroke="#000" stroke-width="1.6" />
<text font-size="30.5" text-anchor="end" x="1543.7" y="1617.3" >120</text>
<line x1="1563.7" y1="1852.6" x2="1563.7" y2="1857.2" stroke="#000" stroke-width="1.6" />
<line x1="1590.2" y1="1852.6" x2="1590.2" y2="1857.2" stroke="#000" stroke-width="1.6" />
<line x1="1616.6" y1="1852.6" x2="1616.6" y2="1857.2" stroke="#000" stroke-width="1.6" />
<line x1="1643.0" y1="1852.6" x2="1643.0" y2="1857.2" stroke="#000" stroke-width="1.6" />
<line x1="1669.5" y1="1852.6" x2="1669.5" y2="1857.2" stroke="#000" stroke-width="1.6" />
<line x1="1696.0" y1="1852.6" x2="1696.0" y2="1857.2" stroke="#000" stroke-width="1.6" />
<line x1="1722.4" y1="1852.6" x2="1722.4" y2="1857.2" stroke="#000" stroke-width="1.6" />
<line x1="1748.8" y1="1852.6" x2="1748.8" y2="1857.2" stroke="#000" stroke-width="1.6" />
<line x1="1775.3" y1="1852.6" x2="1775.3" y2="1857.2" stroke="#000" stroke-width="1.6" />
<text font-size="30.6" text-anchor="end" transform="translate(1572.7,1863.8) rotate(-90)" >P0</text>
<text font-size="30.6" text-anchor="end" transform="translate(1599.7,1863.8) rotate(-90)" >P1</text>
<text font-size="30.6" text-anchor="end" transform="translate(1626.8,1863.8) rotate(-90)" >P2</text>
<text font-size="30.6" text-anchor="end" transform="translate(1653.8,1863.8) rotate(-90)" >P3</text>
<text font-size="30.6" text-anchor="end" transform="translate(1680.8,1863.8) rotate(-90)" >P4</text>
<text font-size="30.6" text-anchor="end" transform="translate(1707.9,1863.8) rotate(-90)" >P5</text>
<text font-size="30.6" text-anchor="end" transform="translate(1734.9,1863.8) rotate(-90)" >P6</text>
<text font-size="30.6" text-anchor="end" transform="translate(1761.9,1863.8) rotate(-90)" >P7</text>
<text font-size="30.6" text-anchor="end" transform="translate(1788.9,1863.8) rotate(-90)" >P8</text>
<polyline points="1563.7,1650.7 1590.2,1686.6 1616.6,1704.4 1643.0,1712.3 1669.5,1740.1 1696.0,1751.2 1722.4,1800.3 1748.8,1819.7 1775.3,1830.8" fill="none" stroke="#2a4696" stroke-width="2.9" stroke-linejoin="round" stroke-linecap="round"/>
<rect x="1561.1" y="1648.1" width="5.2" height="5.2" fill="#2a4696"/>
<rect x="1587.6" y="1684.0" width="5.2" height="5.2" fill="#2a4696"/>
<rect x="1614.0" y="1701.8" width="5.2" height="5.2" fill="#2a4696"/>
<rect x="1640.5" y="1709.7" width="5.2" height="5.2" fill="#2a4696"/>
<rect x="1666.9" y="1737.5" width="5.2" height="5.2" fill="#2a4696"/>
<rect x="1693.4" y="1748.6" width="5.2" height="5.2" fill="#2a4696"/>
<rect x="1719.8" y="1797.7" width="5.2" height="5.2" fill="#2a4696"/>
<rect x="1746.2" y="1817.1" width="5.2" height="5.2" fill="#2a4696"/>
<rect x="1772.7" y="1828.2" width="5.2" height="5.2" fill="#2a4696"/>
<polyline points="1563.7,1650.7 1590.2,1678.7 1616.6,1746.6 1643.0,1781.5 1669.5,1810.2 1696.0,1828.2 1722.4,1840.5 1748.8,1852.0 1775.3,1851.6" fill="none" stroke="#1b9e4b" stroke-width="2.9" stroke-linejoin="round" stroke-linecap="round"/>
<circle cx="1563.7" cy="1650.7" r="2.3" fill="#1b9e4b"/>
<circle cx="1590.2" cy="1678.7" r="2.3" fill="#1b9e4b"/>
<circle cx="1616.6" cy="1746.6" r="2.3" fill="#1b9e4b"/>
<circle cx="1643.0" cy="1781.5" r="2.3" fill="#1b9e4b"/>
<circle cx="1669.5" cy="1810.2" r="2.3" fill="#1b9e4b"/>
<circle cx="1696.0" cy="1828.2" r="2.3" fill="#1b9e4b"/>
<circle cx="1722.4" cy="1840.5" r="2.3" fill="#1b9e4b"/>
<circle cx="1748.8" cy="1852.0" r="2.3" fill="#1b9e4b"/>
<circle cx="1775.3" cy="1851.6" r="2.3" fill="#1b9e4b"/>
<polyline points="1563.7,1650.7 1590.2,1704.0 1616.6,1753.1 1643.0,1802.3 1669.5,1815.2 1696.0,1828.6 1722.4,1839.1 1748.8,1843.5 1775.3,1850.0" fill="none" stroke="#f2962c" stroke-width="2.9" stroke-linejoin="round" stroke-linecap="round"/>
<circle cx="1563.7" cy="1650.7" r="2.3" fill="#f2962c"/>
<circle cx="1590.2" cy="1704.0" r="2.3" fill="#f2962c"/>
<circle cx="1616.6" cy="1753.1" r="2.3" fill="#f2962c"/>
<circle cx="1643.0" cy="1802.3" r="2.3" fill="#f2962c"/>
<circle cx="1669.5" cy="1815.2" r="2.3" fill="#f2962c"/>
<circle cx="1696.0" cy="1828.6" r="2.3" fill="#f2962c"/>
<circle cx="1722.4" cy="1839.1" r="2.3" fill="#f2962c"/>
<circle cx="1748.8" cy="1843.5" r="2.3" fill="#f2962c"/>
<circle cx="1775.3" cy="1850.0" r="2.3" fill="#f2962c"/>
<polyline points="1563.7,1650.7 1590.2,1730.8 1616.6,1792.8 1643.0,1835.6 1669.5,1844.7 1696.0,1845.1 1722.4,1851.6 1748.8,1852.0 1775.3,1848.4" fill="none" stroke="#9a742b" stroke-width="2.9" stroke-linejoin="round" stroke-linecap="round"/>
<circle cx="1563.7" cy="1650.7" r="2.3" fill="#9a742b"/>
<circle cx="1590.2" cy="1730.8" r="2.3" fill="#9a742b"/>
<circle cx="1616.6" cy="1792.8" r="2.3" fill="#9a742b"/>
<circle cx="1643.0" cy="1835.6" r="2.3" fill="#9a742b"/>
<circle cx="1669.5" cy="1844.7" r="2.3" fill="#9a742b"/>
<circle cx="1696.0" cy="1845.1" r="2.3" fill="#9a742b"/>
<circle cx="1722.4" cy="1851.6" r="2.3" fill="#9a742b"/>
<circle cx="1748.8" cy="1852.0" r="2.3" fill="#9a742b"/>
<circle cx="1775.3" cy="1848.4" r="2.3" fill="#9a742b"/>
<line x1="1836.2" y1="1610.3" x2="1836.2" y2="1854.8" stroke="#000" stroke-width="1.6" />
<line x1="1831.9" y1="1854.0" x2="2079.5" y2="1854.0" stroke="#000" stroke-width="1.6" />
<text font-size="30.5" text-anchor="end" x="1823.1" y="1861.0" >0</text>
<line x1="1831.9" y1="1813.5" x2="1836.2" y2="1813.5" stroke="#000" stroke-width="1.6" />
<text font-size="30.5" text-anchor="end" x="1827.6" y="1820.5" >20</text>
<line x1="1831.9" y1="1773.0" x2="1836.2" y2="1773.0" stroke="#000" stroke-width="1.6" />
<text font-size="30.5" text-anchor="end" x="1827.6" y="1780.1" >40</text>
<line x1="1831.9" y1="1732.5" x2="1836.2" y2="1732.5" stroke="#000" stroke-width="1.6" />
<text font-size="30.5" text-anchor="end" x="1827.6" y="1739.6" >60</text>
<line x1="1831.9" y1="1692.1" x2="1836.2" y2="1692.1" stroke="#000" stroke-width="1.6" />
<text font-size="30.5" text-anchor="end" x="1827.6" y="1699.1" >80</text>
<line x1="1831.9" y1="1651.6" x2="1836.2" y2="1651.6" stroke="#000" stroke-width="1.6" />
<text font-size="30.5" text-anchor="end" x="1832.6" y="1658.6" >100</text>
<line x1="1831.9" y1="1611.1" x2="1836.2" y2="1611.1" stroke="#000" stroke-width="1.6" />
<text font-size="30.5" text-anchor="end" x="1832.6" y="1618.1" >120</text>
<line x1="1853.1" y1="1854.0" x2="1853.1" y2="1858.6" stroke="#000" stroke-width="1.6" />
<line x1="1879.2" y1="1854.0" x2="1879.2" y2="1858.6" stroke="#000" stroke-width="1.6" />
<line x1="1905.3" y1="1854.0" x2="1905.3" y2="1858.6" stroke="#000" stroke-width="1.6" />
<line x1="1931.4" y1="1854.0" x2="1931.4" y2="1858.6" stroke="#000" stroke-width="1.6" />
<line x1="1957.5" y1="1854.0" x2="1957.5" y2="1858.6" stroke="#000" stroke-width="1.6" />
<line x1="1983.7" y1="1854.0" x2="1983.7" y2="1858.6" stroke="#000" stroke-width="1.6" />
<line x1="2009.8" y1="1854.0" x2="2009.8" y2="1858.6" stroke="#000" stroke-width="1.6" />
<line x1="2035.9" y1="1854.0" x2="2035.9" y2="1858.6" stroke="#000" stroke-width="1.6" />
<line x1="2062.0" y1="1854.0" x2="2062.0" y2="1858.6" stroke="#000" stroke-width="1.6" />
<text font-size="30.6" text-anchor="end" transform="translate(1862.5,1865.2) rotate(-90)" >P0</text>
<text font-size="30.6" text-anchor="end" transform="translate(1889.5,1865.2) rotate(-90)" >P1</text>
<text font-size="30.6" text-anchor="end" transform="translate(1916.6,1865.2) rotate(-90)" >P2</text>
<text font-size="30.6" text-anchor="end" transform="translate(1943.6,1865.2) rotate(-90)" >P3</text>
<text font-size="30.6" text-anchor="end" transform="translate(1970.6,1865.2) rotate(-90)" >P4</text>
<text font-size="30.6" text-anchor="end" transform="translate(1997.7,1865.2) rotate(-90)" >P5</text>
<text font-size="30.6" text-anchor="end" transform="translate(2024.7,1865.2) rotate(-90)" >P6</text>
<text font-size="30.6" text-anchor="end" transform="translate(2051.7,1865.2) rotate(-90)" >P7</text>
<text font-size="30.6" text-anchor="end" transform="translate(2078.7,1865.2) rotate(-90)" >P8</text>
<polyline points="1853.1,1651.6 1879.2,1703.2 1905.3,1729.9 1931.4,1741.9 1957.5,1746.5 1983.7,1766.8 2009.8,1771.6 2035.9,1778.1 2062.0,1776.1" fill="none" stroke="#2a4696" stroke-width="2.9" stroke-linejoin="round" stroke-linecap="round"/>
<rect x="1850.5" y="1649.0" width="5.2" height="5.2" fill="#2a4696"/>
<rect x="1876.6" y="1700.6" width="5.2" height="5.2" fill="#2a4696"/>
<rect x="1902.7" y="1727.3" width="5.2" height="5.2" fill="#2a4696"/>
<rect x="1928.8" y="1739.3" width="5.2" height="5.2" fill="#2a4696"/>
<rect x="1955.0" y="1743.9" width="5.2" height="5.2" fill="#2a4696"/>
<rect x="1981.1" y="1764.2" width="5.2" height="5.2" fill="#2a4696"/>
<rect x="2007.2" y="1769.0" width="5.2" height="5.2" fill="#2a4696"/>
<rect x="2033.3" y="1775.5" width="5.2" height="5.2" fill="#2a4696"/>
<rect x="2059.4" y="1773.5" width="5.2" height="5.2" fill="#2a4696"/>
<polyline points="1853.1,1651.6 1879.2,1685.4 1905.3,1742.9 1931.4,1767.2 1957.5,1785.2 1983.7,1790.0 2009.8,1806.8 2035.9,1823.6 2062.0,1822.2" fill="none" stroke="#1b9e4b" stroke-width="2.9" stroke-linejoin="round" stroke-linecap="round"/>
<circle cx="1853.1" cy="1651.6" r="2.3" fill="#1b9e4b"/>
<circle cx="1879.2" cy="1685.4" r="2.3" fill="#1b9e4b"/>
<circle cx="1905.3" cy="1742.9" r="2.3" fill="#1b9e4b"/>
<circle cx="1931.4" cy="1767.2" r="2.3" fill="#1b9e4b"/>
<circle cx="1957.5" cy="1785.2" r="2.3" fill="#1b9e4b"/>
<circle cx="1983.7" cy="1790.0" r="2.3" fill="#1b9e4b"/>
<circle cx="2009.8" cy="1806.8" r="2.3" fill="#1b9e4b"/>
<circle cx="2035.9" cy="1823.6" r="2.3" fill="#1b9e4b"/>
<circle cx="2062.0" cy="1822.2" r="2.3" fill="#1b9e4b"/>
<polyline points="1853.1,1651.6 1879.2,1691.3 1905.3,1748.7 1931.4,1783.6 1957.5,1793.5 1983.7,1797.9 2009.8,1800.0 2035.9,1814.3 2062.0,1829.5" fill="none" stroke="#f2962c" stroke-width="2.9" stroke-linejoin="round" stroke-linecap="round"/>
<circle cx="1853.1" cy="1651.6" r="2.3" fill="#f2962c"/>
<circle cx="1879.2" cy="1691.3" r="2.3" fill="#f2962c"/>
<circle cx="1905.3" cy="1748.7" r="2.3" fill="#f2962c"/>
<circle cx="1931.4" cy="1783.6" r="2.3" fill="#f2962c"/>
<circle cx="1957.5" cy="1793.5" r="2.3" fill="#f2962c"/>
<circle cx="1983.7" cy="1797.9" r="2.3" fill="#f2962c"/>
<circle cx="2009.8" cy="1800.0" r="2.3" fill="#f2962c"/>
<circle cx="2035.9" cy="1814.3" r="2.3" fill="#f2962c"/>
<circle cx="2062.0" cy="1829.5" r="2.3" fill="#f2962c"/>
<polyline points="1853.1,1651.6 1879.2,1713.1 1905.3,1755.8 1931.4,1796.5 1957.5,1819.8 1983.7,1831.1 2009.8,1840.4 2035.9,1847.5 2062.0,1848.1" fill="none" stroke="#9a742b" stroke-width="2.9" stroke-linejoin="round" stroke-linecap="round"/>
<circle cx="1853.1" cy="1651.6" r="2.3" fill="#9a742b"/>
<circle cx="1879.2" cy="1713.1" r="2.3" fill="#9a742b"/>
<circle cx="1905.3" cy="1755.8" r="2.3" fill="#9a742b"/>
<circle cx="1931.4" cy="1796.5" r="2.3" fill="#9a742b"/>
<circle cx="1957.5" cy="1819.8" r="2.3" fill="#9a742b"/>
<circle cx="1983.7" cy="1831.1" r="2.3" fill="#9a742b"/>
<circle cx="2009.8" cy="1840.4" r="2.3" fill="#9a742b"/>
<circle cx="2035.9" cy="1847.5" r="2.3" fill="#9a742b"/>
<circle cx="2062.0" cy="1848.1" r="2.3" fill="#9a742b"/>
<line x1="104.2" y1="1997.6" x2="104.2" y2="2242.4" stroke="#000" stroke-width="1.6" />
<line x1="99.9" y1="2241.6" x2="347.5" y2="2241.6" stroke="#000" stroke-width="1.6" />
<text font-size="30.5" text-anchor="end" x="90.1" y="2248.8" >0</text>
<line x1="99.9" y1="2201.1" x2="104.2" y2="2201.1" stroke="#000" stroke-width="1.6" />
<text font-size="30.5" text-anchor="end" x="94.6" y="2208.3" >20</text>
<line x1="99.9" y1="2160.5" x2="104.2" y2="2160.5" stroke="#000" stroke-width="1.6" />
<text font-size="30.5" text-anchor="end" x="94.6" y="2167.8" >40</text>
<line x1="99.9" y1="2120.0" x2="104.2" y2="2120.0" stroke="#000" stroke-width="1.6" />
<text font-size="30.5" text-anchor="end" x="94.6" y="2127.2" >60</text>
<line x1="99.9" y1="2079.5" x2="104.2" y2="2079.5" stroke="#000" stroke-width="1.6" />
<text font-size="30.5" text-anchor="end" x="94.6" y="2086.7" >80</text>
<line x1="99.9" y1="2038.9" x2="104.2" y2="2038.9" stroke="#000" stroke-width="1.6" />
<text font-size="30.5" text-anchor="end" x="99.6" y="2046.2" >100</text>
<line x1="99.9" y1="1998.4" x2="104.2" y2="1998.4" stroke="#000" stroke-width="1.6" />
<text font-size="30.5" text-anchor="end" x="99.6" y="2005.6" >120</text>
<line x1="123.9" y1="2241.6" x2="123.9" y2="2246.2" stroke="#000" stroke-width="1.6" />
<line x1="153.1" y1="2241.6" x2="153.1" y2="2246.2" stroke="#000" stroke-width="1.6" />
<line x1="182.4" y1="2241.6" x2="182.4" y2="2246.2" stroke="#000" stroke-width="1.6" />
<line x1="211.6" y1="2241.6" x2="211.6" y2="2246.2" stroke="#000" stroke-width="1.6" />
<line x1="240.9" y1="2241.6" x2="240.9" y2="2246.2" stroke="#000" stroke-width="1.6" />
<line x1="270.1" y1="2241.6" x2="270.1" y2="2246.2" stroke="#000" stroke-width="1.6" />
<line x1="299.4" y1="2241.6" x2="299.4" y2="2246.2" stroke="#000" stroke-width="1.6" />
<line x1="328.6" y1="2241.6" x2="328.6" y2="2246.2" stroke="#000" stroke-width="1.6" />
<line x1="341.2" y1="2241.6" x2="341.2" y2="2246.2" stroke="#000" stroke-width="1.6" />
<text font-size="30.6" text-anchor="end" transform="translate(134.4,2251.9) rotate(-90)" >P0</text>
<text font-size="30.6" text-anchor="end" transform="translate(161.4,2251.9) rotate(-90)" >P1</text>
<text font-size="30.6" text-anchor="end" transform="translate(188.5,2251.9) rotate(-90)" >P2</text>
<text font-size="30.6" text-anchor="end" transform="translate(215.5,2251.9) rotate(-90)" >P3</text>
<text font-size="30.6" text-anchor="end" transform="translate(242.5,2251.9) rotate(-90)" >P4</text>
<text font-size="30.6" text-anchor="end" transform="translate(269.5,2251.9) rotate(-90)" >P5</text>
<text font-size="30.6" text-anchor="end" transform="translate(296.6,2251.9) rotate(-90)" >P6</text>
<text font-size="30.6" text-anchor="end" transform="translate(323.6,2251.9) rotate(-90)" >P7</text>
<text font-size="30.6" text-anchor="end" transform="translate(350.6,2251.9) rotate(-90)" >P8</text>
<polyline points="123.9,2038.9 153.1,2102.0 182.4,2110.1 211.6,2113.3 240.9,2129.5 270.1,2146.8 299.4,2167.6 328.6,2168.6" fill="none" stroke="#2a4696" stroke-width="2.9" stroke-linejoin="round" stroke-linecap="round"/>
<circle cx="123.9" cy="2038.9" r="2.3" fill="#2a4696"/>
<circle cx="153.1" cy="2102.0" r="2.3" fill="#2a4696"/>
<circle cx="182.4" cy="2110.1" r="2.3" fill="#2a4696"/>
<circle cx="211.6" cy="2113.3" r="2.3" fill="#2a4696"/>
<circle cx="240.9" cy="2129.5" r="2.3" fill="#2a4696"/>
<circle cx="270.1" cy="2146.8" r="2.3" fill="#2a4696"/>
<circle cx="299.4" cy="2167.6" r="2.3" fill="#2a4696"/>
<circle cx="328.6" cy="2168.6" r="2.3" fill="#2a4696"/>
<polyline points="123.9,2038.9 153.1,2092.0 182.4,2179.4 211.6,2220.5 240.9,2234.7 270.1,2236.5 299.4,2239.6 328.6,2240.0" fill="none" stroke="#9a742b" stroke-width="2.9" stroke-linejoin="round" stroke-linecap="round"/>
<circle cx="123.9" cy="2038.9" r="2.3" fill="#9a742b"/>
<circle cx="153.1" cy="2092.0" r="2.3" fill="#9a742b"/>
<circle cx="182.4" cy="2179.4" r="2.3" fill="#9a742b"/>
<circle cx="211.6" cy="2220.5" r="2.3" fill="#9a742b"/>
<circle cx="240.9" cy="2234.7" r="2.3" fill="#9a742b"/>
<circle cx="270.1" cy="2236.5" r="2.3" fill="#9a742b"/>
<circle cx="299.4" cy="2239.6" r="2.3" fill="#9a742b"/>
<circle cx="328.6" cy="2240.0" r="2.3" fill="#9a742b"/>
<rect x="266.5" y="2232.6" width="6.4" height="6.4" fill="#a8792c"/>
<text font-size="33.5" text-anchor="middle" transform="translate(26.0,2091.5) rotate(-90)" >% GFP</text>
<line x1="387.4" y1="1998.6" x2="387.4" y2="2242.8" stroke="#000" stroke-width="1.6" />
<line x1="383.1" y1="2242.0" x2="628.6" y2="2242.0" stroke="#000" stroke-width="1.6" />
<text font-size="30.5" text-anchor="end" x="374.2" y="2249.2" >0</text>
<line x1="383.1" y1="2201.6" x2="387.4" y2="2201.6" stroke="#000" stroke-width="1.6" />
<text font-size="30.5" text-anchor="end" x="378.7" y="2208.8" >20</text>
<line x1="383.1" y1="2161.1" x2="387.4" y2="2161.1" stroke="#000" stroke-width="1.6" />
<text font-size="30.5" text-anchor="end" x="378.7" y="2168.4" >40</text>
<line x1="383.1" y1="2120.7" x2="387.4" y2="2120.7" stroke="#000" stroke-width="1.6" />
<text font-size="30.5" text-anchor="end" x="378.7" y="2127.9" >60</text>
<line x1="383.1" y1="2080.3" x2="387.4" y2="2080.3" stroke="#000" stroke-width="1.6" />
<text font-size="30.5" text-anchor="end" x="378.7" y="2087.5" >80</text>
<line x1="383.1" y1="2039.8" x2="387.4" y2="2039.8" stroke="#000" stroke-width="1.6" />
<text font-size="30.5" text-anchor="end" x="383.7" y="2047.1" >100</text>
<line x1="383.1" y1="1999.4" x2="387.4" y2="1999.4" stroke="#000" stroke-width="1.6" />
<text font-size="30.5" text-anchor="end" x="383.7" y="2006.6" >120</text>
<line x1="406.6" y1="2242.0" x2="406.6" y2="2246.6" stroke="#000" stroke-width="1.6" />
<line x1="435.7" y1="2242.0" x2="435.7" y2="2246.6" stroke="#000" stroke-width="1.6" />
<line x1="464.8" y1="2242.0" x2="464.8" y2="2246.6" stroke="#000" stroke-width="1.6" />
<line x1="493.9" y1="2242.0" x2="493.9" y2="2246.6" stroke="#000" stroke-width="1.6" />
<line x1="523.1" y1="2242.0" x2="523.1" y2="2246.6" stroke="#000" stroke-width="1.6" />
<line x1="552.2" y1="2242.0" x2="552.2" y2="2246.6" stroke="#000" stroke-width="1.6" />
<line x1="581.3" y1="2242.0" x2="581.3" y2="2246.6" stroke="#000" stroke-width="1.6" />
<line x1="610.4" y1="2242.0" x2="610.4" y2="2246.6" stroke="#000" stroke-width="1.6" />
<text font-size="30.6" text-anchor="end" transform="translate(408.6,2252.3) rotate(-90)" >P0</text>
<text font-size="30.6" text-anchor="end" transform="translate(435.6,2252.3) rotate(-90)" >P1</text>
<text font-size="30.6" text-anchor="end" transform="translate(462.7,2252.3) rotate(-90)" >P2</text>
<text font-size="30.6" text-anchor="end" transform="translate(489.7,2252.3) rotate(-90)" >P3</text>
<text font-size="30.6" text-anchor="end" transform="translate(516.7,2252.3) rotate(-90)" >P4</text>
<text font-size="30.6" text-anchor="end" transform="translate(543.8,2252.3) rotate(-90)" >P5</text>
<text font-size="30.6" text-anchor="end" transform="translate(570.8,2252.3) rotate(-90)" >P6</text>
<text font-size="30.6" text-anchor="end" transform="translate(597.8,2252.3) rotate(-90)" >P7</text>
<text font-size="30.6" text-anchor="end" transform="translate(624.8,2252.3) rotate(-90)" >P8</text>
<polyline points="406.6,2039.8 435.7,2112.8 464.8,2145.2 493.9,2142.3 523.1,2151.0 552.2,2158.5 581.3,2161.1 610.4,2176.1" fill="none" stroke="#2a4696" stroke-width="2.9" stroke-linejoin="round" stroke-linecap="round"/>
<circle cx="406.6" cy="2039.8" r="2.3" fill="#2a4696"/>
<circle cx="435.7" cy="2112.8" r="2.3" fill="#2a4696"/>
<circle cx="464.8" cy="2145.2" r="2.3" fill="#2a4696"/>
<circle cx="493.9" cy="2142.3" r="2.3" fill="#2a4696"/>
<circle cx="523.1" cy="2151.0" r="2.3" fill="#2a4696"/>
<circle cx="552.2" cy="2158.5" r="2.3" fill="#2a4696"/>
<circle cx="581.3" cy="2161.1" r="2.3" fill="#2a4696"/>
<circle cx="610.4" cy="2176.1" r="2.3" fill="#2a4696"/>
<polyline points="406.6,2039.8 435.7,2115.8 464.8,2186.4 493.9,2211.9 523.1,2236.9 552.2,2238.4 581.3,2240.4 610.4,2238.4" fill="none" stroke="#9a742b" stroke-width="2.9" stroke-linejoin="round" stroke-linecap="round"/>
<circle cx="406.6" cy="2039.8" r="2.3" fill="#9a742b"/>
<circle cx="435.7" cy="2115.8" r="2.3" fill="#9a742b"/>
<circle cx="464.8" cy="2186.4" r="2.3" fill="#9a742b"/>
<circle cx="493.9" cy="2211.9" r="2.3" fill="#9a742b"/>
<circle cx="523.1" cy="2236.9" r="2.3" fill="#9a742b"/>
<circle cx="552.2" cy="2238.4" r="2.3" fill="#9a742b"/>
<circle cx="581.3" cy="2240.4" r="2.3" fill="#9a742b"/>
<circle cx="610.4" cy="2238.4" r="2.3" fill="#9a742b"/>
<line x1="671.4" y1="1997.6" x2="671.4" y2="2241.8" stroke="#000" stroke-width="1.6" />
<line x1="667.1" y1="2241.0" x2="913.7" y2="2241.0" stroke="#000" stroke-width="1.6" />
<text font-size="30.5" text-anchor="end" x="660.2" y="2248.2" >0</text>
<line x1="667.1" y1="2200.6" x2="671.4" y2="2200.6" stroke="#000" stroke-width="1.6" />
<text font-size="30.5" text-anchor="end" x="664.7" y="2207.8" >20</text>
<line x1="667.1" y1="2160.1" x2="671.4" y2="2160.1" stroke="#000" stroke-width="1.6" />
<text font-size="30.5" text-anchor="end" x="664.7" y="2167.4" >40</text>
<line x1="667.1" y1="2119.7" x2="671.4" y2="2119.7" stroke="#000" stroke-width="1.6" />
<text font-size="30.5" text-anchor="end" x="664.7" y="2126.9" >60</text>
<line x1="667.1" y1="2079.3" x2="671.4" y2="2079.3" stroke="#000" stroke-width="1.6" />
<text font-size="30.5" text-anchor="end" x="664.7" y="2086.5" >80</text>
<line x1="667.1" y1="2038.8" x2="671.4" y2="2038.8" stroke="#000" stroke-width="1.6" />
<text font-size="30.5" text-anchor="end" x="669.7" y="2046.1" >100</text>
<line x1="667.1" y1="1998.4" x2="671.4" y2="1998.4" stroke="#000" stroke-width="1.6" />
<text font-size="30.5" text-anchor="end" x="669.7" y="2005.6" >120</text>
<line x1="690.7" y1="2241.0" x2="690.7" y2="2245.6" stroke="#000" stroke-width="1.6" />
<line x1="719.9" y1="2241.0" x2="719.9" y2="2245.6" stroke="#000" stroke-width="1.6" />
<line x1="749.0" y1="2241.0" x2="749.0" y2="2245.6" stroke="#000" stroke-width="1.6" />
<line x1="778.2" y1="2241.0" x2="778.2" y2="2245.6" stroke="#000" stroke-width="1.6" />
<line x1="807.3" y1="2241.0" x2="807.3" y2="2245.6" stroke="#000" stroke-width="1.6" />
<line x1="836.5" y1="2241.0" x2="836.5" y2="2245.6" stroke="#000" stroke-width="1.6" />
<line x1="865.6" y1="2241.0" x2="865.6" y2="2245.6" stroke="#000" stroke-width="1.6" />
<line x1="894.8" y1="2241.0" x2="894.8" y2="2245.6" stroke="#000" stroke-width="1.6" />
<text font-size="30.6" text-anchor="end" transform="translate(699.2,2251.3) rotate(-90)" >P0</text>
<text font-size="30.6" text-anchor="end" transform="translate(726.2,2251.3) rotate(-90)" >P1</text>
<text font-size="30.6" text-anchor="end" transform="translate(753.3,2251.3) rotate(-90)" >P2</text>
<text font-size="30.6" text-anchor="end" transform="translate(780.3,2251.3) rotate(-90)" >P3</text>
<text font-size="30.6" text-anchor="end" transform="translate(807.3,2251.3) rotate(-90)" >P4</text>
<text font-size="30.6" text-anchor="end" transform="translate(834.3,2251.3) rotate(-90)" >P5</text>
<text font-size="30.6" text-anchor="end" transform="translate(861.4,2251.3) rotate(-90)" >P6</text>
<text font-size="30.6" text-anchor="end" transform="translate(888.4,2251.3) rotate(-90)" >P7</text>
<text font-size="30.6" text-anchor="end" transform="translate(915.4,2251.3) rotate(-90)" >P8</text>
<polyline points="690.7,2038.8 719.9,2088.4 749.0,2105.1 778.2,2113.2 807.3,2112.8 836.5,2130.4 865.6,2149.4 894.8,2143.6" fill="none" stroke="#2a4696" stroke-width="2.9" stroke-linejoin="round" stroke-linecap="round"/>
<circle cx="690.7" cy="2038.8" r="2.3" fill="#2a4696"/>
<circle cx="719.9" cy="2088.4" r="2.3" fill="#2a4696"/>
<circle cx="749.0" cy="2105.1" r="2.3" fill="#2a4696"/>
<circle cx="778.2" cy="2113.2" r="2.3" fill="#2a4696"/>
<circle cx="807.3" cy="2112.8" r="2.3" fill="#2a4696"/>
<circle cx="836.5" cy="2130.4" r="2.3" fill="#2a4696"/>
<circle cx="865.6" cy="2149.4" r="2.3" fill="#2a4696"/>
<circle cx="894.8" cy="2143.6" r="2.3" fill="#2a4696"/>
<polyline points="690.7,2038.8 719.9,2099.3 749.0,2157.7 778.2,2184.6 807.3,2218.6 836.5,2228.1 865.6,2235.1 894.8,2230.1" fill="none" stroke="#9a742b" stroke-width="2.9" stroke-linejoin="round" stroke-linecap="round"/>
<circle cx="690.7" cy="2038.8" r="2.3" fill="#9a742b"/>
<circle cx="719.9" cy="2099.3" r="2.3" fill="#9a742b"/>
<circle cx="749.0" cy="2157.7" r="2.3" fill="#9a742b"/>
<circle cx="778.2" cy="2184.6" r="2.3" fill="#9a742b"/>
<circle cx="807.3" cy="2218.6" r="2.3" fill="#9a742b"/>
<circle cx="836.5" cy="2228.1" r="2.3" fill="#9a742b"/>
<circle cx="865.6" cy="2235.1" r="2.3" fill="#9a742b"/>
<circle cx="894.8" cy="2230.1" r="2.3" fill="#9a742b"/>
<line x1="951.9" y1="1999.0" x2="951.9" y2="2243.2" stroke="#000" stroke-width="1.6" />
<line x1="947.6" y1="2242.4" x2="1194.7" y2="2242.4" stroke="#000" stroke-width="1.6" />
<text font-size="30.5" text-anchor="end" x="939.3" y="2249.6" >0</text>
<line x1="947.6" y1="2202.0" x2="951.9" y2="2202.0" stroke="#000" stroke-width="1.6" />
<text font-size="30.5" text-anchor="end" x="943.8" y="2209.2" >20</text>
<line x1="947.6" y1="2161.5" x2="951.9" y2="2161.5" stroke="#000" stroke-width="1.6" />
<text font-size="30.5" text-anchor="end" x="943.8" y="2168.8" >40</text>
<line x1="947.6" y1="2121.1" x2="951.9" y2="2121.1" stroke="#000" stroke-width="1.6" />
<text font-size="30.5" text-anchor="end" x="943.8" y="2128.3" >60</text>
<line x1="947.6" y1="2080.7" x2="951.9" y2="2080.7" stroke="#000" stroke-width="1.6" />
<text font-size="30.5" text-anchor="end" x="943.8" y="2087.9" >80</text>
<line x1="947.6" y1="2040.2" x2="951.9" y2="2040.2" stroke="#000" stroke-width="1.6" />
<text font-size="30.5" text-anchor="end" x="948.8" y="2047.5" >100</text>
<line x1="947.6" y1="1999.8" x2="951.9" y2="1999.8" stroke="#000" stroke-width="1.6" />
<text font-size="30.5" text-anchor="end" x="948.8" y="2007.0" >120</text>
<line x1="971.3" y1="2242.4" x2="971.3" y2="2247.0" stroke="#000" stroke-width="1.6" />
<line x1="1000.5" y1="2242.4" x2="1000.5" y2="2247.0" stroke="#000" stroke-width="1.6" />
<line x1="1029.8" y1="2242.4" x2="1029.8" y2="2247.0" stroke="#000" stroke-width="1.6" />
<line x1="1059.0" y1="2242.4" x2="1059.0" y2="2247.0" stroke="#000" stroke-width="1.6" />
<line x1="1088.2" y1="2242.4" x2="1088.2" y2="2247.0" stroke="#000" stroke-width="1.6" />
<line x1="1117.4" y1="2242.4" x2="1117.4" y2="2247.0" stroke="#000" stroke-width="1.6" />
<line x1="1146.7" y1="2242.4" x2="1146.7" y2="2247.0" stroke="#000" stroke-width="1.6" />
<line x1="1175.9" y1="2242.4" x2="1175.9" y2="2247.0" stroke="#000" stroke-width="1.6" />
<text font-size="30.6" text-anchor="end" transform="translate(979.3,2252.7) rotate(-90)" >P0</text>
<text font-size="30.6" text-anchor="end" transform="translate(1006.3,2252.7) rotate(-90)" >P1</text>
<text font-size="30.6" text-anchor="end" transform="translate(1033.4,2252.7) rotate(-90)" >P2</text>
<text font-size="30.6" text-anchor="end" transform="translate(1060.4,2252.7) rotate(-90)" >P3</text>
<text font-size="30.6" text-anchor="end" transform="translate(1087.4,2252.7) rotate(-90)" >P4</text>
<text font-size="30.6" text-anchor="end" transform="translate(1114.5,2252.7) rotate(-90)" >P5</text>
<text font-size="30.6" text-anchor="end" transform="translate(1141.5,2252.7) rotate(-90)" >P6</text>
<text font-size="30.6" text-anchor="end" transform="translate(1168.5,2252.7) rotate(-90)" >P7</text>
<text font-size="30.6" text-anchor="end" transform="translate(1195.5,2252.7) rotate(-90)" >P8</text>
<polyline points="971.3,2040.2 1000.5,2128.0 1029.8,2162.9 1059.0,2175.5 1088.2,2180.5 1117.4,2204.4 1146.7,2211.7 1175.9,2218.1" fill="none" stroke="#2a4696" stroke-width="2.9" stroke-linejoin="round" stroke-linecap="round"/>
<circle cx="971.3" cy="2040.2" r="2.3" fill="#2a4696"/>
<circle cx="1000.5" cy="2128.0" r="2.3" fill="#2a4696"/>
<circle cx="1029.8" cy="2162.9" r="2.3" fill="#2a4696"/>
<circle cx="1059.0" cy="2175.5" r="2.3" fill="#2a4696"/>
<circle cx="1088.2" cy="2180.5" r="2.3" fill="#2a4696"/>
<circle cx="1117.4" cy="2204.4" r="2.3" fill="#2a4696"/>
<circle cx="1146.7" cy="2211.7" r="2.3" fill="#2a4696"/>
<circle cx="1175.9" cy="2218.1" r="2.3" fill="#2a4696"/>
<polyline points="971.3,2040.2 1000.5,2134.8 1029.8,2184.4 1059.0,2209.2 1088.2,2229.7 1117.4,2230.1 1146.7,2241.0 1175.9,2239.4" fill="none" stroke="#9a742b" stroke-width="2.9" stroke-linejoin="round" stroke-linecap="round"/>
<circle cx="971.3" cy="2040.2" r="2.3" fill="#9a742b"/>
<circle cx="1000.5" cy="2134.8" r="2.3" fill="#9a742b"/>
<circle cx="1029.8" cy="2184.4" r="2.3" fill="#9a742b"/>
<circle cx="1059.0" cy="2209.2" r="2.3" fill="#9a742b"/>
<circle cx="1088.2" cy="2229.7" r="2.3" fill="#9a742b"/>
<circle cx="1117.4" cy="2230.1" r="2.3" fill="#9a742b"/>
<circle cx="1146.7" cy="2241.0" r="2.3" fill="#9a742b"/>
<circle cx="1175.9" cy="2239.4" r="2.3" fill="#9a742b"/>
<line x1="1251.4" y1="1999.0" x2="1251.4" y2="2242.4" stroke="#000" stroke-width="1.6" />
<line x1="1247.1" y1="2241.6" x2="1493.7" y2="2241.6" stroke="#000" stroke-width="1.6" />
<text font-size="30.5" text-anchor="end" x="1239.2" y="2248.8" >0</text>
<line x1="1247.1" y1="2201.3" x2="1251.4" y2="2201.3" stroke="#000" stroke-width="1.6" />
<text font-size="30.5" text-anchor="end" x="1243.7" y="2208.5" >20</text>
<line x1="1247.1" y1="2161.0" x2="1251.4" y2="2161.0" stroke="#000" stroke-width="1.6" />
<text font-size="30.5" text-anchor="end" x="1243.7" y="2168.2" >40</text>
<line x1="1247.1" y1="2120.7" x2="1251.4" y2="2120.7" stroke="#000" stroke-width="1.6" />
<text font-size="30.5" text-anchor="end" x="1243.7" y="2127.9" >60</text>
<line x1="1247.1" y1="2080.4" x2="1251.4" y2="2080.4" stroke="#000" stroke-width="1.6" />
<text font-size="30.5" text-anchor="end" x="1243.7" y="2087.6" >80</text>
<line x1="1247.1" y1="2040.1" x2="1251.4" y2="2040.1" stroke="#000" stroke-width="1.6" />
<text font-size="30.5" text-anchor="end" x="1248.7" y="2047.3" >100</text>
<line x1="1247.1" y1="1999.8" x2="1251.4" y2="1999.8" stroke="#000" stroke-width="1.6" />
<text font-size="30.5" text-anchor="end" x="1248.7" y="2007.0" >120</text>
<line x1="1270.7" y1="2241.6" x2="1270.7" y2="2246.2" stroke="#000" stroke-width="1.6" />
<line x1="1299.8" y1="2241.6" x2="1299.8" y2="2246.2" stroke="#000" stroke-width="1.6" />
<line x1="1328.9" y1="2241.6" x2="1328.9" y2="2246.2" stroke="#000" stroke-width="1.6" />
<line x1="1358.0" y1="2241.6" x2="1358.0" y2="2246.2" stroke="#000" stroke-width="1.6" />
<line x1="1387.1" y1="2241.6" x2="1387.1" y2="2246.2" stroke="#000" stroke-width="1.6" />
<line x1="1416.2" y1="2241.6" x2="1416.2" y2="2246.2" stroke="#000" stroke-width="1.6" />
<line x1="1445.3" y1="2241.6" x2="1445.3" y2="2246.2" stroke="#000" stroke-width="1.6" />
<line x1="1474.4" y1="2241.6" x2="1474.4" y2="2246.2" stroke="#000" stroke-width="1.6" />
<text font-size="30.6" text-anchor="end" transform="translate(1280.2,2251.9) rotate(-90)" >P0</text>
<text font-size="30.6" text-anchor="end" transform="translate(1307.2,2251.9) rotate(-90)" >P1</text>
<text font-size="30.6" text-anchor="end" transform="translate(1334.3,2251.9) rotate(-90)" >P2</text>
<text font-size="30.6" text-anchor="end" transform="translate(1361.3,2251.9) rotate(-90)" >P3</text>
<text font-size="30.6" text-anchor="end" transform="translate(1388.3,2251.9) rotate(-90)" >P4</text>
<text font-size="30.6" text-anchor="end" transform="translate(1415.4,2251.9) rotate(-90)" >P5</text>
<text font-size="30.6" text-anchor="end" transform="translate(1442.4,2251.9) rotate(-90)" >P6</text>
<text font-size="30.6" text-anchor="end" transform="translate(1469.4,2251.9) rotate(-90)" >P7</text>
<text font-size="30.6" text-anchor="end" transform="translate(1496.4,2251.9) rotate(-90)" >P8</text>
<polyline points="1270.7,2040.1 1299.8,2070.9 1328.9,2088.1 1358.0,2067.3 1387.1,2058.4 1416.2,2087.0 1445.3,2105.0 1474.4,2095.7" fill="none" stroke="#2a4696" stroke-width="2.9" stroke-linejoin="round" stroke-linecap="round"/>
<circle cx="1270.7" cy="2040.1" r="2.3" fill="#2a4696"/>
<circle cx="1299.8" cy="2070.9" r="2.3" fill="#2a4696"/>
<circle cx="1328.9" cy="2088.1" r="2.3" fill="#2a4696"/>
<circle cx="1358.0" cy="2067.3" r="2.3" fill="#2a4696"/>
<circle cx="1387.1" cy="2058.4" r="2.3" fill="#2a4696"/>
<circle cx="1416.2" cy="2087.0" r="2.3" fill="#2a4696"/>
<circle cx="1445.3" cy="2105.0" r="2.3" fill="#2a4696"/>
<circle cx="1474.4" cy="2095.7" r="2.3" fill="#2a4696"/>
<polyline points="1270.7,2040.1 1299.8,2068.7 1328.9,2096.1 1358.0,2106.6 1387.1,2139.8 1416.2,2186.0 1445.3,2195.9 1474.4,2223.7" fill="none" stroke="#9a742b" stroke-width="2.9" stroke-linejoin="round" stroke-linecap="round"/>
<circle cx="1270.7" cy="2040.1" r="2.3" fill="#9a742b"/>
<circle cx="1299.8" cy="2068.7" r="2.3" fill="#9a742b"/>
<circle cx="1328.9" cy="2096.1" r="2.3" fill="#9a742b"/>
<circle cx="1358.0" cy="2106.6" r="2.3" fill="#9a742b"/>
<circle cx="1387.1" cy="2139.8" r="2.3" fill="#9a742b"/>
<circle cx="1416.2" cy="2186.0" r="2.3" fill="#9a742b"/>
<circle cx="1445.3" cy="2195.9" r="2.3" fill="#9a742b"/>
<circle cx="1474.4" cy="2223.7" r="2.3" fill="#9a742b"/>
<line x1="1543.4" y1="2005.3" x2="1543.4" y2="2249.8" stroke="#000" stroke-width="1.6" />
<line x1="1539.1" y1="2249.0" x2="1786.6" y2="2249.0" stroke="#000" stroke-width="1.6" />
<text font-size="30.5" text-anchor="end" x="1533.2" y="2256.2" >0</text>
<line x1="1539.1" y1="2208.5" x2="1543.4" y2="2208.5" stroke="#000" stroke-width="1.6" />
<text font-size="30.5" text-anchor="end" x="1537.7" y="2215.7" >20</text>
<line x1="1539.1" y1="2168.0" x2="1543.4" y2="2168.0" stroke="#000" stroke-width="1.6" />
<text font-size="30.5" text-anchor="end" x="1537.7" y="2175.3" >40</text>
<line x1="1539.1" y1="2127.6" x2="1543.4" y2="2127.6" stroke="#000" stroke-width="1.6" />
<text font-size="30.5" text-anchor="end" x="1537.7" y="2134.8" >60</text>
<line x1="1539.1" y1="2087.1" x2="1543.4" y2="2087.1" stroke="#000" stroke-width="1.6" />
<text font-size="30.5" text-anchor="end" x="1537.7" y="2094.3" >80</text>
<line x1="1539.1" y1="2046.6" x2="1543.4" y2="2046.6" stroke="#000" stroke-width="1.6" />
<text font-size="30.5" text-anchor="end" x="1542.7" y="2053.8" >100</text>
<line x1="1539.1" y1="2006.1" x2="1543.4" y2="2006.1" stroke="#000" stroke-width="1.6" />
<text font-size="30.5" text-anchor="end" x="1542.7" y="2013.3" >120</text>
<line x1="1562.7" y1="2249.0" x2="1562.7" y2="2253.6" stroke="#000" stroke-width="1.6" />
<line x1="1591.9" y1="2249.0" x2="1591.9" y2="2253.6" stroke="#000" stroke-width="1.6" />
<line x1="1621.1" y1="2249.0" x2="1621.1" y2="2253.6" stroke="#000" stroke-width="1.6" />
<line x1="1650.3" y1="2249.0" x2="1650.3" y2="2253.6" stroke="#000" stroke-width="1.6" />
<line x1="1679.6" y1="2249.0" x2="1679.6" y2="2253.6" stroke="#000" stroke-width="1.6" />
<line x1="1708.8" y1="2249.0" x2="1708.8" y2="2253.6" stroke="#000" stroke-width="1.6" />
<line x1="1738.0" y1="2249.0" x2="1738.0" y2="2253.6" stroke="#000" stroke-width="1.6" />
<line x1="1767.2" y1="2249.0" x2="1767.2" y2="2253.6" stroke="#000" stroke-width="1.6" />
<text font-size="30.6" text-anchor="end" transform="translate(1574.2,2259.3) rotate(-90)" >P0</text>
<text font-size="30.6" text-anchor="end" transform="translate(1601.2,2259.3) rotate(-90)" >P1</text>
<text font-size="30.6" text-anchor="end" transform="translate(1628.3,2259.3) rotate(-90)" >P2</text>
<text font-size="30.6" text-anchor="end" transform="translate(1655.3,2259.3) rotate(-90)" >P3</text>
<text font-size="30.6" text-anchor="end" transform="translate(1682.3,2259.3) rotate(-90)" >P4</text>
<text font-size="30.6" text-anchor="end" transform="translate(1709.4,2259.3) rotate(-90)" >P5</text>
<text font-size="30.6" text-anchor="end" transform="translate(1736.4,2259.3) rotate(-90)" >P6</text>
<text font-size="30.6" text-anchor="end" transform="translate(1763.4,2259.3) rotate(-90)" >P7</text>
<text font-size="30.6" text-anchor="end" transform="translate(1790.4,2259.3) rotate(-90)" >P8</text>
<polyline points="1562.7,2046.6 1591.9,2102.7 1621.1,2128.0 1650.3,2137.9 1679.6,2166.6 1708.8,2161.8 1738.0,2172.1 1767.2,2176.1" fill="none" stroke="#2a4696" stroke-width="2.9" stroke-linejoin="round" stroke-linecap="round"/>
<circle cx="1562.7" cy="2046.6" r="2.3" fill="#2a4696"/>
<circle cx="1591.9" cy="2102.7" r="2.3" fill="#2a4696"/>
<circle cx="1621.1" cy="2128.0" r="2.3" fill="#2a4696"/>
<circle cx="1650.3" cy="2137.9" r="2.3" fill="#2a4696"/>
<circle cx="1679.6" cy="2166.6" r="2.3" fill="#2a4696"/>
<circle cx="1708.8" cy="2161.8" r="2.3" fill="#2a4696"/>
<circle cx="1738.0" cy="2172.1" r="2.3" fill="#2a4696"/>
<circle cx="1767.2" cy="2176.1" r="2.3" fill="#2a4696"/>
<polyline points="1562.7,2046.6 1591.9,2094.2 1621.1,2126.9 1650.3,2151.8 1679.6,2184.8 1708.8,2199.4 1738.0,2221.3 1767.2,2227.5" fill="none" stroke="#9a742b" stroke-width="2.9" stroke-linejoin="round" stroke-linecap="round"/>
<circle cx="1562.7" cy="2046.6" r="2.3" fill="#9a742b"/>
<circle cx="1591.9" cy="2094.2" r="2.3" fill="#9a742b"/>
<circle cx="1621.1" cy="2126.9" r="2.3" fill="#9a742b"/>
<circle cx="1650.3" cy="2151.8" r="2.3" fill="#9a742b"/>
<circle cx="1679.6" cy="2184.8" r="2.3" fill="#9a742b"/>
<circle cx="1708.8" cy="2199.4" r="2.3" fill="#9a742b"/>
<circle cx="1738.0" cy="2221.3" r="2.3" fill="#9a742b"/>
<circle cx="1767.2" cy="2227.5" r="2.3" fill="#9a742b"/>
<line x1="1844.6" y1="2005.5" x2="1844.6" y2="2250.4" stroke="#000" stroke-width="1.6" />
<line x1="1840.3" y1="2249.6" x2="2086.4" y2="2249.6" stroke="#000" stroke-width="1.6" />
<text font-size="30.5" text-anchor="end" x="1832.0" y="2256.8" >0</text>
<line x1="1840.3" y1="2209.0" x2="1844.6" y2="2209.0" stroke="#000" stroke-width="1.6" />
<text font-size="30.5" text-anchor="end" x="1836.5" y="2216.3" >20</text>
<line x1="1840.3" y1="2168.5" x2="1844.6" y2="2168.5" stroke="#000" stroke-width="1.6" />
<text font-size="30.5" text-anchor="end" x="1836.5" y="2175.7" >40</text>
<line x1="1840.3" y1="2127.9" x2="1844.6" y2="2127.9" stroke="#000" stroke-width="1.6" />
<text font-size="30.5" text-anchor="end" x="1836.5" y="2135.2" >60</text>
<line x1="1840.3" y1="2087.4" x2="1844.6" y2="2087.4" stroke="#000" stroke-width="1.6" />
<text font-size="30.5" text-anchor="end" x="1836.5" y="2094.6" >80</text>
<line x1="1840.3" y1="2046.8" x2="1844.6" y2="2046.8" stroke="#000" stroke-width="1.6" />
<text font-size="30.5" text-anchor="end" x="1841.5" y="2054.1" >100</text>
<line x1="1840.3" y1="2006.3" x2="1844.6" y2="2006.3" stroke="#000" stroke-width="1.6" />
<text font-size="30.5" text-anchor="end" x="1841.5" y="2013.5" >120</text>
<line x1="1864.0" y1="2249.6" x2="1864.0" y2="2254.2" stroke="#000" stroke-width="1.6" />
<line x1="1893.2" y1="2249.6" x2="1893.2" y2="2254.2" stroke="#000" stroke-width="1.6" />
<line x1="1922.3" y1="2249.6" x2="1922.3" y2="2254.2" stroke="#000" stroke-width="1.6" />
<line x1="1951.5" y1="2249.6" x2="1951.5" y2="2254.2" stroke="#000" stroke-width="1.6" />
<line x1="1980.7" y1="2249.6" x2="1980.7" y2="2254.2" stroke="#000" stroke-width="1.6" />
<line x1="2009.9" y1="2249.6" x2="2009.9" y2="2254.2" stroke="#000" stroke-width="1.6" />
<line x1="2039.0" y1="2249.6" x2="2039.0" y2="2254.2" stroke="#000" stroke-width="1.6" />
<line x1="2068.2" y1="2249.6" x2="2068.2" y2="2254.2" stroke="#000" stroke-width="1.6" />
<text font-size="30.6" text-anchor="end" transform="translate(1870.0,2259.9) rotate(-90)" >P0</text>
<text font-size="30.6" text-anchor="end" transform="translate(1897.0,2259.9) rotate(-90)" >P1</text>
<text font-size="30.6" text-anchor="end" transform="translate(1924.1,2259.9) rotate(-90)" >P2</text>
<text font-size="30.6" text-anchor="end" transform="translate(1951.1,2259.9) rotate(-90)" >P3</text>
<text font-size="30.6" text-anchor="end" transform="translate(1978.1,2259.9) rotate(-90)" >P4</text>
<text font-size="30.6" text-anchor="end" transform="translate(2005.2,2259.9) rotate(-90)" >P5</text>
<text font-size="30.6" text-anchor="end" transform="translate(2032.2,2259.9) rotate(-90)" >P6</text>
<text font-size="30.6" text-anchor="end" transform="translate(2059.2,2259.9) rotate(-90)" >P7</text>
<text font-size="30.6" text-anchor="end" transform="translate(2086.2,2259.9) rotate(-90)" >P8</text>
<polyline points="1864.0,2046.8 1893.2,2090.6 1922.3,2126.5 1951.5,2132.4 1980.7,2141.7 2009.9,2142.1 2039.0,2150.0 2068.2,2149.6" fill="none" stroke="#2a4696" stroke-width="2.9" stroke-linejoin="round" stroke-linecap="round"/>
<circle cx="1864.0" cy="2046.8" r="2.3" fill="#2a4696"/>
<circle cx="1893.2" cy="2090.6" r="2.3" fill="#2a4696"/>
<circle cx="1922.3" cy="2126.5" r="2.3" fill="#2a4696"/>
<circle cx="1951.5" cy="2132.4" r="2.3" fill="#2a4696"/>
<circle cx="1980.7" cy="2141.7" r="2.3" fill="#2a4696"/>
<circle cx="2009.9" cy="2142.1" r="2.3" fill="#2a4696"/>
<circle cx="2039.0" cy="2150.0" r="2.3" fill="#2a4696"/>
<circle cx="2068.2" cy="2149.6" r="2.3" fill="#2a4696"/>
<polyline points="1864.0,2046.8 1893.2,2105.0 1922.3,2161.0 1951.5,2194.0 1980.7,2210.3 2009.9,2216.6 2039.0,2222.2 2068.2,2227.5" fill="none" stroke="#9a742b" stroke-width="2.9" stroke-linejoin="round" stroke-linecap="round"/>
<circle cx="1864.0" cy="2046.8" r="2.3" fill="#9a742b"/>
<circle cx="1893.2" cy="2105.0" r="2.3" fill="#9a742b"/>
<circle cx="1922.3" cy="2161.0" r="2.3" fill="#9a742b"/>
<circle cx="1951.5" cy="2194.0" r="2.3" fill="#9a742b"/>
<circle cx="1980.7" cy="2210.3" r="2.3" fill="#9a742b"/>
<circle cx="2009.9" cy="2216.6" r="2.3" fill="#9a742b"/>
<circle cx="2039.0" cy="2222.2" r="2.3" fill="#9a742b"/>
<circle cx="2068.2" cy="2227.5" r="2.3" fill="#9a742b"/>
<line x1="86.2" y1="2344.6" x2="130.5" y2="2344.6" stroke="#2a4696" stroke-width="2.6" />
<circle cx="108.3" cy="2344.6" r="2.8" fill="#2a4696"/>
<text font-size="32.4" font-weight="bold" fill="#1a1a1a" textLength="92" lengthAdjust="spacingAndGlyphs" x="131.5" y="2353.3" >DMSO</text>
<line x1="237.7" y1="2344.6" x2="282.8" y2="2344.6" stroke="#1b9e4b" stroke-width="2.6" />
<path d="M256.6,2347.4 L263.9,2347.4 L260.2,2340.8 Z" fill="#1b9e4b"/>
<text font-size="32.4" font-weight="bold" fill="#1a1a1a" textLength="124" lengthAdjust="spacingAndGlyphs" x="284.0" y="2353.3" >5 nM ola</text>
<line x1="428.6" y1="2344.6" x2="472.8" y2="2344.6" stroke="#f2962c" stroke-width="2.6" />
<path d="M447.7,2344.6 L450.7,2341.6 L453.7,2344.6 L450.7,2347.6 Z" fill="#f2962c"/>
<text font-size="32.4" font-weight="bold" fill="#1a1a1a" textLength="140.5" lengthAdjust="spacingAndGlyphs" x="472.8" y="2353.3" >10 nM ola</text>
<line x1="643.4" y1="2341.5" x2="688.0" y2="2341.5" stroke="#9a742b" stroke-width="2.6" />
<path d="M662.7,2341.5 L665.7,2338.5 L668.7,2341.5 L665.7,2344.5 Z" fill="#9a742b"/>
<text font-size="32.4" font-weight="bold" fill="#1a1a1a" textLength="140.5" lengthAdjust="spacingAndGlyphs" x="689.2" y="2351.2" >50 nM ola</text>
</svg>
</body></html>
